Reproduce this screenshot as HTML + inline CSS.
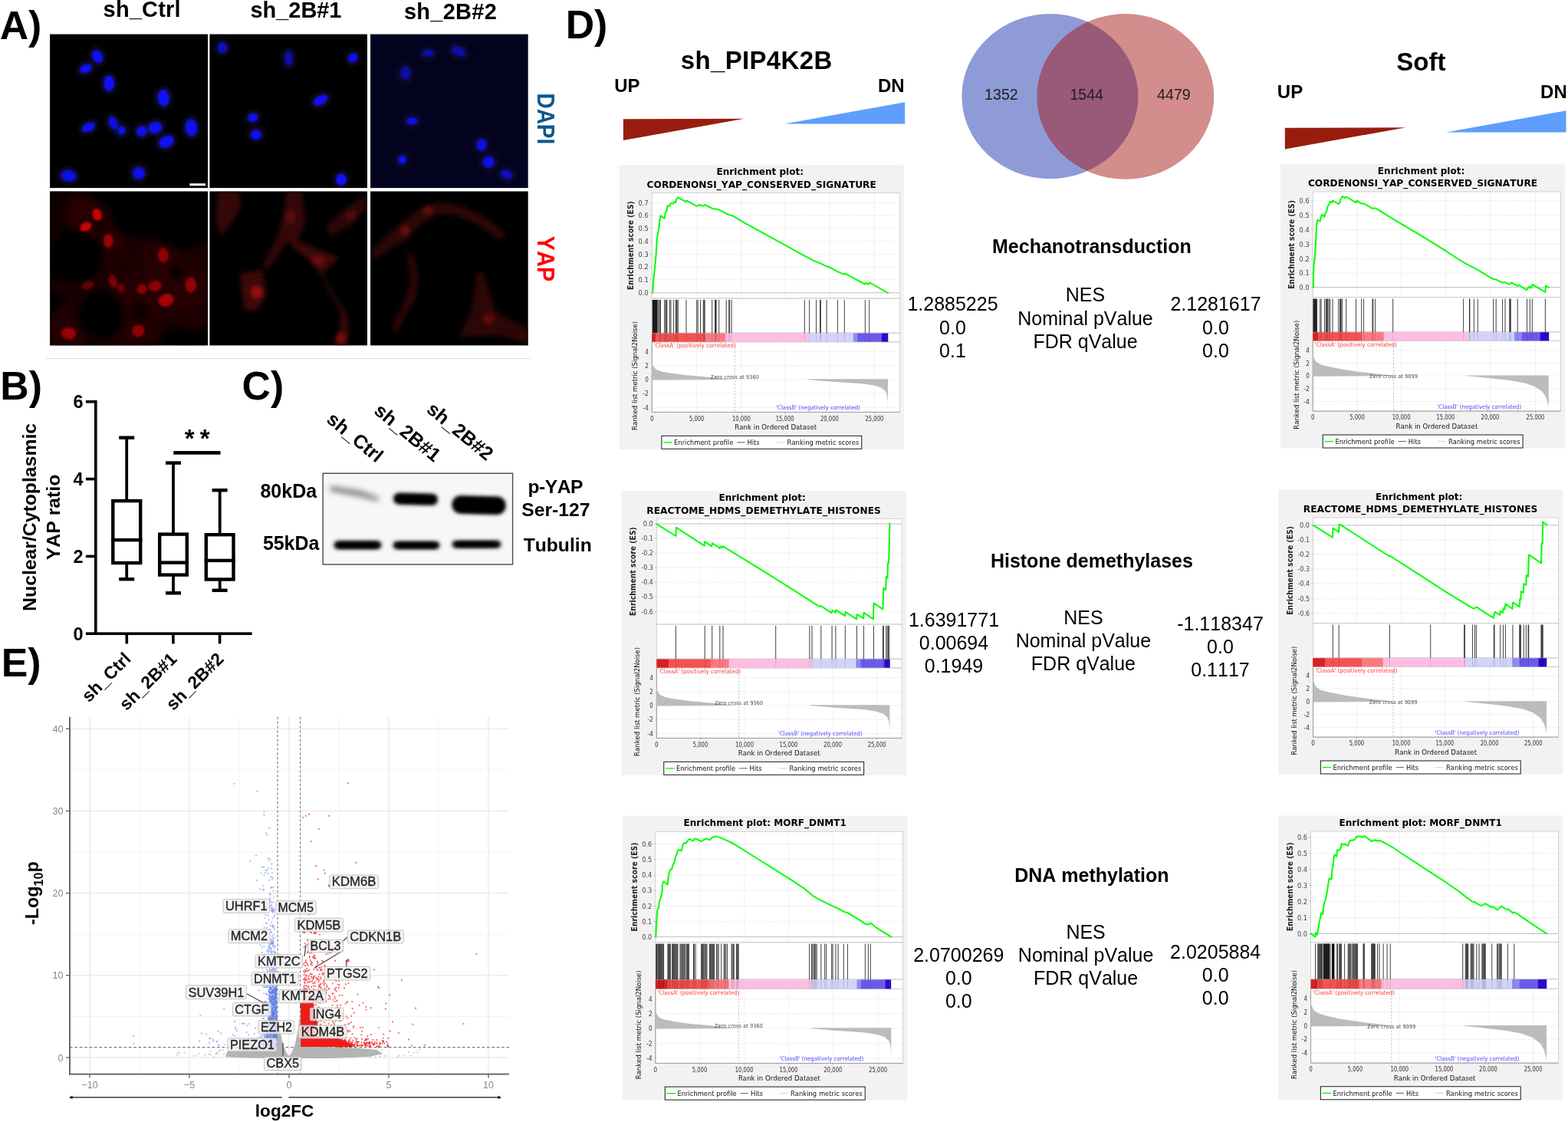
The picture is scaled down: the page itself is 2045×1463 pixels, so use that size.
<!DOCTYPE html>
<html lang="en">
<head>
<meta charset="utf-8">
<title>Figure</title>
<style>
html,body{margin:0;padding:0;background:#fff;}
body{width:2045px;height:1463px;overflow:hidden;font-family:'Liberation Sans',sans-serif;}
svg{display:block;position:absolute;left:0;top:0;}
text{white-space:pre;font-kerning:none;}
</style>
</head>
<body>
<svg width="2045" height="1463" viewBox="0 0 2045 1463" color-interpolation-filters="sRGB">
<rect x="0" y="0" width="2045" height="1463" fill="#ffffff"/>
<!-- panel_a -->
<g>
<defs><filter id="b1" x="-30%" y="-30%" width="160%" height="160%"><feGaussianBlur stdDeviation="0.9"/></filter><filter id="b2" x="-30%" y="-30%" width="160%" height="160%"><feGaussianBlur stdDeviation="2.2"/></filter><filter id="b4" x="-30%" y="-30%" width="160%" height="160%"><feGaussianBlur stdDeviation="4.5"/></filter><filter id="b7" x="-30%" y="-30%" width="160%" height="160%"><feGaussianBlur stdDeviation="7"/></filter><filter id="cell1" x="60" y="245" width="215" height="210" filterUnits="userSpaceOnUse"><feTurbulence type="fractalNoise" baseFrequency="0.35" numOctaves="3" seed="11" result="n"/><feColorMatrix in="n" type="matrix" values="0 0 0 0 1 0 0 0 0 1 0 0 0 0 1 0.8 0 0 0 0.5" result="a"/><feComposite in="SourceGraphic" in2="a" operator="in" result="c"/><feGaussianBlur in="c" stdDeviation="0.5"/></filter><filter id="nuc1" x="60" y="245" width="215" height="210" filterUnits="userSpaceOnUse"><feTurbulence type="fractalNoise" baseFrequency="0.5" numOctaves="2" seed="5" result="n"/><feColorMatrix in="n" type="matrix" values="0 0 0 0 1 0 0 0 0 1 0 0 0 0 1 1.0 0 0 0 0.4" result="a"/><feComposite in="SourceGraphic" in2="a" operator="in" result="c"/><feGaussianBlur in="c" stdDeviation="0.5"/></filter><filter id="cell2" x="270" y="245" width="425" height="210" filterUnits="userSpaceOnUse"><feGaussianBlur in="SourceGraphic" stdDeviation="2.2" result="b"/><feTurbulence type="fractalNoise" baseFrequency="0.6" numOctaves="3" seed="23" result="n"/><feColorMatrix in="n" type="matrix" values="0 0 0 0 1 0 0 0 0 1 0 0 0 0 1 0.9 0 0 0 0.4" result="a"/><feComposite in="b" in2="a" operator="in" result="c"/><feGaussianBlur in="c" stdDeviation="0.7"/></filter>
<clipPath id="cp00"><rect x="65.1" y="44.6" width="206.0" height="200.5"/></clipPath>
<clipPath id="cp01"><rect x="65.1" y="249.5" width="206.0" height="200.9"/></clipPath>
<clipPath id="cp10"><rect x="273.4" y="44.6" width="205.6" height="200.5"/></clipPath>
<clipPath id="cp11"><rect x="273.4" y="249.5" width="205.6" height="200.9"/></clipPath>
<clipPath id="cp20"><rect x="483.1" y="44.6" width="205.6" height="200.5"/></clipPath>
<clipPath id="cp21"><rect x="483.1" y="249.5" width="205.6" height="200.9"/></clipPath>
</defs>
<text x="134.60" y="21.70" font-family="'Liberation Sans', sans-serif" font-size="29" fill="#000" font-weight="bold" textLength="101.00" lengthAdjust="spacing">sh_Ctrl</text>
<text x="326.50" y="23.20" font-family="'Liberation Sans', sans-serif" font-size="29" fill="#000" font-weight="bold" textLength="119.00" lengthAdjust="spacing">sh_2B#1</text>
<text x="526.90" y="24.90" font-family="'Liberation Sans', sans-serif" font-size="29" fill="#000" font-weight="bold" textLength="121.00" lengthAdjust="spacing">sh_2B#2</text>
<rect x="65.1" y="44.6" width="206.0" height="200.5" fill="#000000"/>
<rect x="273.4" y="44.6" width="205.6" height="200.5" fill="#000000"/>
<rect x="483.1" y="44.6" width="205.6" height="200.5" fill="#04031f"/>
<rect x="65.1" y="249.5" width="206.0" height="200.9" fill="#000000"/>
<rect x="273.4" y="249.5" width="205.6" height="200.9" fill="#000000"/>
<rect x="483.1" y="249.5" width="205.6" height="200.9" fill="#000000"/>
<g clip-path="url(#cp00)">
<ellipse cx="127.1" cy="73.7" rx="11.5" ry="13.8" fill="#14143c" opacity="0.55" transform="rotate(-30 127.1 73.7)" filter="url(#b2)"/>
<ellipse cx="111.9" cy="89.4" rx="13.2" ry="10.5" fill="#14143c" opacity="0.55" transform="rotate(-22 111.9 89.4)" filter="url(#b2)"/>
<ellipse cx="142.2" cy="108.6" rx="12.0" ry="15.2" fill="#14143c" opacity="0.55" filter="url(#b2)"/>
<ellipse cx="213.2" cy="127.5" rx="12.8" ry="15.8" fill="#14143c" opacity="0.55" transform="rotate(-5 213.2 127.5)" filter="url(#b2)"/>
<ellipse cx="115.4" cy="165.9" rx="14.2" ry="10.5" fill="#14143c" opacity="0.55" transform="rotate(-25 115.4 165.9)" filter="url(#b2)"/>
<ellipse cx="147.7" cy="160.4" rx="10.5" ry="13.8" fill="#14143c" opacity="0.55" transform="rotate(-20 147.7 160.4)" filter="url(#b2)"/>
<ellipse cx="158.4" cy="169.8" rx="10.5" ry="10.9" fill="#14143c" opacity="0.55" filter="url(#b2)"/>
<ellipse cx="184.8" cy="171.1" rx="11.8" ry="11.8" fill="#14143c" opacity="0.55" filter="url(#b2)"/>
<ellipse cx="202.4" cy="166.3" rx="14.2" ry="12.4" fill="#14143c" opacity="0.55" transform="rotate(-15 202.4 166.3)" filter="url(#b2)"/>
<ellipse cx="249.4" cy="166.3" rx="12.8" ry="16.1" fill="#14143c" opacity="0.55" transform="rotate(-5 249.4 166.3)" filter="url(#b2)"/>
<ellipse cx="217.1" cy="184.8" rx="15.2" ry="12.4" fill="#14143c" opacity="0.55" transform="rotate(-25 217.1 184.8)" filter="url(#b2)"/>
<ellipse cx="89.4" cy="229.2" rx="15.2" ry="12.4" fill="#14143c" opacity="0.55" transform="rotate(10 89.4 229.2)" filter="url(#b2)"/>
<ellipse cx="180.9" cy="225.9" rx="13.2" ry="13.2" fill="#14143c" opacity="0.55" transform="rotate(20 180.9 225.9)" filter="url(#b2)"/>
<ellipse cx="127.1" cy="73.7" rx="6.5" ry="8.8" fill="#1010f6" transform="rotate(-30 127.1 73.7)" filter="url(#b1)"/>
<ellipse cx="111.9" cy="89.4" rx="8.2" ry="5.5" fill="#1010f6" transform="rotate(-22 111.9 89.4)" filter="url(#b1)"/>
<ellipse cx="142.2" cy="108.6" rx="7.0" ry="10.2" fill="#1010f6" filter="url(#b1)"/>
<ellipse cx="213.2" cy="127.5" rx="7.8" ry="10.8" fill="#1010f6" transform="rotate(-5 213.2 127.5)" filter="url(#b1)"/>
<ellipse cx="115.4" cy="165.9" rx="9.2" ry="5.5" fill="#1010f6" transform="rotate(-25 115.4 165.9)" filter="url(#b1)"/>
<ellipse cx="147.7" cy="160.4" rx="5.5" ry="8.8" fill="#1010f6" opacity="0.9" transform="rotate(-20 147.7 160.4)" filter="url(#b1)"/>
<ellipse cx="158.4" cy="169.8" rx="5.5" ry="5.9" fill="#1010f6" opacity="0.9" filter="url(#b1)"/>
<ellipse cx="184.8" cy="171.1" rx="6.8" ry="6.8" fill="#1010f6" opacity="0.95" filter="url(#b1)"/>
<ellipse cx="202.4" cy="166.3" rx="9.2" ry="7.4" fill="#1010f6" transform="rotate(-15 202.4 166.3)" filter="url(#b1)"/>
<ellipse cx="249.4" cy="166.3" rx="7.8" ry="11.1" fill="#1010f6" transform="rotate(-5 249.4 166.3)" filter="url(#b1)"/>
<ellipse cx="217.1" cy="184.8" rx="10.2" ry="7.4" fill="#1010f6" transform="rotate(-25 217.1 184.8)" filter="url(#b1)"/>
<ellipse cx="89.4" cy="229.2" rx="10.2" ry="7.4" fill="#1010f6" opacity="0.9" transform="rotate(10 89.4 229.2)" filter="url(#b1)"/>
<ellipse cx="180.9" cy="225.9" rx="8.2" ry="8.2" fill="#1010f6" opacity="0.9" transform="rotate(20 180.9 225.9)" filter="url(#b1)"/>
</g>
<rect x="247.4" y="239.2" width="20.6" height="3" fill="#fff"/>
<g clip-path="url(#cp10)">
<ellipse cx="290.1" cy="62.2" rx="11.5" ry="12.2" fill="#14102c" opacity="0.6" filter="url(#b2)"/>
<ellipse cx="376.5" cy="76.3" rx="10.5" ry="14.8" fill="#14102c" opacity="0.6" filter="url(#b2)"/>
<ellipse cx="330.0" cy="153.2" rx="11.8" ry="10.5" fill="#14102c" opacity="0.6" transform="rotate(-10 330.0 153.2)" filter="url(#b2)"/>
<ellipse cx="333.9" cy="175.5" rx="12.2" ry="11.8" fill="#14102c" opacity="0.6" filter="url(#b2)"/>
<ellipse cx="460.2" cy="75.3" rx="12.0" ry="10.9" fill="#14102c" opacity="0.6" transform="rotate(-35 460.2 75.3)" filter="url(#b2)"/>
<ellipse cx="418.1" cy="130.7" rx="15.2" ry="10.9" fill="#14102c" opacity="0.6" transform="rotate(-30 418.1 130.7)" filter="url(#b2)"/>
<ellipse cx="445.1" cy="234.1" rx="12.2" ry="12.8" fill="#14102c" opacity="0.6" filter="url(#b2)"/>
<ellipse cx="290.1" cy="62.2" rx="6.5" ry="7.2" fill="#1010f6" opacity="0.75" filter="url(#b1)"/>
<ellipse cx="376.5" cy="76.3" rx="5.5" ry="9.8" fill="#1010f6" opacity="0.65" filter="url(#b1)"/>
<ellipse cx="330.0" cy="153.2" rx="6.8" ry="5.5" fill="#1010f6" transform="rotate(-10 330.0 153.2)" filter="url(#b1)"/>
<ellipse cx="333.9" cy="175.5" rx="7.2" ry="6.8" fill="#1010f6" filter="url(#b1)"/>
<ellipse cx="460.2" cy="75.3" rx="7.0" ry="5.9" fill="#1010f6" opacity="0.95" transform="rotate(-35 460.2 75.3)" filter="url(#b1)"/>
<ellipse cx="418.1" cy="130.7" rx="10.2" ry="5.9" fill="#1010f6" transform="rotate(-30 418.1 130.7)" filter="url(#b1)"/>
<ellipse cx="445.1" cy="234.1" rx="7.2" ry="7.8" fill="#1010f6" filter="url(#b1)"/>
</g>
<g clip-path="url(#cp20)">
<ellipse cx="558.4" cy="69.4" rx="12.2" ry="9.9" fill="#101038" opacity="0.6" filter="url(#b2)"/>
<ellipse cx="598.1" cy="66.9" rx="14.8" ry="10.9" fill="#101038" opacity="0.6" transform="rotate(25 598.1 66.9)" filter="url(#b2)"/>
<ellipse cx="529.0" cy="95.3" rx="11.8" ry="13.2" fill="#101038" opacity="0.6" filter="url(#b2)"/>
<ellipse cx="537.5" cy="157.8" rx="12.4" ry="9.9" fill="#101038" opacity="0.6" filter="url(#b2)"/>
<ellipse cx="524.7" cy="208.3" rx="10.3" ry="10.3" fill="#101038" opacity="0.6" filter="url(#b2)"/>
<ellipse cx="628.0" cy="188.8" rx="11.8" ry="12.8" fill="#101038" opacity="0.6" filter="url(#b2)"/>
<ellipse cx="637.2" cy="211.2" rx="12.8" ry="12.4" fill="#101038" opacity="0.6" filter="url(#b2)"/>
<ellipse cx="660.7" cy="227.3" rx="12.8" ry="10.9" fill="#101038" opacity="0.6" transform="rotate(20 660.7 227.3)" filter="url(#b2)"/>
<ellipse cx="558.4" cy="69.4" rx="7.2" ry="4.9" fill="#1010f6" opacity="0.6" filter="url(#b1)"/>
<ellipse cx="598.1" cy="66.9" rx="9.8" ry="5.9" fill="#1010f6" opacity="0.6" transform="rotate(25 598.1 66.9)" filter="url(#b1)"/>
<ellipse cx="529.0" cy="95.3" rx="6.8" ry="8.2" fill="#1010f6" opacity="0.6" filter="url(#b1)"/>
<ellipse cx="537.5" cy="157.8" rx="7.4" ry="4.9" fill="#1010f6" opacity="0.9" filter="url(#b1)"/>
<ellipse cx="524.7" cy="208.3" rx="5.3" ry="5.3" fill="#1010f6" filter="url(#b1)"/>
<ellipse cx="628.0" cy="188.8" rx="6.8" ry="7.8" fill="#1010f6" opacity="0.9" filter="url(#b1)"/>
<ellipse cx="637.2" cy="211.2" rx="7.8" ry="7.4" fill="#1010f6" opacity="0.9" filter="url(#b1)"/>
<ellipse cx="660.7" cy="227.3" rx="7.8" ry="5.9" fill="#1010f6" opacity="0.7" transform="rotate(20 660.7 227.3)" filter="url(#b1)"/>
</g>
<g clip-path="url(#cp01)"><g filter="url(#cell1)">
<polygon points="84.1,249.6 109.5,253.5 136.9,276.9 156.5,306.3 205.4,312.2 234.7,329.8 271.9,312.2 271.9,425.6 254.3,435.4 224.9,425.6 205.4,451.0 64.5,451.0 64.5,411.9 88.0,386.5 125.2,357.1 135.0,323.9 109.5,304.3 88.0,288.7" fill="#1f0002" filter="url(#b4)"/>
<polygon points="65.5,249.6 86.1,249.6 88.0,292.6 78.2,331.7 65.5,339.5" fill="#150001" filter="url(#b4)"/>
<polygon points="65.5,365.0 136.9,357.1 140.8,382.6 93.9,386.5 65.5,382.6" fill="#1c0002" filter="url(#b4)"/>
<ellipse cx="109.5" cy="278.9" rx="25.4" ry="23.5" fill="#340003" opacity="0.5" filter="url(#b4)"/>
<ellipse cx="117.4" cy="286.7" rx="29.3" ry="25.4" fill="#340003" opacity="0.5" filter="url(#b4)"/>
<ellipse cx="211.2" cy="339.5" rx="27.4" ry="23.5" fill="#340003" opacity="0.5" filter="url(#b4)"/>
<ellipse cx="195.6" cy="382.6" rx="50.9" ry="29.3" fill="#340003" opacity="0.5" filter="url(#b4)"/>
<ellipse cx="248.4" cy="374.7" rx="21.5" ry="31.3" fill="#340003" opacity="0.5" filter="url(#b4)"/>
<ellipse cx="90.0" cy="433.4" rx="23.5" ry="19.6" fill="#340003" opacity="0.5" filter="url(#b4)"/>
<ellipse cx="180.0" cy="431.5" rx="21.5" ry="17.6" fill="#340003" opacity="0.5" filter="url(#b4)"/>
<ellipse cx="144.7" cy="316.1" rx="17.6" ry="19.6" fill="#340003" opacity="0.5" filter="url(#b4)"/>
<ellipse cx="97.8" cy="335.6" rx="33.3" ry="32.3" fill="#000" opacity="0.96" filter="url(#b4)"/>
<ellipse cx="131.1" cy="410.9" rx="29.3" ry="31.3" fill="#000" opacity="0.96" filter="url(#b4)"/>
<ellipse cx="230.8" cy="355.2" rx="8.8" ry="8.8" fill="#000" opacity="0.8" filter="url(#b4)"/>
<ellipse cx="181.9" cy="406.0" rx="10.8" ry="11.7" fill="#000" opacity="0.7" filter="url(#b4)"/>
<ellipse cx="129.1" cy="294.5" rx="7.8" ry="7.8" fill="#000" opacity="0.7" filter="url(#b4)"/>
<ellipse cx="244.5" cy="441.2" rx="31.3" ry="11.7" fill="#000" opacity="0.6" filter="url(#b4)"/>
</g><g filter="url(#nuc1)">
<ellipse cx="126.7" cy="279.9" rx="5.9" ry="8.2" fill="#ea0409" opacity="0.8967999999999999" transform="rotate(-20 126.7 279.9)" filter="url(#b1)"/>
<ellipse cx="111.9" cy="295.5" rx="7.8" ry="5.5" fill="#ea0409" opacity="0.95" transform="rotate(-25 111.9 295.5)" filter="url(#b1)"/>
<ellipse cx="141.4" cy="314.1" rx="6.3" ry="9.2" fill="#ea0409" opacity="0.646" filter="url(#b1)"/>
<ellipse cx="212.8" cy="332.7" rx="6.8" ry="9.8" fill="#ea0409" opacity="0.6080000000000001" transform="rotate(-5 212.8 332.7)" filter="url(#b1)"/>
<ellipse cx="114.4" cy="371.8" rx="8.2" ry="5.5" fill="#ea0409" opacity="0.38" transform="rotate(-20 114.4 371.8)" filter="url(#b1)"/>
<ellipse cx="147.3" cy="366.9" rx="5.5" ry="8.8" fill="#ea0409" opacity="0.49400000000000005" transform="rotate(-15 147.3 366.9)" filter="url(#b1)"/>
<ellipse cx="158.4" cy="375.7" rx="4.9" ry="5.5" fill="#ea0409" opacity="0.41800000000000004" filter="url(#b1)"/>
<ellipse cx="185.2" cy="376.7" rx="6.8" ry="6.8" fill="#ea0409" opacity="0.5319999999999999" filter="url(#b1)"/>
<ellipse cx="202.1" cy="372.8" rx="8.8" ry="7.4" fill="#ea0409" opacity="0.5700000000000001" transform="rotate(-10 202.1 372.8)" filter="url(#b1)"/>
<ellipse cx="248.8" cy="371.8" rx="7.4" ry="10.2" fill="#ea0409" opacity="0.6080000000000001" filter="url(#b1)"/>
<ellipse cx="216.7" cy="391.4" rx="10.2" ry="8.2" fill="#ea0409" opacity="0.722" transform="rotate(-20 216.7 391.4)" filter="url(#b1)"/>
<ellipse cx="89.4" cy="434.8" rx="9.8" ry="7.8" fill="#ea0409" opacity="0.646" transform="rotate(10 89.4 434.8)" filter="url(#b1)"/>
<ellipse cx="180.3" cy="431.5" rx="8.2" ry="8.2" fill="#ea0409" opacity="0.5700000000000001" filter="url(#b1)"/>
</g></g>
<g clip-path="url(#cp11)"><g filter="url(#cell2)">
<polygon points="283.6,249.6 311.0,249.6 314.9,269.1 301.2,292.6 287.5,308.2 281.7,288.7" fill="#4a0c0c" opacity="0.85" filter="url(#b2)"/>
<polygon points="373.6,249.6 393.2,249.6 399.0,288.7 389.2,312.2 371.6,318.0 350.1,351.3 342.3,347.4 361.9,308.2 369.7,278.9" fill="#4a0c0c" opacity="0.8" filter="url(#b2)"/>
<polygon points="313.0,357.1 342.3,351.3 348.2,386.5 332.5,406.0 318.8,404.1 314.9,378.7" fill="#4a0c0c" opacity="0.95" filter="url(#b2)"/>
<polygon points="477.8,255.4 479.8,269.1 458.2,294.5 430.9,308.2 425.0,294.5 444.5,276.9 466.1,261.3" fill="#4a0c0c" opacity="0.7" filter="url(#b2)"/>
<polygon points="380.0,306.3 391.7,316.1 442.6,335.6 419.1,359.1 403.5,339.5 380.0,320.0" fill="#4a0c0c" opacity="0.95" filter="url(#b2)"/>
<polygon points="418.1,359.1 421.5,359.1 438.7,390.4 451.4,406.0 455.3,425.6 453.3,451.0 435.7,451.0 443.0,425.6 444.5,406.0 431.8,386.5" fill="#4a0c0c" opacity="0.85" filter="url(#b2)"/>
<ellipse cx="378.5" cy="282.8" rx="6.8" ry="8.8" fill="#c81414" opacity="0.36000000000000004" filter="url(#b1)"/>
<ellipse cx="334.9" cy="381.0" rx="7.8" ry="9.0" fill="#c81414" opacity="0.765" filter="url(#b1)"/>
<ellipse cx="458.2" cy="280.9" rx="7.8" ry="5.9" fill="#c81414" opacity="0.315" transform="rotate(-30 458.2 280.9)" filter="url(#b1)"/>
<ellipse cx="415.2" cy="339.5" rx="8.8" ry="6.8" fill="#c81414" opacity="0.45" filter="url(#b1)"/>
<ellipse cx="444.5" cy="441.2" rx="6.8" ry="7.8" fill="#c81414" opacity="0.54" filter="url(#b1)"/>
</g></g>
<g clip-path="url(#cp21)"><g filter="url(#cell2)">
<polygon points="483.7,327.8 507.1,304.3 528.7,286.7 552.1,269.1 575.6,263.3 604.9,269.1 634.3,284.8 659.7,304.3 653.8,314.1 624.5,294.5 595.2,280.9 571.7,278.9 548.2,292.6 528.7,314.1 507.1,325.8 485.6,339.5" fill="#420b0b" opacity="0.8" filter="url(#b2)"/>
<polygon points="530.6,327.8 538.4,331.7 546.3,359.1 542.3,390.4 528.7,411.9 516.9,437.3 511.1,425.6 524.7,398.2 534.5,370.8 532.6,347.4" fill="#420b0b" opacity="0.75" filter="url(#b2)"/>
<polygon points="622.5,355.2 630.4,355.2 646.0,406.0 689.0,429.5 689.0,449.1 653.8,437.3 599.1,439.3 614.7,406.0" fill="#420b0b" opacity="0.8" filter="url(#b2)"/>
<ellipse cx="528.1" cy="300.4" rx="6.8" ry="7.4" fill="#c81414" opacity="0.45" filter="url(#b1)"/>
<ellipse cx="558.4" cy="274.6" rx="7.4" ry="6.3" fill="#c81414" opacity="0.405" transform="rotate(-20 558.4 274.6)" filter="url(#b1)"/>
<ellipse cx="637.2" cy="415.8" rx="7.4" ry="7.4" fill="#c81414" opacity="0.405" filter="url(#b1)"/>
</g></g>
<text x="701.20" y="121.60" font-family="'Liberation Sans', sans-serif" font-size="30.5" fill="#0a578c" font-weight="bold" textLength="66.60" lengthAdjust="spacingAndGlyphs" transform="rotate(90 701.20 121.60)">DAPI</text>
<text x="701.20" y="307.60" font-family="'Liberation Sans', sans-serif" font-size="30.5" fill="#ff0000" font-weight="bold" textLength="59.60" lengthAdjust="spacingAndGlyphs" transform="rotate(90 701.20 307.60)">YAP</text>
<rect x="59.7" y="467.1" width="632.3" height="1" fill="#dcdcdc"/>
<text x="-0.30" y="50.50" font-family="'Liberation Sans', sans-serif" font-size="51.8" fill="#000" font-weight="bold">A)</text>
</g>
<!-- panel_b -->
<g>
<rect x="123.0" y="521.9" width="3.6" height="306.1" fill="#000"/>
<rect x="111.9" y="824.4" width="216.7" height="3.6" fill="#000"/>
<text x="108.60" y="834.50" font-family="'Liberation Sans', sans-serif" font-size="23.5" fill="#000" font-weight="bold" text-anchor="end">0</text>
<rect x="111.9" y="723.6" width="13" height="3.6" fill="#000"/>
<text x="108.60" y="733.70" font-family="'Liberation Sans', sans-serif" font-size="23.5" fill="#000" font-weight="bold" text-anchor="end">2</text>
<rect x="111.9" y="622.8" width="13" height="3.6" fill="#000"/>
<text x="108.60" y="632.90" font-family="'Liberation Sans', sans-serif" font-size="23.5" fill="#000" font-weight="bold" text-anchor="end">4</text>
<rect x="111.9" y="522.0" width="13" height="3.6" fill="#000"/>
<text x="108.60" y="532.10" font-family="'Liberation Sans', sans-serif" font-size="23.5" fill="#000" font-weight="bold" text-anchor="end">6</text>
<rect x="163.5" y="826.2" width="3.6" height="13.2" fill="#000"/>
<rect x="224.1" y="826.2" width="3.6" height="13.2" fill="#000"/>
<rect x="284.8" y="826.2" width="3.6" height="13.2" fill="#000"/>
<rect x="147.3" y="653.1" width="35.9" height="80.9" fill="#fff" stroke="#000" stroke-width="4.4"/>
<rect x="145.1" y="701.9" width="40.3" height="4.4" fill="#000"/>
<rect x="163.3" y="570.7" width="3.8" height="81.2" fill="#000"/>
<rect x="163.3" y="735.2" width="3.8" height="20.0" fill="#000"/>
<rect x="155.2" y="568.5" width="20" height="4.4" fill="#000"/>
<rect x="155.2" y="753.0" width="20" height="4.4" fill="#000"/>
<rect x="208.2" y="696.6" width="35.6" height="53.0" fill="#fff" stroke="#000" stroke-width="4.4"/>
<rect x="206.0" y="731.4" width="40.0" height="4.4" fill="#000"/>
<rect x="224.1" y="603.6" width="3.8" height="91.8" fill="#000"/>
<rect x="224.1" y="750.8" width="3.8" height="22.5" fill="#000"/>
<rect x="216.0" y="601.4" width="20" height="4.4" fill="#000"/>
<rect x="216.0" y="771.1" width="20" height="4.4" fill="#000"/>
<rect x="268.8" y="697.2" width="35.7" height="58.3" fill="#fff" stroke="#000" stroke-width="4.4"/>
<rect x="266.6" y="728.7" width="40.1" height="4.4" fill="#000"/>
<rect x="284.8" y="639.2" width="3.8" height="56.8" fill="#000"/>
<rect x="284.8" y="756.7" width="3.8" height="13.1" fill="#000"/>
<rect x="276.6" y="637.0" width="20" height="4.4" fill="#000"/>
<rect x="276.6" y="767.6" width="20" height="4.4" fill="#000"/>
<rect x="226.3" y="588.1" width="61.2" height="4.6" fill="#000"/>
<text x="257.20" y="583.20" font-family="'Liberation Sans', sans-serif" font-size="33" fill="#000" font-weight="bold" text-anchor="middle" textLength="33.00" lengthAdjust="spacing">**</text>
<g transform="translate(0 0)">
<text transform="translate(46.8 674.4) rotate(-90)" font-family="'Liberation Sans', sans-serif" font-size="24.8" font-weight="bold" text-anchor="middle" textLength="245" lengthAdjust="spacing">Nuclear/Cytoplasmic</text>
<text transform="translate(78.2 674.4) rotate(-90)" font-family="'Liberation Sans', sans-serif" font-size="24.8" font-weight="bold" text-anchor="middle">YAP ratio</text>
</g>
<text transform="translate(172.0 860.6) rotate(-45)" font-family="'Liberation Sans', sans-serif" font-size="23" font-weight="bold" text-anchor="end">sh_Ctrl</text>
<text transform="translate(232.0 860.6) rotate(-45)" font-family="'Liberation Sans', sans-serif" font-size="23" font-weight="bold" text-anchor="end">sh_2B#1</text>
<text transform="translate(293.0 860.6) rotate(-45)" font-family="'Liberation Sans', sans-serif" font-size="23" font-weight="bold" text-anchor="end">sh_2B#2</text>
<text x="0.30" y="520.70" font-family="'Liberation Sans', sans-serif" font-size="51.8" fill="#000" font-weight="bold">B)</text>
<text x="1.70" y="881.70" font-family="'Liberation Sans', sans-serif" font-size="51.8" fill="#000" font-weight="bold">E)</text>
</g>
<!-- panel_c -->
<g>
<defs><filter id="wb1" x="-30%" y="-60%" width="160%" height="220%"><feGaussianBlur stdDeviation="2.6"/></filter><filter id="wb2" x="-30%" y="-60%" width="160%" height="220%"><feGaussianBlur stdDeviation="3.5"/></filter><clipPath id="wbc"><rect x="421" y="617.4" width="247.5" height="118"/></clipPath></defs>
<rect x="421.2" y="617.2" width="247.4" height="118.8" fill="#f7f7f7" stroke="#4a4a4a" stroke-width="1.4"/>
<g clip-path="url(#wbc)">
<path d="M430 633 L470 639 L494 648 L493 654 L468 648 L431 641 Z" fill="#808080" opacity=".85" filter="url(#wb2)"/>
<rect x="513" y="643.5" width="58" height="14.5" rx="7" fill="#000" filter="url(#wb1)" transform="rotate(1.5 542 651)"/>
<rect x="518" y="646" width="48" height="9.5" rx="4.5" fill="#000" filter="url(#wb1)" transform="rotate(1.5 542 651)"/>
<rect x="589.5" y="647" width="70" height="23" rx="11" fill="#000" filter="url(#wb1)" transform="rotate(1.5 624 658)"/>
<rect x="594" y="650" width="62" height="18" rx="8" fill="#000" filter="url(#wb1)" transform="rotate(1.5 624 658)"/>
<rect x="435.5" y="705.5" width="62" height="10.5" rx="5" fill="#000" filter="url(#wb1)"/>
<rect x="441" y="707.5" width="51" height="6.5" rx="3" fill="#000" filter="url(#wb1)"/>
<rect x="512.5" y="706" width="61" height="10" rx="5" fill="#000" filter="url(#wb1)"/>
<rect x="518" y="708" width="50" height="6" rx="3" fill="#000" filter="url(#wb1)"/>
<rect x="589.5" y="705" width="64" height="9.5" rx="4.7" fill="#000" filter="url(#wb1)"/>
<rect x="595" y="707" width="53" height="5.5" rx="2.7" fill="#000" filter="url(#wb1)"/>
</g>
<text x="339.40" y="648.70" font-family="'Liberation Sans', sans-serif" font-size="25" fill="#000" font-weight="bold" textLength="73.80" lengthAdjust="spacing">80kDa</text>
<text x="343.00" y="717.20" font-family="'Liberation Sans', sans-serif" font-size="25" fill="#000" font-weight="bold" textLength="73.30" lengthAdjust="spacing">55kDa</text>
<text x="724.50" y="643.30" font-family="'Liberation Sans', sans-serif" font-size="24.7" fill="#000" font-weight="bold" text-anchor="middle" textLength="71.80" lengthAdjust="spacing">p-YAP</text>
<text x="724.80" y="672.60" font-family="'Liberation Sans', sans-serif" font-size="24.7" fill="#000" font-weight="bold" text-anchor="middle">Ser-127</text>
<text x="727.20" y="718.60" font-family="'Liberation Sans', sans-serif" font-size="24.7" fill="#000" font-weight="bold" text-anchor="middle">Tubulin</text>
<text transform="translate(490.9 604.1) rotate(39.5)" font-family="'Liberation Sans', sans-serif" font-size="25" font-weight="bold" text-anchor="end">sh_Ctrl</text>
<text transform="translate(565.9 603.4) rotate(39.5)" font-family="'Liberation Sans', sans-serif" font-size="25" font-weight="bold" text-anchor="end">sh_2B#1</text>
<text transform="translate(634.4 601.6) rotate(39.5)" font-family="'Liberation Sans', sans-serif" font-size="25" font-weight="bold" text-anchor="end">sh_2B#2</text>
<text x="315.60" y="520.60" font-family="'Liberation Sans', sans-serif" font-size="51.8" fill="#000" font-weight="bold">C)</text>
</g>
<!-- panel_e -->
<g>
<defs><filter id="vb" x="-5%" y="-5%" width="110%" height="110%"><feGaussianBlur stdDeviation="0.45"/></filter><clipPath id="vcl"><rect x="91.0" y="934.8" width="573.0" height="465.79999999999995"/></clipPath></defs>
<g filter="url(#vb)">
<rect x="116.4" y="934.8" width="1.2" height="465.8" fill="#e8e8e8"/>
<rect x="246.4" y="934.8" width="1.2" height="465.8" fill="#e8e8e8"/>
<rect x="376.4" y="934.8" width="1.2" height="465.8" fill="#e8e8e8"/>
<rect x="506.4" y="934.8" width="1.2" height="465.8" fill="#e8e8e8"/>
<rect x="636.4" y="934.8" width="1.2" height="465.8" fill="#e8e8e8"/>
<rect x="181.6" y="934.8" width="0.8" height="465.8" fill="#f1f1f1"/>
<rect x="311.6" y="934.8" width="0.8" height="465.8" fill="#f1f1f1"/>
<rect x="441.6" y="934.8" width="0.8" height="465.8" fill="#f1f1f1"/>
<rect x="571.6" y="934.8" width="0.8" height="465.8" fill="#f1f1f1"/>
<rect x="91.0" y="1378.4" width="573.0" height="1.2" fill="#e8e8e8"/>
<rect x="91.0" y="1271.2" width="573.0" height="1.2" fill="#e8e8e8"/>
<rect x="91.0" y="1164.0" width="573.0" height="1.2" fill="#e8e8e8"/>
<rect x="91.0" y="1056.8" width="573.0" height="1.2" fill="#e8e8e8"/>
<rect x="91.0" y="949.6" width="573.0" height="1.2" fill="#e8e8e8"/>
<rect x="91.0" y="1325.0" width="573.0" height="0.8" fill="#f1f1f1"/>
<rect x="91.0" y="1217.8" width="573.0" height="0.8" fill="#f1f1f1"/>
<rect x="91.0" y="1110.6" width="573.0" height="0.8" fill="#f1f1f1"/>
<rect x="91.0" y="1003.4" width="573.0" height="0.8" fill="#f1f1f1"/>
<line x1="362.0" y1="934.8" x2="362.0" y2="1400.6" stroke="#777" stroke-width="1.1" stroke-dasharray="3.2 2.6"/>
<line x1="391.6" y1="934.8" x2="391.6" y2="1400.6" stroke="#777" stroke-width="1.1" stroke-dasharray="3.2 2.6"/>
<line x1="91.0" y1="1365.6" x2="664.0" y2="1365.6" stroke="#777" stroke-width="1.1" stroke-dasharray="3.6 2.8"/>
<g clip-path="url(#vcl)">
<path d="M293.8 1377.9 L296.4 1371.0 L325.0 1368.3 L343.2 1365.6 L361.4 1365.1 L362.2 1340.4 L365.3 1344.7 L369.2 1361.8 L373.9 1373.1 L377.0 1376.9 L380.1 1373.1 L384.8 1361.8 L388.7 1342.6 L391.3 1319.0 L392.6 1365.1 L429.0 1365.3 L465.4 1366.7 L491.4 1368.8 L499.2 1374.2 L481.0 1377.9 L429.0 1380.1 L351.0 1380.1 L312.0 1379.0Z" fill="#b4b4b4"/>
<path d="M416.7 1377.3h0M334.2 1377.3h0M451.0 1376.2h0M446.7 1377.1h0M410.0 1377.5h0M292.1 1373.9h0M416.4 1375.8h0M290.7 1369.1h0M336.5 1376.0h0M404.9 1378.2h0M417.2 1375.0h0M405.1 1376.4h0M349.6 1369.3h0M419.2 1372.0h0M351.9 1374.5h0M423.6 1377.1h0M332.7 1375.7h0M457.2 1374.1h0M401.4 1376.2h0M302.2 1378.2h0M462.1 1367.7h0M340.7 1375.8h0M303.6 1374.0h0M425.7 1373.4h0M469.8 1376.5h0M313.1 1375.2h0M352.4 1376.0h0M315.1 1373.3h0M461.1 1367.6h0M304.0 1377.2h0M470.0 1375.4h0M407.8 1374.5h0M323.3 1373.2h0M450.4 1377.6h0M401.5 1376.1h0M478.6 1375.1h0M417.1 1375.5h0M297.7 1371.6h0M442.0 1375.6h0M274.5 1375.1h0M435.6 1368.8h0M445.7 1371.4h0M479.5 1375.5h0M406.0 1375.0h0M452.9 1374.9h0M447.0 1378.3h0M337.0 1373.4h0M471.2 1376.1h0M308.5 1377.7h0M467.8 1373.0h0M459.5 1371.7h0M342.4 1375.1h0M452.0 1373.9h0M407.1 1377.7h0M420.3 1377.5h0M403.3 1375.4h0M431.1 1375.4h0M502.4 1376.7h0M440.2 1376.7h0M409.5 1368.6h0M240.7 1372.4h0M401.4 1376.3h0M401.0 1376.2h0M424.9 1377.0h0M526.4 1376.6h0M355.7 1377.9h0M231.4 1375.9h0M445.1 1372.2h0M441.9 1373.9h0M472.7 1369.3h0M423.1 1372.6h0M233.9 1372.6h0M304.6 1374.8h0M302.0 1377.5h0M455.7 1377.7h0M398.3 1374.2h0M475.1 1372.8h0M544.4 1372.3h0M439.7 1377.0h0M427.7 1377.3h0M423.9 1370.3h0M301.1 1375.2h0M332.3 1373.0h0M303.3 1371.7h0M430.1 1370.6h0M333.8 1378.5h0M322.2 1374.4h0M478.3 1373.7h0M476.7 1373.2h0M274.6 1370.9h0M352.9 1376.3h0M410.8 1370.4h0M329.0 1372.4h0M472.5 1370.7h0M344.8 1373.0h0M468.9 1377.1h0M256.0 1376.4h0M281.4 1374.1h0M405.5 1375.2h0M435.0 1378.0h0M463.3 1378.1h0M446.9 1370.5h0M479.5 1374.9h0M437.7 1368.4h0M325.4 1367.9h0M448.5 1371.9h0M353.6 1377.2h0M489.9 1378.2h0M417.8 1373.1h0M315.3 1375.5h0M448.8 1369.6h0M353.2 1373.1h0M432.7 1378.4h0M433.5 1377.6h0M320.0 1370.1h0M350.9 1373.5h0M355.1 1373.6h0M343.3 1370.3h0M319.9 1376.5h0M252.4 1376.7h0M350.7 1368.1h0M428.9 1377.0h0M259.8 1373.8h0M404.0 1376.0h0M432.0 1374.5h0M425.5 1376.7h0M463.7 1374.9h0M413.2 1367.3h0M438.7 1371.4h0M498.4 1369.0h0M414.2 1365.5h0M334.3 1374.8h0M495.3 1377.8h0M419.5 1373.6h0M335.6 1378.0h0M404.1 1374.0h0M329.3 1376.5h0M438.4 1377.9h0M338.6 1374.0h0M539.9 1372.4h0M422.9 1375.9h0M483.7 1376.2h0M417.3 1368.0h0M446.5 1376.7h0M347.2 1371.4h0M490.9 1370.9h0M349.3 1376.9h0M397.9 1376.3h0M331.7 1367.1h0M446.7 1372.1h0M310.5 1369.3h0M444.0 1368.7h0M433.7 1373.8h0M402.3 1366.9h0M344.6 1378.1h0M417.3 1374.6h0M413.6 1376.4h0M423.9 1377.3h0M432.5 1378.2h0M340.1 1375.1h0M315.4 1376.2h0M447.7 1376.1h0M412.9 1373.3h0M278.9 1378.1h0M334.2 1374.5h0M327.9 1370.0h0M309.1 1374.4h0M417.2 1375.8h0M472.3 1374.7h0M421.5 1369.6h0M443.0 1373.0h0M325.5 1377.7h0M429.1 1376.9h0M448.5 1375.3h0M439.4 1377.3h0M533.1 1371.8h0M535.8 1376.6h0M437.4 1373.2h0M320.6 1377.5h0M408.0 1372.4h0M432.2 1378.3h0M436.2 1375.6h0M399.2 1378.2h0M426.6 1372.8h0M351.4 1378.4h0M303.7 1376.1h0M272.5 1374.8h0M419.9 1375.4h0M306.4 1368.7h0M416.9 1372.6h0M336.9 1377.5h0M283.3 1374.3h0M440.9 1368.3h0M423.5 1369.0h0M283.0 1372.8h0M351.4 1370.9h0M401.7 1375.1h0M427.6 1370.4h0M454.0 1371.4h0M326.8 1372.7h0M415.4 1370.0h0M316.6 1378.3h0M343.9 1374.7h0M407.7 1378.0h0M349.0 1377.5h0M231.7 1373.2h0M301.4 1377.4h0M308.6 1377.1h0M413.7 1375.2h0M338.7 1377.7h0M429.4 1376.9h0M346.1 1371.2h0M345.0 1372.5h0M417.3 1376.3h0M520.3 1376.7h0M450.4 1377.8h0M451.2 1365.7h0M344.4 1377.1h0M421.9 1365.9h0M405.8 1371.6h0M431.2 1373.4h0M416.6 1377.6h0M416.5 1372.7h0M455.0 1373.0h0M401.7 1367.1h0M453.9 1378.3h0M341.2 1377.1h0M420.7 1374.7h0M343.2 1369.1h0M482.7 1378.4h0M402.8 1376.2h0M468.3 1374.7h0M426.0 1375.9h0M347.7 1374.6h0M463.7 1378.4h0M348.7 1374.1h0M405.2 1370.3h0M452.1 1375.7h0M518.0 1378.4h0M432.4 1375.0h0M287.3 1368.9h0M465.5 1371.9h0M301.3 1369.8h0M454.7 1376.0h0M325.2 1378.3h0M305.1 1378.1h0M405.1 1376.0h0M335.7 1377.6h0M477.0 1374.3h0M347.2 1373.4h0M404.3 1375.7h0M419.9 1367.2h0M347.1 1378.4h0M547.3 1368.5h0M410.7 1377.2h0M408.3 1378.2h0M431.5 1368.3h0M336.8 1378.5h0M328.4 1372.9h0M423.3 1375.0h0M423.7 1374.5h0M404.9 1375.7h0M306.8 1378.3h0M413.4 1375.6h0M430.3 1373.8h0M424.0 1368.5h0M355.7 1377.7h0M475.5 1376.8h0M438.8 1374.8h0M285.8 1370.7h0M438.8 1369.1h0M430.0 1377.8h0M413.0 1376.5h0M301.7 1377.3h0M472.8 1375.4h0M328.9 1371.2h0M317.6 1376.7h0M484.2 1376.2h0M401.4 1366.5h0M348.8 1375.6h0M418.8 1373.0h0M320.5 1376.9h0M401.6 1371.5h0M413.7 1377.8h0M447.7 1371.0h0M435.8 1374.4h0M430.3 1370.3h0M398.6 1370.4h0M348.7 1376.5h0M322.8 1367.9h0M402.3 1375.5h0M438.2 1377.0h0M352.8 1375.9h0M297.7 1374.8h0M436.0 1377.6h0M405.0 1375.0h0M404.7 1369.5h0M348.1 1365.8h0M350.6 1378.4h0M446.0 1371.8h0M267.2 1375.2h0M432.9 1375.1h0" fill="none" stroke="#b4b4b4" stroke-width="1.9" stroke-linecap="round" opacity="0.85"/>
<path d="M361.4 1365.1 L332.8 1365.1 L344.5 1353.3 L349.7 1336.1 L351.0 1293.2 L361.4 1286.8 Z" fill="#4f6fe0" opacity=".5"/>
<path d="M343.4 1353.8h0M354.9 1361.0h0M358.6 1293.8h0M358.6 1295.0h0M337.9 1291.2h0M354.9 1338.9h0M346.6 1305.9h0M357.8 1362.5h0M355.5 1335.4h0M360.9 1338.8h0M360.7 1342.9h0M357.8 1337.2h0M360.2 1288.6h0M353.3 1348.6h0M351.3 1299.9h0M353.8 1330.8h0M358.8 1335.5h0M358.9 1292.1h0M355.1 1293.9h0M350.7 1362.7h0M354.6 1304.2h0M358.8 1361.8h0M360.6 1292.1h0M360.9 1344.7h0M346.7 1338.2h0M352.1 1343.5h0M358.7 1344.3h0M358.9 1308.2h0M356.2 1364.8h0M352.8 1305.1h0M356.3 1290.2h0M360.4 1363.1h0M353.5 1289.2h0M357.3 1289.4h0M357.8 1331.0h0M357.3 1325.9h0M359.3 1301.4h0M356.0 1306.5h0M350.7 1316.9h0M358.4 1339.1h0M355.3 1303.0h0M357.5 1358.8h0M350.5 1345.4h0M352.8 1359.9h0M359.3 1339.2h0M346.2 1287.3h0M347.7 1344.1h0M354.6 1358.4h0M356.6 1308.8h0M360.4 1329.6h0M354.2 1315.9h0M361.0 1311.6h0M348.0 1312.4h0M358.1 1355.5h0M356.4 1320.1h0M360.8 1335.5h0M356.6 1345.4h0M353.1 1345.6h0M349.6 1319.2h0M344.4 1339.2h0M348.3 1324.8h0M357.6 1346.7h0M352.0 1286.5h0M348.8 1356.9h0M359.2 1298.4h0M355.7 1292.5h0M359.7 1355.6h0M352.3 1350.0h0M359.6 1291.3h0M356.2 1335.5h0M355.6 1344.4h0M358.1 1303.4h0M360.1 1317.8h0M359.8 1315.9h0M354.8 1353.8h0M360.9 1348.9h0M352.0 1313.4h0M355.1 1348.9h0M360.7 1311.3h0M359.4 1350.4h0M356.9 1302.0h0M358.3 1321.6h0M359.9 1333.7h0M359.2 1321.4h0M358.9 1352.1h0M356.5 1309.9h0M358.2 1340.7h0M357.8 1289.4h0M353.1 1336.7h0M346.1 1332.0h0M344.0 1336.2h0M360.5 1349.4h0M356.6 1364.6h0M350.0 1293.5h0M355.4 1332.8h0M357.2 1295.0h0M360.2 1363.9h0M351.7 1321.3h0M349.7 1358.0h0M355.6 1315.7h0M355.3 1353.5h0M345.9 1342.6h0M359.1 1356.4h0M355.2 1326.2h0M344.5 1349.4h0M343.9 1355.0h0M354.7 1326.8h0M355.2 1360.8h0M358.1 1293.3h0M359.3 1315.9h0M357.6 1302.7h0M350.3 1347.4h0M353.8 1299.3h0M359.8 1350.5h0M354.4 1324.0h0M357.5 1334.6h0M357.6 1307.6h0M352.7 1293.9h0M358.9 1305.0h0M359.4 1362.0h0M358.3 1317.5h0M357.1 1321.4h0M357.0 1331.7h0M352.3 1318.8h0M356.7 1329.6h0M351.9 1330.3h0M359.8 1326.2h0M360.1 1346.4h0M349.4 1328.7h0M358.0 1350.8h0M360.6 1354.9h0M355.0 1330.9h0M357.2 1324.6h0M359.3 1361.8h0M359.0 1306.9h0M358.9 1303.4h0M361.0 1325.1h0M357.7 1335.1h0M360.0 1297.1h0M359.7 1286.0h0M348.8 1349.7h0M344.2 1287.2h0M360.3 1292.4h0M357.4 1352.0h0M346.0 1359.9h0M361.0 1337.2h0M357.2 1293.9h0M359.6 1343.2h0M357.7 1325.2h0M359.8 1292.1h0M356.0 1324.9h0M357.0 1339.8h0M360.2 1352.3h0M355.0 1290.8h0M348.2 1351.7h0M354.9 1302.8h0M355.6 1314.6h0M355.1 1336.5h0M355.0 1319.1h0M344.3 1295.1h0M348.1 1315.1h0M359.6 1333.8h0M356.1 1286.5h0M353.8 1319.3h0M352.3 1330.0h0M361.1 1351.0h0M359.0 1300.0h0M348.7 1344.9h0M346.2 1318.6h0M361.0 1312.4h0M360.8 1362.4h0M355.8 1353.2h0M356.3 1324.4h0M357.9 1294.0h0M357.6 1313.3h0M354.8 1363.3h0M361.0 1356.6h0M359.7 1336.7h0M352.3 1318.3h0M355.7 1348.9h0M355.8 1354.4h0M361.0 1290.8h0M357.3 1357.5h0M353.0 1314.4h0M352.6 1333.2h0M351.4 1344.1h0M360.4 1320.5h0M356.7 1337.3h0M355.3 1290.7h0M361.0 1306.9h0M346.5 1361.6h0M357.0 1322.9h0M358.4 1360.4h0M352.6 1303.3h0M360.5 1290.4h0M358.3 1353.8h0M352.3 1324.8h0M359.5 1314.2h0M357.3 1340.5h0M347.6 1341.2h0M356.9 1303.0h0M348.1 1308.3h0M360.6 1305.9h0M360.8 1328.2h0M353.7 1347.1h0M360.9 1356.7h0M359.2 1338.4h0M356.7 1305.6h0M348.8 1308.6h0M354.3 1344.0h0M358.7 1302.5h0M360.2 1323.6h0M351.5 1288.5h0M360.3 1347.9h0M360.3 1344.4h0M360.5 1346.3h0M344.9 1305.9h0M356.7 1339.1h0M357.0 1346.1h0M354.1 1293.1h0M353.5 1312.3h0M348.4 1287.4h0M358.7 1309.7h0M351.1 1297.0h0M357.0 1319.8h0M358.9 1340.7h0M352.0 1358.9h0M360.2 1292.8h0M359.9 1356.6h0M359.0 1291.4h0M358.0 1362.8h0M357.8 1361.8h0M352.2 1309.8h0M352.9 1306.6h0M357.5 1336.2h0M355.1 1300.2h0M348.2 1359.8h0M347.2 1296.2h0M352.8 1356.6h0M359.8 1348.7h0M360.0 1297.8h0M352.7 1300.6h0M351.7 1315.0h0M358.7 1342.3h0M359.3 1305.0h0M358.2 1348.8h0M354.7 1363.4h0M359.0 1344.7h0M350.6 1335.9h0M353.3 1339.6h0M359.3 1297.5h0M354.3 1316.0h0M359.8 1330.4h0M355.1 1303.7h0M352.5 1322.4h0M359.2 1347.9h0M358.9 1300.0h0M356.6 1351.5h0M361.1 1304.6h0M353.3 1287.5h0M360.9 1326.1h0M358.0 1301.9h0M353.9 1337.5h0M360.1 1299.1h0M345.0 1342.6h0M358.7 1348.0h0M353.6 1356.3h0M350.7 1314.6h0M355.3 1309.8h0M356.7 1302.6h0M356.6 1333.2h0M358.9 1333.8h0M359.3 1294.6h0M359.7 1363.1h0M356.1 1293.6h0M351.0 1325.3h0M351.5 1346.5h0M350.0 1328.5h0M358.9 1305.3h0M357.7 1313.8h0M356.2 1352.7h0M355.3 1298.2h0M351.7 1351.6h0M359.8 1330.3h0M352.3 1355.1h0M357.4 1328.4h0M357.8 1349.9h0M357.4 1341.1h0M348.7 1352.8h0M361.0 1352.7h0M355.1 1323.6h0M359.1 1352.3h0M357.3 1287.7h0M347.2 1307.3h0M350.8 1357.0h0M349.2 1334.6h0M359.9 1306.9h0M357.9 1330.6h0M352.0 1356.6h0M359.8 1348.7h0M360.0 1333.4h0M358.4 1302.3h0M353.7 1314.9h0M355.4 1328.3h0M354.0 1333.0h0M355.1 1306.3h0M357.2 1319.5h0M356.9 1305.6h0M358.8 1307.8h0M359.6 1295.2h0M350.8 1297.4h0M356.5 1311.2h0M355.4 1340.2h0M355.4 1315.2h0M357.1 1303.0h0M357.6 1308.5h0M357.4 1331.5h0M356.1 1329.0h0M356.3 1311.5h0M357.1 1291.3h0M352.1 1303.3h0M342.9 1334.2h0M360.0 1362.0h0M354.9 1322.0h0M351.1 1290.4h0M354.0 1323.9h0M355.9 1322.1h0M351.5 1308.2h0M360.4 1299.3h0M347.2 1323.7h0M352.4 1348.4h0M352.2 1310.8h0M354.0 1355.4h0M359.7 1287.0h0M359.3 1343.3h0M354.1 1333.4h0M360.6 1331.7h0M358.0 1309.7h0M356.9 1347.3h0M353.4 1306.2h0M358.1 1347.7h0M357.5 1301.5h0M358.2 1354.8h0M357.6 1303.5h0M352.2 1327.8h0M358.5 1320.5h0M343.9 1337.1h0M355.9 1314.4h0M349.8 1327.9h0M357.8 1341.7h0M360.1 1298.9h0M358.0 1336.9h0M356.8 1335.2h0M357.3 1345.0h0M359.2 1364.9h0M360.2 1307.8h0M356.2 1341.1h0M352.5 1327.0h0M357.0 1312.8h0M349.2 1336.3h0M355.4 1360.5h0M351.3 1299.4h0M354.5 1353.9h0M360.4 1299.1h0M360.3 1364.2h0M358.3 1289.6h0M356.9 1357.0h0M359.9 1353.7h0M349.5 1337.6h0M351.3 1353.0h0M354.4 1351.7h0M352.0 1294.4h0M353.7 1312.0h0M358.1 1294.2h0M348.6 1349.4h0M350.2 1310.1h0M359.0 1330.3h0M356.2 1295.0h0M359.3 1346.5h0M358.8 1354.0h0M361.0 1328.0h0M353.2 1353.6h0M360.7 1322.3h0M348.2 1296.6h0M360.6 1327.9h0M354.6 1320.4h0M350.0 1335.3h0M358.5 1331.8h0M360.5 1314.5h0M352.0 1314.6h0M359.5 1310.9h0M351.9 1291.2h0M344.4 1324.6h0M359.7 1326.6h0M360.1 1308.1h0M354.0 1315.5h0M349.7 1336.0h0M349.7 1327.4h0M359.3 1348.3h0M353.6 1330.5h0M357.1 1299.5h0M357.9 1341.8h0M355.1 1325.1h0M342.8 1343.5h0M360.4 1313.1h0M358.3 1302.2h0M356.0 1341.3h0M353.3 1318.5h0M352.3 1361.9h0M354.8 1307.7h0M355.6 1361.1h0M356.8 1341.2h0M361.0 1292.0h0M354.6 1316.8h0M351.2 1292.9h0M354.1 1316.5h0M354.8 1309.8h0M359.2 1317.8h0M356.9 1312.2h0M360.9 1328.7h0M358.0 1350.7h0M358.8 1362.1h0M346.3 1313.0h0M355.9 1335.8h0M350.5 1320.5h0M358.9 1344.6h0M354.4 1339.8h0M351.2 1330.9h0M348.9 1360.7h0M357.8 1320.0h0M360.3 1300.8h0M354.7 1319.4h0M357.5 1363.9h0M347.8 1334.4h0M352.4 1287.3h0M358.5 1327.3h0M359.5 1313.9h0M360.4 1348.2h0M360.2 1364.7h0M348.4 1310.8h0M349.0 1358.1h0M360.3 1296.1h0M360.2 1308.0h0M360.7 1345.8h0M356.8 1361.1h0M358.1 1303.7h0M348.2 1307.2h0M353.8 1358.4h0M353.5 1328.5h0M360.7 1291.1h0M343.7 1308.2h0M351.4 1364.2h0M360.2 1300.2h0M357.0 1358.7h0M351.0 1351.9h0M358.8 1296.8h0M360.9 1335.9h0M351.7 1319.5h0M357.3 1353.6h0M354.8 1301.8h0M353.8 1315.1h0M352.2 1331.9h0M353.3 1290.1h0M356.0 1302.8h0M358.8 1360.3h0M357.5 1287.8h0M349.0 1338.7h0M348.5 1317.0h0M359.3 1317.4h0M348.4 1340.6h0M355.0 1335.2h0M349.6 1310.7h0M352.6 1301.0h0M355.9 1342.6h0M361.1 1331.5h0M355.4 1318.5h0M348.2 1361.7h0M356.0 1299.0h0M348.6 1319.7h0M353.9 1343.3h0M351.3 1310.8h0M359.5 1292.6h0M358.8 1321.1h0M357.7 1301.8h0M350.4 1291.2h0M353.2 1346.5h0M354.8 1328.2h0M360.8 1348.7h0M349.9 1302.3h0M350.7 1328.6h0M354.7 1303.8h0M348.5 1346.6h0M354.2 1294.9h0M352.2 1323.7h0M359.8 1350.1h0M356.7 1349.8h0M351.6 1336.3h0M354.5 1320.3h0M356.4 1353.2h0M354.6 1361.5h0M361.0 1356.6h0M360.2 1314.9h0M357.3 1317.7h0M359.8 1337.7h0M361.0 1362.4h0M355.9 1286.5h0M355.3 1320.1h0M359.8 1344.3h0M354.1 1290.0h0M353.9 1304.2h0M345.3 1344.9h0M359.8 1362.1h0M357.1 1358.4h0M348.3 1361.0h0M356.3 1328.7h0M359.1 1289.9h0M359.8 1317.6h0M348.7 1333.5h0M349.4 1344.7h0M350.4 1320.3h0" fill="none" stroke="#4f6fe0" stroke-width="1.8" stroke-linecap="round" opacity="0.8"/>
<path d="M343.6 1217.7h0M355.5 1256.8h0M358.8 1272.8h0M360.4 1286.4h0M349.1 1139.1h0M355.1 1137.8h0M355.8 1189.7h0M344.7 1209.4h0M342.6 1285.3h0M359.9 1278.9h0M340.2 1216.3h0M349.1 1266.1h0M353.4 1281.8h0M359.8 1263.8h0M355.5 1246.7h0M360.1 1277.1h0M354.3 1216.1h0M359.7 1288.1h0M355.7 1286.6h0M352.5 1120.0h0M339.1 1159.3h0M351.2 1147.7h0M354.0 1282.4h0M349.8 1119.0h0M350.4 1250.2h0M356.0 1262.2h0M350.9 1225.3h0M360.0 1279.0h0M355.8 1208.5h0M349.6 1237.1h0M347.7 1269.0h0M356.3 1254.8h0M352.2 1171.3h0M355.5 1262.8h0M352.2 1264.3h0M340.1 1138.8h0M346.4 1285.2h0M353.9 1144.0h0M354.9 1247.2h0M359.9 1267.3h0M354.7 1259.8h0M350.6 1122.3h0M352.8 1143.2h0M359.7 1285.1h0M354.3 1287.9h0M355.4 1183.1h0M357.1 1288.8h0M352.5 1174.1h0M358.9 1252.2h0M354.2 1132.6h0M350.5 1279.4h0M358.8 1276.2h0M348.1 1274.9h0M351.5 1283.6h0M353.9 1244.9h0M357.2 1268.4h0M348.1 1209.8h0M353.1 1181.6h0M358.0 1284.6h0M347.8 1204.1h0M353.8 1285.3h0M350.0 1181.9h0M344.1 1160.4h0M342.4 1245.3h0M357.9 1247.3h0M356.4 1156.7h0M352.4 1174.4h0M356.0 1259.5h0M352.6 1230.8h0M352.3 1288.7h0M358.3 1242.3h0M357.3 1280.7h0M343.0 1159.9h0M358.2 1264.1h0M350.7 1199.4h0M347.1 1284.9h0M345.6 1245.0h0M349.9 1242.6h0M358.9 1287.6h0M358.8 1272.7h0M356.9 1270.4h0M354.1 1179.7h0M357.8 1211.7h0M349.9 1275.0h0M358.0 1233.7h0M358.3 1241.4h0M353.5 1158.0h0M354.6 1207.7h0M358.4 1245.2h0M358.7 1244.3h0M355.9 1255.5h0M347.5 1279.5h0M352.0 1278.7h0M359.1 1234.2h0M352.8 1176.5h0M346.7 1257.3h0M352.2 1241.0h0M347.2 1256.6h0M355.1 1262.4h0M356.0 1271.3h0M350.5 1184.0h0M350.2 1132.1h0M346.8 1285.4h0M341.8 1242.1h0M355.5 1270.5h0M354.7 1253.7h0M353.8 1240.3h0M352.2 1284.3h0M356.9 1287.6h0M347.2 1279.3h0M356.3 1224.4h0M345.5 1182.4h0M349.9 1286.7h0M357.7 1223.0h0M348.5 1268.4h0M349.6 1238.7h0M355.2 1270.4h0M341.9 1241.7h0M352.4 1267.1h0M357.7 1265.5h0M355.9 1230.9h0M358.4 1242.6h0M350.6 1239.9h0M357.5 1278.6h0M357.2 1266.6h0M358.4 1255.4h0M354.9 1283.0h0M353.6 1238.1h0M350.1 1234.6h0M355.1 1221.4h0M347.9 1249.2h0M352.6 1237.9h0M354.3 1265.0h0M358.6 1271.1h0M350.7 1257.9h0M351.9 1232.3h0M356.5 1161.6h0M351.7 1271.4h0M357.0 1267.4h0M359.5 1266.4h0M356.1 1284.5h0M354.3 1157.1h0M358.8 1257.4h0M359.3 1251.7h0M356.5 1272.5h0M354.3 1202.6h0M354.1 1261.0h0M347.3 1216.6h0M347.4 1178.2h0M358.5 1242.0h0M345.3 1197.2h0M356.9 1247.5h0M344.2 1130.6h0M360.0 1280.2h0M357.5 1195.6h0M339.1 1232.3h0M358.9 1234.4h0M356.4 1254.1h0M343.5 1228.8h0M351.6 1258.3h0M355.8 1206.4h0M352.4 1266.7h0M353.5 1257.7h0M356.5 1264.0h0M344.7 1244.4h0M357.0 1251.2h0M354.4 1278.9h0M356.2 1233.9h0M354.4 1126.4h0M351.8 1263.8h0M347.9 1274.3h0M358.7 1253.2h0M360.1 1285.8h0M341.7 1235.4h0M357.7 1193.4h0M349.9 1239.2h0M359.3 1242.1h0M353.0 1214.6h0M354.4 1230.9h0M348.8 1261.1h0M355.6 1241.0h0M355.0 1282.2h0M353.6 1236.0h0M344.5 1234.1h0M345.7 1246.1h0M341.2 1251.6h0M341.6 1261.9h0M357.4 1240.4h0M355.7 1264.3h0M353.7 1176.5h0M356.2 1144.3h0M348.4 1213.6h0M335.2 1148.1h0M356.2 1253.8h0M354.0 1242.9h0M357.6 1243.7h0M354.3 1225.0h0M344.0 1229.5h0M339.1 1223.9h0M349.0 1286.2h0M352.8 1265.4h0M351.9 1213.5h0M357.1 1170.2h0M356.6 1232.2h0M355.0 1244.6h0M358.1 1237.1h0M348.1 1240.2h0M355.8 1234.0h0M358.3 1278.0h0M355.3 1197.3h0M358.2 1276.9h0M354.6 1241.4h0M348.0 1183.3h0M347.3 1284.8h0M359.0 1263.9h0M355.5 1208.1h0M356.4 1269.0h0M352.1 1282.2h0M354.1 1261.4h0M357.7 1250.5h0M354.9 1146.7h0M351.0 1232.7h0M356.8 1226.7h0M342.9 1270.5h0M352.2 1164.9h0M348.5 1264.6h0M351.6 1265.7h0M350.2 1229.6h0M358.0 1271.1h0M358.7 1257.2h0M354.7 1265.2h0M343.1 1155.0h0M358.9 1271.0h0M357.2 1276.7h0M356.2 1266.9h0M352.0 1235.9h0M353.5 1257.6h0M356.1 1255.8h0M355.9 1176.5h0M359.8 1261.1h0M355.1 1267.5h0M349.0 1271.5h0M357.5 1262.1h0M359.5 1278.1h0M356.9 1268.7h0M351.5 1173.1h0M351.3 1172.5h0M353.8 1183.8h0M352.2 1206.5h0M354.7 1258.5h0M358.1 1243.7h0M356.3 1272.4h0M357.3 1210.1h0M351.8 1269.5h0M353.8 1259.4h0M356.0 1270.8h0M353.5 1156.5h0M350.8 1280.5h0M359.4 1268.7h0M349.4 1193.9h0M351.6 1235.0h0M357.5 1265.0h0M358.3 1276.4h0M352.2 1166.5h0M350.2 1281.5h0M353.3 1235.9h0M353.1 1266.3h0M358.5 1284.6h0M355.3 1280.3h0M356.8 1207.8h0M348.5 1134.8h0M346.5 1193.0h0M350.1 1279.8h0M348.6 1268.1h0M356.5 1218.9h0M350.2 1261.1h0M352.5 1211.7h0M356.1 1270.6h0M352.9 1225.2h0M347.5 1276.1h0M346.9 1203.8h0M356.3 1208.8h0" fill="none" stroke="#5b7be6" stroke-width="2.1" stroke-linecap="round" opacity="0.55"/>
<path d="M349.0 1361.3h0M344.2 1356.8h0M352.6 1358.7h0M327.2 1361.7h0M306.0 1350.6h0M320.8 1360.0h0M338.8 1345.3h0M342.4 1365.0h0M306.9 1339.4h0M344.8 1364.3h0M303.5 1349.0h0M352.3 1360.3h0M350.5 1338.2h0M347.5 1322.9h0M317.6 1363.5h0M322.8 1356.5h0M317.8 1334.8h0M345.0 1363.4h0M277.5 1355.6h0M284.4 1344.9h0M318.7 1334.7h0M327.9 1354.7h0M352.1 1344.5h0M339.1 1352.8h0M285.1 1362.7h0M316.3 1364.3h0M322.1 1337.0h0M345.7 1351.5h0M262.9 1347.7h0M333.2 1360.1h0M352.0 1357.5h0M339.8 1361.2h0M343.9 1362.5h0M321.7 1346.0h0M346.5 1360.3h0M334.8 1355.0h0M282.2 1357.6h0M344.3 1328.0h0M349.6 1350.9h0M343.0 1336.1h0M332.9 1340.5h0M348.8 1346.2h0M329.9 1354.5h0M315.8 1334.6h0M350.4 1359.2h0M342.0 1361.1h0M352.0 1359.4h0M347.9 1344.3h0M338.1 1363.0h0M343.4 1354.2h0M341.9 1361.9h0M351.7 1364.9h0M351.3 1343.4h0M350.6 1353.6h0M338.8 1361.5h0M333.2 1364.9h0M288.1 1347.3h0M327.9 1318.1h0M326.1 1360.1h0M346.3 1362.5h0M352.9 1339.5h0M306.0 1359.0h0M348.3 1347.6h0M305.0 1320.2h0M348.8 1338.7h0M307.5 1341.8h0M343.3 1361.6h0M308.2 1358.4h0M341.6 1351.3h0M341.6 1334.5h0M346.5 1364.3h0M331.8 1348.1h0M309.1 1344.1h0M292.3 1315.3h0M335.9 1353.2h0M349.1 1359.0h0M331.0 1363.6h0M323.3 1362.0h0M338.4 1305.0h0M351.2 1364.4h0M338.5 1361.4h0M320.2 1365.0h0M305.8 1331.9h0M313.4 1355.6h0M344.9 1346.5h0M334.8 1355.7h0M342.8 1355.2h0M325.1 1335.1h0M292.7 1362.0h0M344.5 1355.0h0M332.1 1357.7h0M347.9 1363.5h0M343.4 1354.5h0M261.3 1324.0h0M301.5 1302.2h0M268.7 1348.5h0M310.3 1364.0h0M324.3 1349.0h0M344.4 1350.5h0M274.2 1353.8h0M326.5 1359.0h0M342.7 1328.0h0M352.9 1361.5h0M324.1 1354.9h0M351.3 1346.5h0M341.5 1350.2h0M339.6 1352.1h0M332.0 1356.4h0M305.5 1022.0h0M335.4 1031.7h0M344.5 1058.5h0M344.5 1062.8h0M351.5 1079.9h0M347.1 1086.3h0M348.4 1088.5h0M334.1 1115.3h0M326.3 1122.8h0M341.9 1130.3h0M347.1 1134.6h0M345.8 1137.8h0M344.5 1141.0h0M174.2 1351.1h0M174.2 1360.8h0M260.0 1357.6h0M273.0 1354.3h0M273.0 1359.7h0M278.2 1357.6h0M283.4 1358.6h0M286.0 1362.9h0" fill="none" stroke="#5b7be6" stroke-width="2.2" stroke-linecap="round" opacity="0.55"/>
<path d="M392.1 1365.1 L392.1 1306.6 L408.2 1306.6 L410.8 1321.1 L414.7 1336.1 L410.8 1345.8 L416.0 1352.2 L442.0 1353.8 L455.0 1359.7 L460.2 1365.1 Z" fill="#ee1c1c"/>
<path d="M396.5 1302.8h0M415.2 1299.9h0M411.7 1302.8h0M396.8 1234.9h0M404.8 1279.6h0M421.5 1296.6h0M396.9 1297.8h0M414.5 1276.2h0M411.9 1274.8h0M401.7 1304.1h0M399.8 1286.1h0M427.9 1234.6h0M406.4 1255.6h0M428.2 1302.7h0M396.9 1303.3h0M406.4 1242.5h0M403.6 1277.0h0M419.7 1252.8h0M422.2 1305.0h0M397.6 1297.3h0M398.3 1274.3h0M405.1 1298.4h0M426.4 1286.9h0M427.3 1227.2h0M424.7 1277.0h0M405.7 1216.2h0M405.2 1257.3h0M397.9 1292.0h0M427.7 1243.5h0M418.7 1302.4h0M421.8 1199.4h0M423.2 1260.5h0M402.6 1303.4h0M398.9 1278.2h0M406.8 1212.6h0M396.3 1266.2h0M409.0 1285.6h0M405.4 1240.8h0M399.9 1306.4h0M399.1 1302.9h0M408.2 1277.7h0M403.0 1294.7h0M413.8 1301.5h0M427.6 1231.3h0M403.9 1247.0h0M416.5 1198.9h0M396.7 1301.2h0M421.6 1281.8h0M421.6 1305.9h0M408.1 1299.8h0M423.8 1289.0h0M417.3 1283.6h0M429.0 1289.0h0M403.0 1232.0h0M400.5 1292.6h0M416.9 1298.3h0M412.0 1305.5h0M410.0 1300.4h0M413.5 1275.8h0M396.7 1289.3h0M397.4 1275.6h0M418.1 1292.4h0M397.9 1305.5h0M402.9 1301.4h0M409.7 1295.5h0M397.5 1281.9h0M422.4 1279.8h0M403.1 1192.5h0M395.9 1277.2h0M421.1 1253.5h0M421.5 1270.6h0M406.8 1270.5h0M409.1 1249.4h0M425.8 1232.0h0M407.0 1294.0h0M397.8 1254.7h0M420.5 1270.4h0M415.4 1291.5h0M401.6 1304.9h0M422.8 1292.2h0M451.1 1283.2h0M395.9 1290.5h0M410.4 1291.5h0M437.0 1301.9h0M397.3 1285.2h0M411.4 1285.7h0M402.4 1300.4h0M400.6 1304.7h0M412.9 1259.9h0M413.1 1278.0h0M404.4 1214.6h0M407.1 1275.3h0M401.9 1275.5h0M398.6 1291.1h0M418.4 1233.3h0M439.3 1304.6h0M399.5 1295.4h0M407.5 1296.3h0M396.9 1295.8h0M400.1 1262.8h0M415.7 1299.0h0M415.4 1273.5h0M417.7 1299.2h0M423.5 1258.9h0M401.4 1304.2h0M409.8 1246.7h0M408.4 1301.8h0M436.4 1299.6h0M405.5 1269.9h0M401.5 1213.8h0M414.1 1256.7h0M421.8 1269.0h0M412.8 1292.2h0M400.4 1305.0h0M399.0 1271.3h0M423.3 1292.3h0M396.1 1296.3h0M442.6 1284.5h0M399.6 1276.9h0M420.1 1305.1h0M417.1 1292.6h0M401.4 1303.6h0M405.7 1254.1h0M403.5 1303.7h0M415.6 1279.0h0M424.3 1274.8h0M406.0 1273.6h0M396.1 1292.5h0M412.0 1261.9h0M399.0 1254.7h0M413.8 1253.2h0M399.9 1285.2h0M422.3 1204.1h0M418.6 1302.0h0M397.1 1268.3h0M437.0 1252.9h0M442.8 1297.7h0M400.3 1255.7h0M397.6 1301.9h0M421.4 1304.9h0M395.3 1299.9h0M405.2 1204.8h0M403.9 1300.1h0M406.9 1258.4h0M400.7 1306.1h0M398.9 1252.3h0M454.5 1282.0h0M416.6 1270.3h0M426.4 1284.7h0M403.4 1292.9h0M401.7 1259.0h0M407.8 1304.7h0M413.3 1234.4h0M414.6 1304.9h0M405.5 1215.5h0M407.8 1201.5h0M405.7 1296.6h0M408.9 1296.1h0M401.2 1298.9h0M407.1 1255.3h0M408.8 1298.3h0M418.5 1276.5h0M431.2 1233.0h0M395.5 1295.8h0M433.9 1295.1h0M438.8 1292.5h0M399.0 1300.8h0M414.6 1265.3h0M408.8 1275.6h0M407.5 1229.0h0M437.0 1290.9h0M404.8 1252.0h0M406.6 1234.5h0M405.2 1294.3h0M396.4 1306.8h0M416.8 1218.8h0M422.5 1303.4h0M398.7 1300.4h0M403.5 1292.1h0M406.1 1215.8h0M436.9 1306.0h0M403.4 1297.4h0M425.6 1305.8h0M398.0 1281.6h0M416.9 1303.1h0M413.0 1306.4h0M397.8 1230.3h0M406.2 1302.5h0M396.2 1286.8h0M399.7 1300.0h0M406.9 1258.3h0M410.3 1281.9h0M408.1 1282.2h0M405.5 1215.7h0M408.5 1228.9h0M397.9 1259.3h0M408.0 1296.0h0M418.8 1304.6h0M402.0 1288.1h0M397.6 1277.5h0M398.2 1264.7h0M421.0 1268.6h0M403.1 1264.5h0M400.9 1231.7h0M415.8 1293.2h0M415.6 1287.4h0M398.8 1289.4h0M441.7 1287.9h0M453.1 1307.0h0M410.0 1273.1h0M402.8 1272.8h0M396.1 1289.9h0M408.8 1302.7h0M406.1 1239.7h0M439.4 1305.3h0M409.4 1264.0h0M422.3 1278.2h0M396.1 1293.4h0M396.2 1257.2h0M424.4 1237.2h0M396.9 1297.4h0M396.6 1271.0h0M416.2 1261.8h0M423.6 1288.9h0M400.6 1266.0h0M413.2 1293.0h0M413.9 1298.0h0M400.0 1272.6h0M440.7 1283.8h0M419.4 1260.6h0M398.4 1298.1h0M417.9 1301.6h0M406.8 1280.1h0M401.5 1279.9h0M409.2 1300.3h0M425.2 1244.3h0M403.8 1243.1h0M401.0 1225.4h0M399.9 1289.7h0M400.8 1242.1h0M404.7 1301.1h0M410.7 1296.6h0M408.1 1247.9h0M404.1 1280.3h0M397.9 1288.8h0M418.4 1263.9h0M403.7 1248.8h0M414.6 1255.3h0M420.7 1290.5h0M397.1 1280.4h0M415.2 1292.0h0M409.1 1289.7h0M397.2 1276.4h0M409.3 1305.0h0M425.0 1295.5h0M397.2 1292.9h0M434.3 1303.7h0M404.6 1270.3h0M406.2 1287.1h0M411.1 1249.9h0M408.4 1305.5h0M417.4 1285.9h0M419.5 1294.4h0M418.0 1288.1h0M425.7 1291.3h0M436.9 1289.4h0M417.5 1299.4h0M417.4 1261.8h0M417.3 1292.6h0M395.7 1304.5h0M415.8 1280.0h0M423.9 1282.2h0M415.2 1306.2h0M418.2 1274.4h0M401.9 1240.5h0M438.5 1287.6h0M402.6 1286.1h0M434.2 1282.5h0M398.7 1266.7h0M400.9 1258.0h0M399.3 1265.7h0M399.9 1277.8h0M430.4 1302.6h0M429.0 1298.1h0M412.8 1303.3h0M395.5 1303.8h0M421.7 1305.1h0M401.7 1265.5h0M418.1 1305.1h0M419.9 1264.4h0M409.9 1245.3h0M408.1 1232.3h0M410.4 1280.6h0M411.5 1307.0h0M396.3 1296.1h0M396.5 1293.5h0M436.7 1277.6h0M401.4 1281.1h0M398.4 1293.9h0M409.8 1233.7h0M434.0 1296.3h0M419.5 1299.0h0M403.6 1290.1h0M422.9 1284.4h0M397.2 1290.6h0M410.6 1248.3h0M440.0 1277.6h0M405.0 1305.3h0M418.9 1288.0h0M403.0 1276.8h0M411.2 1249.2h0M404.4 1294.6h0M432.0 1274.5h0M416.1 1285.1h0M405.7 1230.5h0" fill="none" stroke="#ee1c1c" stroke-width="2.1" stroke-linecap="round" opacity="0.7"/>
<path d="M440.8 1358.8h0M440.6 1362.3h0M485.9 1359.2h0M444.0 1362.2h0M499.2 1357.0h0M455.5 1361.8h0M465.6 1363.2h0M444.9 1361.5h0M482.0 1358.5h0M444.8 1356.5h0M441.9 1358.1h0M451.9 1363.0h0M494.7 1361.9h0M466.5 1364.1h0M467.2 1363.7h0M440.4 1363.0h0M445.6 1361.6h0M459.8 1362.5h0M443.3 1359.4h0M496.2 1360.9h0M443.3 1356.8h0M477.0 1360.3h0M440.2 1364.5h0M450.6 1362.9h0M457.9 1362.4h0M441.7 1357.5h0M452.5 1363.3h0M466.0 1358.2h0M442.4 1359.1h0M499.5 1353.6h0M456.9 1364.8h0M447.4 1360.4h0M455.5 1358.5h0M501.6 1360.4h0M486.1 1362.0h0M460.7 1363.1h0M442.9 1364.5h0M446.8 1357.8h0M445.4 1359.3h0M499.9 1358.7h0M449.3 1358.4h0M440.6 1362.7h0M448.9 1361.6h0M471.1 1363.9h0M444.0 1364.1h0M441.1 1361.1h0M458.6 1360.0h0M475.7 1361.6h0M460.6 1363.8h0M456.3 1364.8h0M441.8 1363.5h0M459.6 1363.0h0M449.6 1360.0h0M443.6 1360.0h0M443.8 1361.0h0M482.6 1363.5h0M487.8 1362.3h0M441.7 1364.7h0M488.8 1360.9h0M457.4 1361.3h0M442.3 1362.2h0M457.3 1364.5h0M455.9 1362.9h0M451.5 1362.7h0M444.7 1362.6h0M487.4 1362.5h0M455.7 1364.4h0M506.6 1364.5h0M455.1 1363.5h0M466.7 1359.0h0M445.5 1365.1h0M446.6 1362.3h0M440.1 1360.5h0M447.5 1361.4h0M491.2 1359.6h0M445.6 1361.9h0M460.6 1363.5h0M440.9 1357.6h0M446.0 1353.9h0M440.4 1357.0h0M461.9 1361.9h0M449.2 1356.8h0M478.3 1354.5h0M439.7 1362.5h0M505.4 1360.9h0M441.6 1362.5h0M446.0 1364.3h0M443.2 1357.8h0M449.3 1363.0h0M445.2 1362.6h0M448.8 1348.7h0M476.1 1362.6h0M454.7 1356.7h0M495.3 1364.9h0M472.0 1363.0h0M462.4 1362.6h0M483.1 1364.6h0M469.0 1363.0h0M449.5 1358.5h0M465.5 1354.4h0M471.4 1359.1h0M504.1 1358.3h0M494.4 1364.8h0M477.3 1356.0h0M460.3 1356.8h0M475.3 1361.5h0M487.3 1361.3h0M457.2 1353.4h0M475.6 1356.6h0M446.2 1363.2h0M444.6 1362.1h0M453.7 1364.6h0M495.3 1359.5h0M466.5 1363.9h0M475.2 1360.4h0M476.3 1360.4h0M480.3 1354.6h0M451.6 1359.1h0M481.7 1361.4h0M449.1 1357.5h0M476.3 1359.9h0M439.5 1364.2h0M442.1 1365.0h0M478.6 1359.3h0M453.7 1361.8h0M449.0 1364.0h0M483.0 1360.7h0M462.0 1364.5h0M446.8 1363.1h0M467.7 1358.4h0M477.9 1362.5h0M442.4 1364.5h0M479.9 1363.8h0M444.2 1363.4h0M449.9 1353.0h0M445.3 1360.0h0M491.9 1360.8h0M451.1 1353.0h0M455.9 1365.0h0M443.5 1356.6h0M456.9 1362.1h0M453.6 1363.7h0M449.6 1361.7h0M441.9 1356.0h0M456.3 1361.9h0M450.5 1355.9h0M465.1 1360.6h0M441.2 1361.3h0M449.9 1361.5h0M450.4 1359.3h0M456.7 1360.4h0M455.5 1355.6h0M450.0 1363.4h0M481.5 1364.8h0M466.3 1360.1h0M471.9 1363.2h0M491.3 1364.0h0M440.2 1357.1h0M448.6 1357.3h0M491.4 1356.0h0M443.1 1359.7h0M440.5 1361.8h0M451.1 1364.9h0M447.1 1358.2h0M473.0 1363.5h0M452.2 1359.2h0M465.8 1358.0h0M450.6 1357.7h0M466.9 1363.3h0M447.0 1361.7h0M480.3 1359.7h0M476.3 1363.5h0M456.4 1362.9h0M488.5 1360.9h0M443.8 1358.3h0M448.1 1361.2h0M450.7 1363.7h0M448.1 1364.3h0M506.7 1363.7h0M452.9 1361.1h0M442.1 1364.8h0M450.8 1360.2h0M495.4 1361.8h0M453.4 1361.5h0M474.7 1359.2h0M448.2 1360.4h0M454.3 1358.4h0M458.5 1361.2h0M446.9 1358.0h0M449.9 1359.9h0M447.4 1362.1h0M462.7 1364.6h0M440.4 1356.8h0M480.4 1360.9h0M505.2 1363.2h0M446.6 1365.0h0M458.0 1363.2h0M472.2 1362.9h0M478.0 1360.6h0M442.2 1362.6h0M462.9 1362.1h0M451.1 1357.3h0M505.4 1364.9h0M451.1 1360.7h0M477.7 1363.3h0M487.4 1362.6h0M457.2 1358.0h0M493.6 1364.1h0M442.8 1364.1h0M451.9 1363.6h0M455.7 1360.8h0M459.6 1359.3h0M451.5 1361.6h0M483.0 1363.3h0M475.7 1363.6h0M465.5 1362.7h0M472.2 1354.7h0M493.0 1365.0h0M471.2 1362.1h0M488.8 1358.8h0" fill="none" stroke="#ee1c1c" stroke-width="1.9" stroke-linecap="round" opacity="0.85"/>
<path d="M413.7 1326.4h0M455.6 1334.5h0M420.7 1360.8h0M444.3 1310.7h0M420.6 1355.7h0M418.1 1360.0h0M471.4 1349.5h0M455.1 1360.7h0M479.3 1351.1h0M408.3 1333.1h0M414.0 1353.3h0M410.6 1345.2h0M439.8 1313.5h0M409.8 1310.2h0M412.8 1355.3h0M446.9 1350.4h0M423.9 1337.7h0M417.8 1315.6h0M417.3 1308.0h0M472.7 1339.8h0M409.4 1317.7h0M409.3 1341.8h0M429.7 1361.0h0M447.0 1324.2h0M442.5 1347.6h0M436.2 1336.2h0M418.2 1302.2h0M433.5 1358.6h0M431.8 1328.5h0M456.3 1344.7h0M424.5 1356.6h0M428.3 1353.0h0M416.6 1322.9h0M436.5 1345.6h0M416.8 1326.4h0M416.7 1353.7h0M440.2 1326.7h0M458.2 1324.8h0M410.7 1356.0h0M408.7 1303.1h0M458.1 1333.1h0M420.1 1349.7h0M415.2 1332.9h0M410.0 1357.1h0M425.3 1294.1h0M471.9 1344.7h0M412.4 1359.5h0M414.7 1317.8h0M502.9 1315.4h0M433.4 1311.1h0M413.6 1359.5h0M440.5 1341.6h0M417.4 1354.2h0M409.0 1291.0h0M456.5 1275.7h0M459.6 1348.4h0M473.4 1307.7h0M413.8 1362.5h0M417.6 1336.5h0M426.8 1362.6h0M477.4 1316.6h0M432.5 1361.6h0M493.9 1340.0h0M411.1 1351.2h0M446.4 1297.9h0M434.0 1332.3h0M417.2 1354.5h0M500.3 1348.4h0M412.5 1336.1h0M413.5 1356.2h0M432.0 1336.5h0M447.7 1326.1h0M430.8 1360.8h0M458.5 1361.3h0M433.0 1347.6h0M451.8 1325.4h0M418.9 1331.4h0M454.1 1343.8h0M414.2 1291.0h0M443.8 1361.0h0M418.3 1348.0h0M468.7 1310.8h0M447.4 1322.3h0M409.7 1360.0h0M409.7 1361.4h0M418.9 1282.8h0M417.9 1329.5h0M512.1 1332.4h0M506.4 1353.8h0M414.7 1362.4h0M463.4 1359.6h0M416.3 1313.5h0M415.1 1341.4h0M412.6 1316.5h0M494.2 1288.4h0M408.3 1305.7h0M439.9 1311.2h0M435.4 1333.9h0M443.4 1314.7h0M411.4 1361.2h0M439.0 1352.6h0M427.9 1362.7h0M461.5 1362.2h0M477.2 1312.8h0M432.1 1359.0h0M449.1 1356.0h0M430.1 1359.4h0M425.2 1360.0h0M459.3 1306.0h0M481.8 1359.7h0M426.1 1352.1h0M464.3 1358.1h0M465.3 1362.7h0M411.2 1359.3h0M454.2 1335.5h0M436.8 1344.7h0M428.6 1334.6h0M449.0 1288.4h0M459.7 1315.1h0M503.4 1308.4h0M457.4 1362.0h0M452.7 1306.0h0M430.2 1299.7h0M415.9 1277.1h0M430.9 1326.1h0M419.6 1352.2h0M424.9 1351.1h0M412.1 1345.4h0M462.7 1353.3h0M419.4 1347.0h0M409.0 1355.0h0M493.0 1286.8h0M423.7 1318.8h0M466.4 1296.7h0M469.9 1340.1h0M412.5 1310.5h0M422.9 1333.3h0M426.0 1339.8h0M437.7 1331.4h0M438.3 1279.5h0M428.6 1289.4h0M411.9 1355.8h0M421.4 1291.8h0M408.7 1353.9h0M415.8 1345.6h0M453.5 1327.7h0M461.7 1320.9h0M419.3 1354.0h0M409.3 1327.7h0M417.4 1353.9h0M443.1 1330.9h0M443.7 1327.3h0M422.3 1360.9h0M410.9 1362.5h0M425.7 1358.3h0M412.9 1342.5h0M420.7 1318.9h0M415.8 1359.8h0M422.3 1347.1h0M453.8 1345.3h0M459.0 1359.9h0M477.8 1362.0h0M477.0 1355.2h0M483.5 1314.2h0M451.5 1353.2h0M408.6 1356.6h0M500.0 1357.8h0M450.2 1336.4h0M450.4 1356.9h0M414.2 1359.9h0M449.4 1337.6h0M418.1 1360.9h0M408.8 1305.5h0M413.6 1263.9h0M425.8 1324.4h0M414.0 1316.4h0M419.5 1349.2h0M437.1 1359.4h0M419.3 1315.2h0M421.3 1348.5h0M464.6 1355.3h0M416.6 1355.5h0M427.1 1349.3h0M448.2 1343.8h0M487.7 1361.4h0M450.7 1308.6h0M418.6 1362.0h0M430.7 1359.2h0M432.2 1325.6h0M412.0 1359.2h0M433.7 1357.2h0M418.4 1345.5h0M413.1 1360.8h0M425.7 1343.9h0M411.1 1355.4h0M461.4 1338.1h0M487.8 1264.4h0M484.3 1359.4h0M418.9 1357.3h0M486.2 1355.8h0M411.6 1353.7h0M508.8 1344.4h0M459.5 1360.6h0M431.7 1351.4h0M417.2 1330.3h0M425.7 1359.1h0M415.9 1362.6h0M449.5 1341.2h0M409.2 1343.8h0M460.8 1339.8h0M418.6 1342.2h0M444.4 1331.3h0M414.3 1314.1h0M484.1 1349.2h0M499.1 1356.9h0M418.2 1335.6h0M498.6 1360.4h0M417.7 1361.8h0M430.7 1358.4h0M416.5 1321.4h0M442.3 1278.8h0M428.3 1328.8h0M408.7 1273.9h0M418.6 1343.5h0M436.2 1274.0h0M446.1 1355.6h0M478.2 1356.2h0M418.2 1265.4h0M423.3 1347.2h0M424.6 1329.8h0M453.7 1021.0h0M403.0 1061.7h0M395.2 1066.0h0M399.1 1063.8h0M429.0 1063.8h0M416.0 1081.0h0M405.6 1097.1h0M464.1 1124.9h0M412.1 1129.2h0M422.5 1134.6h0M423.8 1138.9h0M414.7 1146.4h0M429.0 1155.0h0M449.8 1158.2h0M523.9 1278.2h0M508.3 1297.5h0M542.1 1314.7h0M538.2 1335.6h0M604.5 1335.0h0M621.4 1243.9h0M520.0 1346.8h0M533.0 1355.4h0M536.9 1363.5h0M553.8 1362.9h0" fill="none" stroke="#ee1c1c" stroke-width="2.2" stroke-linecap="round" opacity="0.65"/>
<path d="M430.3 1155.0h0M453.7 1252.5h0M410.8 1216.1h0M396.5 1215.0h0" fill="none" stroke="#ee1c1c" stroke-width="4.4" stroke-linecap="round" opacity="0.75"/>
<path d="M355.7 1187.1h0M354.9 1228.9h0" fill="none" stroke="#6f8aea" stroke-width="5.0" stroke-linecap="round" opacity="0.75"/>
</g>
<rect x="90.0" y="934.8" width="2" height="466.8" fill="#6a6a6a"/>
<rect x="90.0" y="1399.6" width="574.0" height="2" fill="#6a6a6a"/>
<rect x="116.3" y="1400.6" width="1.4" height="5" fill="#6a6a6a"/>
<text x="117.00" y="1419.00" font-family="'Liberation Sans', sans-serif" font-size="12.6" fill="#888888" text-anchor="middle">−10</text>
<rect x="246.3" y="1400.6" width="1.4" height="5" fill="#6a6a6a"/>
<text x="247.00" y="1419.00" font-family="'Liberation Sans', sans-serif" font-size="12.6" fill="#888888" text-anchor="middle">−5</text>
<rect x="376.3" y="1400.6" width="1.4" height="5" fill="#6a6a6a"/>
<text x="377.00" y="1419.00" font-family="'Liberation Sans', sans-serif" font-size="12.6" fill="#888888" text-anchor="middle">0</text>
<rect x="506.3" y="1400.6" width="1.4" height="5" fill="#6a6a6a"/>
<text x="507.00" y="1419.00" font-family="'Liberation Sans', sans-serif" font-size="12.6" fill="#888888" text-anchor="middle">5</text>
<rect x="636.3" y="1400.6" width="1.4" height="5" fill="#6a6a6a"/>
<text x="637.00" y="1419.00" font-family="'Liberation Sans', sans-serif" font-size="12.6" fill="#888888" text-anchor="middle">10</text>
<rect x="86.0" y="1378.3" width="5" height="1.4" fill="#6a6a6a"/>
<text x="82.40" y="1383.60" font-family="'Liberation Sans', sans-serif" font-size="12.6" fill="#888888" text-anchor="end">0</text>
<rect x="86.0" y="1271.1" width="5" height="1.4" fill="#6a6a6a"/>
<text x="82.40" y="1276.40" font-family="'Liberation Sans', sans-serif" font-size="12.6" fill="#888888" text-anchor="end">10</text>
<rect x="86.0" y="1163.9" width="5" height="1.4" fill="#6a6a6a"/>
<text x="82.40" y="1169.20" font-family="'Liberation Sans', sans-serif" font-size="12.6" fill="#888888" text-anchor="end">20</text>
<rect x="86.0" y="1056.7" width="5" height="1.4" fill="#6a6a6a"/>
<text x="82.40" y="1062.00" font-family="'Liberation Sans', sans-serif" font-size="12.6" fill="#888888" text-anchor="end">30</text>
<rect x="86.0" y="949.5" width="5" height="1.4" fill="#6a6a6a"/>
<text x="82.40" y="954.80" font-family="'Liberation Sans', sans-serif" font-size="12.6" fill="#888888" text-anchor="end">40</text>
<line x1="448" y1="1239" x2="410" y2="1262" stroke="#4a4a4a" stroke-width="1.3"/>
<line x1="430" y1="1243" x2="453" y2="1222" stroke="#4a4a4a" stroke-width="1.3"/>
<line x1="397" y1="1247" x2="399" y2="1232" stroke="#4a4a4a" stroke-width="1.3"/>
<line x1="322" y1="1296" x2="352" y2="1312" stroke="#4a4a4a" stroke-width="1.3"/>
<line x1="451.5" y1="1252" x2="452" y2="1262" stroke="#4a4a4a" stroke-width="1.3"/>
<line x1="369" y1="1360" x2="369" y2="1377" stroke="#4a4a4a" stroke-width="1.3"/>
<line x1="392" y1="1309" x2="392" y2="1314" stroke="#4a4a4a" stroke-width="1.3"/>
<line x1="412" y1="1331" x2="410" y2="1337" stroke="#4a4a4a" stroke-width="1.3"/>
<rect x="429.8" y="1141.0" width="63.6" height="17.7" rx="2" fill="#f0f0f0" fill-opacity=".8" stroke="#bdbdbd" stroke-width=".9"/>
<text x="461.60" y="1155.40" font-family="'Liberation Sans', sans-serif" font-size="16.2" fill="#262626" text-anchor="middle" textLength="57.60" lengthAdjust="spacingAndGlyphs" stroke="#262626" stroke-width=".35">KDM6B</text>
<rect x="291.0" y="1172.4" width="60.6" height="18.0" rx="2" fill="#f0f0f0" fill-opacity=".8" stroke="#bdbdbd" stroke-width=".9"/>
<text x="321.30" y="1187.10" font-family="'Liberation Sans', sans-serif" font-size="16.2" fill="#262626" text-anchor="middle" textLength="54.60" lengthAdjust="spacingAndGlyphs" stroke="#262626" stroke-width=".35">UHRF1</text>
<rect x="359.4" y="1174.7" width="52.8" height="17.3" rx="2" fill="#f0f0f0" fill-opacity=".8" stroke="#bdbdbd" stroke-width=".9"/>
<text x="385.80" y="1188.70" font-family="'Liberation Sans', sans-serif" font-size="16.2" fill="#262626" text-anchor="middle" textLength="46.80" lengthAdjust="spacingAndGlyphs" stroke="#262626" stroke-width=".35">MCM5</text>
<rect x="384.4" y="1197.2" width="63.0" height="17.8" rx="2" fill="#f0f0f0" fill-opacity=".8" stroke="#bdbdbd" stroke-width=".9"/>
<text x="415.90" y="1211.70" font-family="'Liberation Sans', sans-serif" font-size="16.2" fill="#262626" text-anchor="middle" textLength="57.00" lengthAdjust="spacingAndGlyphs" stroke="#262626" stroke-width=".35">KDM5B</text>
<rect x="297.8" y="1211.9" width="54.4" height="17.8" rx="2" fill="#f0f0f0" fill-opacity=".8" stroke="#bdbdbd" stroke-width=".9"/>
<text x="325.00" y="1226.40" font-family="'Liberation Sans', sans-serif" font-size="16.2" fill="#262626" text-anchor="middle" textLength="48.40" lengthAdjust="spacingAndGlyphs" stroke="#262626" stroke-width=".35">MCM2</text>
<rect x="453.3" y="1213.0" width="73.0" height="17.0" rx="2" fill="#f0f0f0" fill-opacity=".8" stroke="#bdbdbd" stroke-width=".9"/>
<text x="489.80" y="1226.70" font-family="'Liberation Sans', sans-serif" font-size="16.2" fill="#262626" text-anchor="middle" textLength="67.00" lengthAdjust="spacingAndGlyphs" stroke="#262626" stroke-width=".35">CDKN1B</text>
<rect x="401.5" y="1225.2" width="45.9" height="16.6" rx="2" fill="#f0f0f0" fill-opacity=".8" stroke="#bdbdbd" stroke-width=".9"/>
<text x="424.45" y="1238.50" font-family="'Liberation Sans', sans-serif" font-size="16.2" fill="#262626" text-anchor="middle" textLength="39.90" lengthAdjust="spacingAndGlyphs" stroke="#262626" stroke-width=".35">BCL3</text>
<rect x="333.0" y="1244.7" width="61.6" height="17.3" rx="2" fill="#f0f0f0" fill-opacity=".8" stroke="#bdbdbd" stroke-width=".9"/>
<text x="363.80" y="1258.70" font-family="'Liberation Sans', sans-serif" font-size="16.2" fill="#262626" text-anchor="middle" textLength="55.60" lengthAdjust="spacingAndGlyphs" stroke="#262626" stroke-width=".35">KMT2C</text>
<rect x="423.0" y="1260.4" width="59.6" height="17.6" rx="2" fill="#f0f0f0" fill-opacity=".8" stroke="#bdbdbd" stroke-width=".9"/>
<text x="452.80" y="1274.70" font-family="'Liberation Sans', sans-serif" font-size="16.2" fill="#262626" text-anchor="middle" textLength="53.60" lengthAdjust="spacingAndGlyphs" stroke="#262626" stroke-width=".35">PTGS2</text>
<rect x="328.1" y="1267.6" width="61.2" height="17.2" rx="2" fill="#f0f0f0" fill-opacity=".8" stroke="#bdbdbd" stroke-width=".9"/>
<text x="358.70" y="1281.50" font-family="'Liberation Sans', sans-serif" font-size="16.2" fill="#262626" text-anchor="middle" textLength="55.20" lengthAdjust="spacingAndGlyphs" stroke="#262626" stroke-width=".35">DNMT1</text>
<rect x="242.6" y="1284.8" width="78.7" height="18.0" rx="2" fill="#f0f0f0" fill-opacity=".8" stroke="#bdbdbd" stroke-width=".9"/>
<text x="281.95" y="1299.50" font-family="'Liberation Sans', sans-serif" font-size="16.2" fill="#262626" text-anchor="middle" textLength="72.70" lengthAdjust="spacingAndGlyphs" stroke="#262626" stroke-width=".35">SUV39H1</text>
<rect x="364.3" y="1290.7" width="60.6" height="17.0" rx="2" fill="#f0f0f0" fill-opacity=".8" stroke="#bdbdbd" stroke-width=".9"/>
<text x="394.60" y="1304.40" font-family="'Liberation Sans', sans-serif" font-size="16.2" fill="#262626" text-anchor="middle" textLength="54.60" lengthAdjust="spacingAndGlyphs" stroke="#262626" stroke-width=".35">KMT2A</text>
<rect x="303.3" y="1307.7" width="50.2" height="17.2" rx="2" fill="#f0f0f0" fill-opacity=".8" stroke="#bdbdbd" stroke-width=".9"/>
<text x="328.40" y="1321.60" font-family="'Liberation Sans', sans-serif" font-size="16.2" fill="#262626" text-anchor="middle" textLength="44.20" lengthAdjust="spacingAndGlyphs" stroke="#262626" stroke-width=".35">CTGF</text>
<rect x="404.4" y="1314.2" width="43.6" height="16.6" rx="2" fill="#f0f0f0" fill-opacity=".8" stroke="#bdbdbd" stroke-width=".9"/>
<text x="426.20" y="1327.50" font-family="'Liberation Sans', sans-serif" font-size="16.2" fill="#262626" text-anchor="middle" textLength="37.60" lengthAdjust="spacingAndGlyphs" stroke="#262626" stroke-width=".35">ING4</text>
<rect x="336.9" y="1330.8" width="47.0" height="17.2" rx="2" fill="#f0f0f0" fill-opacity=".8" stroke="#bdbdbd" stroke-width=".9"/>
<text x="360.40" y="1344.70" font-family="'Liberation Sans', sans-serif" font-size="16.2" fill="#262626" text-anchor="middle" textLength="41.00" lengthAdjust="spacingAndGlyphs" stroke="#262626" stroke-width=".35">EZH2</text>
<rect x="389.7" y="1337.0" width="62.6" height="16.9" rx="2" fill="#f0f0f0" fill-opacity=".8" stroke="#bdbdbd" stroke-width=".9"/>
<text x="421.00" y="1350.60" font-family="'Liberation Sans', sans-serif" font-size="16.2" fill="#262626" text-anchor="middle" textLength="56.60" lengthAdjust="spacingAndGlyphs" stroke="#262626" stroke-width=".35">KDM4B</text>
<rect x="296.9" y="1353.7" width="64.0" height="17.2" rx="2" fill="#f0f0f0" fill-opacity=".8" stroke="#bdbdbd" stroke-width=".9"/>
<text x="328.90" y="1367.60" font-family="'Liberation Sans', sans-serif" font-size="16.2" fill="#262626" text-anchor="middle" textLength="58.00" lengthAdjust="spacingAndGlyphs" stroke="#262626" stroke-width=".35">PIEZO1</text>
<rect x="344.6" y="1378.1" width="48.6" height="17.6" rx="2" fill="#f0f0f0" fill-opacity=".8" stroke="#bdbdbd" stroke-width=".9"/>
<text x="368.90" y="1392.40" font-family="'Liberation Sans', sans-serif" font-size="16.2" fill="#262626" text-anchor="middle" textLength="42.60" lengthAdjust="spacingAndGlyphs" stroke="#262626" stroke-width=".35">CBX5</text>
</g>
<line x1="93" y1="1430.9" x2="367.7" y2="1430.9" stroke="#111" stroke-width="1.2"/>
<polygon points="90,1430.9 94.5,1428.6 94.5,1433.2" fill="#111"/>
<line x1="376.4" y1="1430.9" x2="651" y2="1430.9" stroke="#111" stroke-width="1.2"/>
<polygon points="654,1430.9 649.5,1428.6 649.5,1433.2" fill="#111"/>
<text x="371.10" y="1456.40" font-family="'Liberation Sans', sans-serif" font-size="22.6" fill="#000" font-weight="bold" text-anchor="middle">log2FC</text>
<text transform="translate(50.2 1164.7) rotate(-90)" font-family="'Liberation Sans', sans-serif" font-size="23.4" font-weight="bold" text-anchor="middle">-Log<tspan font-size="16" dy="5.6">10</tspan><tspan dy="-5.6">p</tspan></text>
</g>
<!-- panel_d -->
<g>
<text x="737.70" y="50.10" font-family="'Liberation Sans', sans-serif" font-size="51.8" fill="#000" font-weight="bold">D)</text>
<text x="986.50" y="90.00" font-family="'Liberation Sans', sans-serif" font-size="33" fill="#000" font-weight="bold" text-anchor="middle" textLength="197.50" lengthAdjust="spacing">sh_PIP4K2B</text>
<text x="817.90" y="119.80" font-family="'Liberation Sans', sans-serif" font-size="24" fill="#000" font-weight="bold" text-anchor="middle">UP</text>
<text x="1162.30" y="119.80" font-family="'Liberation Sans', sans-serif" font-size="24" fill="#000" font-weight="bold" text-anchor="middle">DN</text>
<polygon points="812.9,155.3 970.6,154.8 812.9,182.9" fill="#981d0f"/>
<polygon points="1023.2,161.4 1180.2,133.3 1180.2,161.4" fill="#5f9efc"/>
<text x="1853.30" y="92.10" font-family="'Liberation Sans', sans-serif" font-size="33" fill="#000" font-weight="bold" text-anchor="middle">Soft</text>
<text x="1682.50" y="127.60" font-family="'Liberation Sans', sans-serif" font-size="24" fill="#000" font-weight="bold" text-anchor="middle">UP</text>
<text x="2026.40" y="127.60" font-family="'Liberation Sans', sans-serif" font-size="24" fill="#000" font-weight="bold" text-anchor="middle">DN</text>
<polygon points="1675.8,166.7 1833.5,166.3 1675.8,194.4" fill="#981d0f"/>
<polygon points="1886.0,172.4 2042.5,144.3 2042.5,172.4" fill="#5f9efc"/>
<defs><filter id="vn" x="-5%" y="-5%" width="110%" height="110%"><feGaussianBlur stdDeviation="0.7"/></filter></defs>
<g filter="url(#vn)">
<ellipse cx="1369.5" cy="125.6" rx="114.6" ry="107.0" fill="#8f9bd6" stroke="#8590cc" stroke-width="0.9"/>
<ellipse cx="1467.7" cy="125.9" rx="115.0" ry="107.3" fill="#d48d8d" stroke="#c98282" stroke-width="0.9"/>
<clipPath id="vnc"><ellipse cx="1369.5" cy="125.6" rx="114.9" ry="107.3"/></clipPath>
<ellipse cx="1467.7" cy="125.9" rx="115.3" ry="107.6" fill="#985a78" clip-path="url(#vnc)"/>
<text x="1305.90" y="130.40" font-family="'Liberation Sans', sans-serif" font-size="20" fill="#1e1e1e" text-anchor="middle" textLength="43.60" lengthAdjust="spacingAndGlyphs">1352</text>
<text x="1417.20" y="130.40" font-family="'Liberation Sans', sans-serif" font-size="20" fill="#1e1e1e" text-anchor="middle" textLength="43.60" lengthAdjust="spacingAndGlyphs">1544</text>
<text x="1530.90" y="130.40" font-family="'Liberation Sans', sans-serif" font-size="20" fill="#1e1e1e" text-anchor="middle" textLength="43.60" lengthAdjust="spacingAndGlyphs">4479</text>
</g>
<text x="1423.90" y="330.10" font-family="'Liberation Sans', sans-serif" font-size="25" fill="#000" font-weight="bold" text-anchor="middle">Mechanotransduction</text>
<text x="1415.50" y="393.20" font-family="'Liberation Sans', sans-serif" font-size="25.0" fill="#000" text-anchor="middle">NES</text>
<text x="1415.50" y="423.80" font-family="'Liberation Sans', sans-serif" font-size="25.0" fill="#000" text-anchor="middle">Nominal pValue</text>
<text x="1415.50" y="453.60" font-family="'Liberation Sans', sans-serif" font-size="25.0" fill="#000" text-anchor="middle">FDR qValue</text>
<text x="1242.50" y="405.20" font-family="'Liberation Sans', sans-serif" font-size="25.0" fill="#000" text-anchor="middle">1.2885225</text>
<text x="1242.50" y="435.70" font-family="'Liberation Sans', sans-serif" font-size="25.0" fill="#000" text-anchor="middle">0.0</text>
<text x="1242.50" y="465.80" font-family="'Liberation Sans', sans-serif" font-size="25.0" fill="#000" text-anchor="middle">0.1</text>
<text x="1585.50" y="405.20" font-family="'Liberation Sans', sans-serif" font-size="25.0" fill="#000" text-anchor="middle">2.1281617</text>
<text x="1585.50" y="435.70" font-family="'Liberation Sans', sans-serif" font-size="25.0" fill="#000" text-anchor="middle">0.0</text>
<text x="1585.50" y="465.80" font-family="'Liberation Sans', sans-serif" font-size="25.0" fill="#000" text-anchor="middle">0.0</text>
<text x="1423.90" y="740.40" font-family="'Liberation Sans', sans-serif" font-size="25" fill="#000" font-weight="bold" text-anchor="middle">Histone demethylases</text>
<text x="1412.90" y="813.50" font-family="'Liberation Sans', sans-serif" font-size="25.0" fill="#000" text-anchor="middle">NES</text>
<text x="1412.90" y="843.80" font-family="'Liberation Sans', sans-serif" font-size="25.0" fill="#000" text-anchor="middle">Nominal pValue</text>
<text x="1412.90" y="874.40" font-family="'Liberation Sans', sans-serif" font-size="25.0" fill="#000" text-anchor="middle">FDR qValue</text>
<text x="1244.00" y="816.90" font-family="'Liberation Sans', sans-serif" font-size="25.0" fill="#000" text-anchor="middle">1.6391771</text>
<text x="1244.00" y="847.00" font-family="'Liberation Sans', sans-serif" font-size="25.0" fill="#000" text-anchor="middle">0.00694</text>
<text x="1244.00" y="876.80" font-family="'Liberation Sans', sans-serif" font-size="25.0" fill="#000" text-anchor="middle">0.1949</text>
<text x="1591.50" y="821.80" font-family="'Liberation Sans', sans-serif" font-size="25.0" fill="#000" text-anchor="middle">-1.118347</text>
<text x="1591.50" y="851.90" font-family="'Liberation Sans', sans-serif" font-size="25.0" fill="#000" text-anchor="middle">0.0</text>
<text x="1591.50" y="882.40" font-family="'Liberation Sans', sans-serif" font-size="25.0" fill="#000" text-anchor="middle">0.1117</text>
<text x="1423.90" y="1150.40" font-family="'Liberation Sans', sans-serif" font-size="25" fill="#000" font-weight="bold" text-anchor="middle">DNA methylation</text>
<text x="1416.10" y="1223.50" font-family="'Liberation Sans', sans-serif" font-size="25.0" fill="#000" text-anchor="middle">NES</text>
<text x="1416.10" y="1253.80" font-family="'Liberation Sans', sans-serif" font-size="25.0" fill="#000" text-anchor="middle">Nominal pValue</text>
<text x="1416.10" y="1284.40" font-family="'Liberation Sans', sans-serif" font-size="25.0" fill="#000" text-anchor="middle">FDR qValue</text>
<text x="1250.30" y="1254.30" font-family="'Liberation Sans', sans-serif" font-size="25.0" fill="#000" text-anchor="middle">2.0700269</text>
<text x="1250.30" y="1284.40" font-family="'Liberation Sans', sans-serif" font-size="25.0" fill="#000" text-anchor="middle">0.0</text>
<text x="1250.30" y="1314.40" font-family="'Liberation Sans', sans-serif" font-size="25.0" fill="#000" text-anchor="middle">0.0</text>
<text x="1585.20" y="1249.70" font-family="'Liberation Sans', sans-serif" font-size="25.0" fill="#000" text-anchor="middle">2.0205884</text>
<text x="1585.20" y="1280.00" font-family="'Liberation Sans', sans-serif" font-size="25.0" fill="#000" text-anchor="middle">0.0</text>
<text x="1585.20" y="1310.00" font-family="'Liberation Sans', sans-serif" font-size="25.0" fill="#000" text-anchor="middle">0.0</text>
<defs><filter id="gs" x="-2%" y="-2%" width="104%" height="104%"><feGaussianBlur stdDeviation="0.3"/></filter></defs>
<g filter="url(#gs)">
<rect x="807.6" y="214.9" width="371.3" height="371.0" fill="#f2f2f2"/>
<rect x="850.2" y="251.3" width="323.1" height="286.1" fill="#fff"/>
<line x1="908.7" y1="251.3" x2="908.7" y2="389.0" stroke="#d9d9d9" stroke-width="0.7" stroke-dasharray="1.2 1.2"/>
<line x1="908.7" y1="445.9" x2="908.7" y2="537.4" stroke="#d9d9d9" stroke-width="0.7" stroke-dasharray="1.2 1.2"/>
<line x1="966.9" y1="251.3" x2="966.9" y2="389.0" stroke="#d9d9d9" stroke-width="0.7" stroke-dasharray="1.2 1.2"/>
<line x1="966.9" y1="445.9" x2="966.9" y2="537.4" stroke="#d9d9d9" stroke-width="0.7" stroke-dasharray="1.2 1.2"/>
<line x1="1023.7" y1="251.3" x2="1023.7" y2="389.0" stroke="#d9d9d9" stroke-width="0.7" stroke-dasharray="1.2 1.2"/>
<line x1="1023.7" y1="445.9" x2="1023.7" y2="537.4" stroke="#d9d9d9" stroke-width="0.7" stroke-dasharray="1.2 1.2"/>
<line x1="1081.9" y1="251.3" x2="1081.9" y2="389.0" stroke="#d9d9d9" stroke-width="0.7" stroke-dasharray="1.2 1.2"/>
<line x1="1081.9" y1="445.9" x2="1081.9" y2="537.4" stroke="#d9d9d9" stroke-width="0.7" stroke-dasharray="1.2 1.2"/>
<line x1="1140.4" y1="251.3" x2="1140.4" y2="389.0" stroke="#d9d9d9" stroke-width="0.7" stroke-dasharray="1.2 1.2"/>
<line x1="1140.4" y1="445.9" x2="1140.4" y2="537.4" stroke="#d9d9d9" stroke-width="0.7" stroke-dasharray="1.2 1.2"/>
<line x1="850.2" y1="264.5" x2="1173.3" y2="264.5" stroke="#d9d9d9" stroke-width="0.7" stroke-dasharray="1.2 1.2"/>
<line x1="848.2" y1="264.5" x2="850.2" y2="264.5" stroke="#999" stroke-width="0.7"/>
<text x="845.60" y="267.70" font-family="'DejaVu Sans Condensed', 'DejaVu Sans', sans-serif" font-size="9.2" fill="#444" text-anchor="end" textLength="13.00" lengthAdjust="spacingAndGlyphs">0.7</text>
<line x1="850.2" y1="280.9" x2="1173.3" y2="280.9" stroke="#d9d9d9" stroke-width="0.7" stroke-dasharray="1.2 1.2"/>
<line x1="848.2" y1="280.9" x2="850.2" y2="280.9" stroke="#999" stroke-width="0.7"/>
<text x="845.60" y="284.10" font-family="'DejaVu Sans Condensed', 'DejaVu Sans', sans-serif" font-size="9.2" fill="#444" text-anchor="end" textLength="13.00" lengthAdjust="spacingAndGlyphs">0.6</text>
<line x1="850.2" y1="297.9" x2="1173.3" y2="297.9" stroke="#d9d9d9" stroke-width="0.7" stroke-dasharray="1.2 1.2"/>
<line x1="848.2" y1="297.9" x2="850.2" y2="297.9" stroke="#999" stroke-width="0.7"/>
<text x="845.60" y="301.10" font-family="'DejaVu Sans Condensed', 'DejaVu Sans', sans-serif" font-size="9.2" fill="#444" text-anchor="end" textLength="13.00" lengthAdjust="spacingAndGlyphs">0.5</text>
<line x1="850.2" y1="314.7" x2="1173.3" y2="314.7" stroke="#d9d9d9" stroke-width="0.7" stroke-dasharray="1.2 1.2"/>
<line x1="848.2" y1="314.7" x2="850.2" y2="314.7" stroke="#999" stroke-width="0.7"/>
<text x="845.60" y="317.90" font-family="'DejaVu Sans Condensed', 'DejaVu Sans', sans-serif" font-size="9.2" fill="#444" text-anchor="end" textLength="13.00" lengthAdjust="spacingAndGlyphs">0.4</text>
<line x1="850.2" y1="331.4" x2="1173.3" y2="331.4" stroke="#d9d9d9" stroke-width="0.7" stroke-dasharray="1.2 1.2"/>
<line x1="848.2" y1="331.4" x2="850.2" y2="331.4" stroke="#999" stroke-width="0.7"/>
<text x="845.60" y="334.60" font-family="'DejaVu Sans Condensed', 'DejaVu Sans', sans-serif" font-size="9.2" fill="#444" text-anchor="end" textLength="13.00" lengthAdjust="spacingAndGlyphs">0.3</text>
<line x1="850.2" y1="348.0" x2="1173.3" y2="348.0" stroke="#d9d9d9" stroke-width="0.7" stroke-dasharray="1.2 1.2"/>
<line x1="848.2" y1="348.0" x2="850.2" y2="348.0" stroke="#999" stroke-width="0.7"/>
<text x="845.60" y="351.20" font-family="'DejaVu Sans Condensed', 'DejaVu Sans', sans-serif" font-size="9.2" fill="#444" text-anchor="end" textLength="13.00" lengthAdjust="spacingAndGlyphs">0.2</text>
<line x1="850.2" y1="364.8" x2="1173.3" y2="364.8" stroke="#d9d9d9" stroke-width="0.7" stroke-dasharray="1.2 1.2"/>
<line x1="848.2" y1="364.8" x2="850.2" y2="364.8" stroke="#999" stroke-width="0.7"/>
<text x="845.60" y="368.00" font-family="'DejaVu Sans Condensed', 'DejaVu Sans', sans-serif" font-size="9.2" fill="#444" text-anchor="end" textLength="13.00" lengthAdjust="spacingAndGlyphs">0.1</text>
<line x1="850.2" y1="381.8" x2="1173.3" y2="381.8" stroke="#bdbdbd" stroke-width="1"/>
<line x1="848.2" y1="381.8" x2="850.2" y2="381.8" stroke="#999" stroke-width="0.7"/>
<text x="845.60" y="385.00" font-family="'DejaVu Sans Condensed', 'DejaVu Sans', sans-serif" font-size="9.2" fill="#444" text-anchor="end" textLength="13.00" lengthAdjust="spacingAndGlyphs">0.0</text>
<line x1="850.2" y1="458.7" x2="1173.3" y2="458.7" stroke="#d9d9d9" stroke-width="0.7" stroke-dasharray="1.2 1.2"/>
<text x="845.80" y="461.90" font-family="'DejaVu Sans Condensed', 'DejaVu Sans', sans-serif" font-size="9.2" fill="#333" text-anchor="end" textLength="4.60" lengthAdjust="spacingAndGlyphs">4</text>
<line x1="850.2" y1="476.8" x2="1173.3" y2="476.8" stroke="#d9d9d9" stroke-width="0.7" stroke-dasharray="1.2 1.2"/>
<text x="845.80" y="480.00" font-family="'DejaVu Sans Condensed', 'DejaVu Sans', sans-serif" font-size="9.2" fill="#333" text-anchor="end" textLength="4.60" lengthAdjust="spacingAndGlyphs">2</text>
<line x1="850.2" y1="494.9" x2="1173.3" y2="494.9" stroke="#d9d9d9" stroke-width="0.7" stroke-dasharray="1.2 1.2"/>
<text x="845.80" y="498.10" font-family="'DejaVu Sans Condensed', 'DejaVu Sans', sans-serif" font-size="9.2" fill="#333" text-anchor="end" textLength="4.60" lengthAdjust="spacingAndGlyphs">0</text>
<line x1="850.2" y1="513.0" x2="1173.3" y2="513.0" stroke="#d9d9d9" stroke-width="0.7" stroke-dasharray="1.2 1.2"/>
<text x="845.80" y="516.20" font-family="'DejaVu Sans Condensed', 'DejaVu Sans', sans-serif" font-size="9.2" fill="#333" text-anchor="end" textLength="7.60" lengthAdjust="spacingAndGlyphs">-2</text>
<line x1="850.2" y1="531.5" x2="1173.3" y2="531.5" stroke="#d9d9d9" stroke-width="0.7" stroke-dasharray="1.2 1.2"/>
<text x="845.80" y="534.70" font-family="'DejaVu Sans Condensed', 'DejaVu Sans', sans-serif" font-size="9.2" fill="#333" text-anchor="end" textLength="7.60" lengthAdjust="spacingAndGlyphs">-4</text>
<rect x="850.2" y="251.3" width="323.1" height="137.7" fill="none" stroke="#c8c8c8" stroke-width="0.8"/>
<rect x="850.2" y="389.0" width="323.1" height="45.1" fill="none" stroke="#c8c8c8" stroke-width="0.8"/>
<rect x="850.2" y="434.1" width="323.1" height="11.8" fill="none" stroke="#c8c8c8" stroke-width="0.8"/>
<rect x="850.2" y="445.9" width="323.1" height="91.5" fill="none" stroke="#c8c8c8" stroke-width="0.8"/>
<line x1="850.2" y1="445.9" x2="850.2" y2="537.4" stroke="#8a8a8a" stroke-width="0.8"/>
<line x1="850.2" y1="537.4" x2="1173.3" y2="537.4" stroke="#8a8a8a" stroke-width="0.8"/>
<rect x="850.2" y="434.5" width="5.4" height="11.2" fill="#d42222"/>
<rect x="855.3" y="434.5" width="65.1" height="11.2" fill="#f45252"/>
<rect x="920.1" y="434.5" width="26.0" height="11.2" fill="#fa7a80"/>
<rect x="945.9" y="434.5" width="108.6" height="11.2" fill="#fdbde2"/>
<rect x="1054.2" y="434.5" width="58.8" height="11.2" fill="#d3d2fb"/>
<rect x="1112.8" y="434.5" width="5.6" height="11.2" fill="#8c8af6"/>
<rect x="1118.1" y="434.5" width="32.1" height="11.2" fill="#6b5aea"/>
<rect x="1150.0" y="434.5" width="8.3" height="11.2" fill="#2b0ac9"/>
<rect x="850.7" y="390.9" width="6.5" height="43.2" fill="#1a1a1a"/>
<rect x="857.2" y="390.9" width="2.3" height="43.2" fill="#555"/>
<path d="M860.6 390.9V445.6M861.4 390.9V445.6M866.7 390.9V445.6M868.1 390.9V445.6M869.0 390.9V445.6M869.8 390.9V445.6M873.4 390.9V445.6M874.9 390.9V445.6M878.6 390.9V445.6M881.4 390.9V445.6M882.2 390.9V445.6M883.0 390.9V445.6M884.3 390.9V445.6M895.0 390.9V445.6M908.7 390.9V445.6M910.2 390.9V445.6M913.5 390.9V445.6M917.3 390.9V445.6M918.2 390.9V445.6M919.2 390.9V445.6M928.7 390.9V445.6M932.5 390.9V445.6M933.5 390.9V445.6M934.1 390.9V445.6M937.7 390.9V445.6M947.2 390.9V445.6M950.7 390.9V445.6M951.6 390.9V445.6M954.1 390.9V445.6M1049.3 390.9V445.6M1055.6 390.9V445.6M1064.5 390.9V445.6M1069.5 390.9V445.6M1070.4 390.9V445.6M1078.1 390.9V445.6M1092.4 390.9V445.6M1101.3 390.9V445.6M1128.4 390.9V445.6M1133.7 390.9V445.6" stroke="#000" stroke-width="0.75" opacity=".16" fill="none"/>
<path d="M860.6 390.9V434.1M861.4 390.9V434.1M866.7 390.9V434.1M868.1 390.9V434.1M869.0 390.9V434.1M869.8 390.9V434.1M873.4 390.9V434.1M874.9 390.9V434.1M878.6 390.9V434.1M881.4 390.9V434.1M882.2 390.9V434.1M883.0 390.9V434.1M884.3 390.9V434.1M895.0 390.9V434.1M908.7 390.9V434.1M910.2 390.9V434.1M913.5 390.9V434.1M917.3 390.9V434.1M918.2 390.9V434.1M919.2 390.9V434.1M928.7 390.9V434.1M932.5 390.9V434.1M933.5 390.9V434.1M934.1 390.9V434.1M937.7 390.9V434.1M947.2 390.9V434.1M950.7 390.9V434.1M951.6 390.9V434.1M954.1 390.9V434.1M1049.3 390.9V434.1M1055.6 390.9V434.1M1064.5 390.9V434.1M1069.5 390.9V434.1M1070.4 390.9V434.1M1078.1 390.9V434.1M1092.4 390.9V434.1M1101.3 390.9V434.1M1128.4 390.9V434.1M1133.7 390.9V434.1" stroke="#0a0a0a" stroke-width="0.8" opacity=".9" fill="none"/>
<path d="M850.2 472.0 L851.5 476.8 L855.3 481.6 L863.0 484.4 L876.3 486.8 L895.4 489.2 L914.4 490.7 L925.9 492.0 L943.1 493.8 L958.3 494.9 L850.2 495.5Z" fill="#bcbcbc"/>
<path d="M1052.8 494.9 L1067.1 496.3 L1086.1 497.8 L1105.2 498.9 L1124.3 500.2 L1139.5 502.5 L1149.1 505.4 L1154.7 510.1 L1156.7 514.8 L1157.7 522.5 L1158.0 532.9 L1158.0 494.3 L1052.8 494.3Z" fill="#bcbcbc"/>
<line x1="958.3" y1="449.9" x2="958.3" y2="537.4" stroke="#b4b4b4" stroke-width="0.8" stroke-dasharray="2.4 1.8"/>
<text x="958.30" y="494.40" font-family="'DejaVu Sans Condensed', 'DejaVu Sans', sans-serif" font-size="7.0" fill="#444" text-anchor="middle" textLength="62.90" lengthAdjust="spacing">Zero cross at 9360</text>
<text x="852.80" y="453.30" font-family="'DejaVu Sans Condensed', 'DejaVu Sans', sans-serif" font-size="7.8" fill="#ff3a3a" textLength="107.00" lengthAdjust="spacingAndGlyphs">'ClassA' (positively correlated)</text>
<text x="1121.90" y="534.00" font-family="'DejaVu Sans Condensed', 'DejaVu Sans', sans-serif" font-size="7.8" fill="#4a4aff" text-anchor="end" textLength="109.80" lengthAdjust="spacingAndGlyphs">'ClassB' (negatively correlated)</text>
<text x="850.20" y="548.70" font-family="'DejaVu Sans Condensed', 'DejaVu Sans', sans-serif" font-size="9.2" fill="#333" text-anchor="middle" textLength="4.60" lengthAdjust="spacingAndGlyphs">0</text>
<line x1="908.7" y1="537.4" x2="908.7" y2="539.2" stroke="#8a8a8a" stroke-width="0.7"/>
<text x="908.70" y="548.70" font-family="'DejaVu Sans Condensed', 'DejaVu Sans', sans-serif" font-size="9.2" fill="#333" text-anchor="middle" textLength="19.50" lengthAdjust="spacingAndGlyphs">5,000</text>
<line x1="966.9" y1="537.4" x2="966.9" y2="539.2" stroke="#8a8a8a" stroke-width="0.7"/>
<text x="966.90" y="548.70" font-family="'DejaVu Sans Condensed', 'DejaVu Sans', sans-serif" font-size="9.2" fill="#333" text-anchor="middle" textLength="23.80" lengthAdjust="spacingAndGlyphs">10,000</text>
<line x1="1023.7" y1="537.4" x2="1023.7" y2="539.2" stroke="#8a8a8a" stroke-width="0.7"/>
<text x="1023.70" y="548.70" font-family="'DejaVu Sans Condensed', 'DejaVu Sans', sans-serif" font-size="9.2" fill="#333" text-anchor="middle" textLength="23.80" lengthAdjust="spacingAndGlyphs">15,000</text>
<line x1="1081.9" y1="537.4" x2="1081.9" y2="539.2" stroke="#8a8a8a" stroke-width="0.7"/>
<text x="1081.90" y="548.70" font-family="'DejaVu Sans Condensed', 'DejaVu Sans', sans-serif" font-size="9.2" fill="#333" text-anchor="middle" textLength="23.80" lengthAdjust="spacingAndGlyphs">20,000</text>
<line x1="1140.4" y1="537.4" x2="1140.4" y2="539.2" stroke="#8a8a8a" stroke-width="0.7"/>
<text x="1140.40" y="548.70" font-family="'DejaVu Sans Condensed', 'DejaVu Sans', sans-serif" font-size="9.2" fill="#333" text-anchor="middle" textLength="23.80" lengthAdjust="spacingAndGlyphs">25,000</text>
<text x="1011.75" y="559.80" font-family="'DejaVu Sans Condensed', 'DejaVu Sans', sans-serif" font-size="9.1" fill="#111" text-anchor="middle" textLength="106.80" lengthAdjust="spacingAndGlyphs">Rank in Ordered Dataset</text>
<text transform="translate(826.1 320.1) rotate(-90)" font-family="'DejaVu Sans', sans-serif" font-size="10.6" font-weight="bold" fill="#222" text-anchor="middle" textLength="115.8" lengthAdjust="spacingAndGlyphs">Enrichment score (ES)</text>
<text transform="translate(831.2 489.9) rotate(-90)" font-family="'DejaVu Sans Condensed', 'DejaVu Sans', sans-serif" font-size="9.1" fill="#111" text-anchor="middle" textLength="142" lengthAdjust="spacingAndGlyphs">Ranked list metric (Signal2Noise)</text>
<path d="M851.1 381.8 L852.4 363.3 L853.4 355.7 L854.7 342.3 L855.7 330.9 L856.3 319.4 L857.2 308.9 L859.1 299.4 L860.5 286.1 L861.4 281.3 L866.7 284.7 L867.7 277.5 L869.6 274.6 L870.6 267.9 L872.9 268.9 L875.3 264.7 L878.2 265.6 L879.1 263.2 L881.1 264.1 L882.4 259.4 L884.3 257.4 L894.4 263.2 L895.4 261.6 L908.7 268.9 L912.5 267.0 L916.7 268.5 L919.2 267.0 L928.7 271.7 L931.6 272.3 L936.4 273.1 L941.1 275.2 L946.8 278.4 L952.6 280.7 L955.4 281.3 L971.6 290.8 L990.7 301.3 L1009.8 311.8 L1028.9 322.3 L1047.9 332.8 L1063.2 340.8 L1070.8 343.6 L1077.5 347.1 L1080.3 347.7 L1091.8 353.8 L1100.4 357.6 L1102.3 356.6 L1112.8 362.3 L1128.0 370.5 L1129.5 369.0 L1132.8 370.9 L1134.1 368.4 L1158.0 382.0" fill="none" stroke="#00ff00" stroke-width="2.0" stroke-linejoin="round" stroke-linecap="round"/>
<text x="991.30" y="228.30" font-family="'DejaVu Sans', sans-serif" font-size="12.3" fill="#000" font-weight="bold" text-anchor="middle" textLength="113.50" lengthAdjust="spacingAndGlyphs">Enrichment plot:</text>
<text x="993.20" y="244.70" font-family="'DejaVu Sans', sans-serif" font-size="12.3" fill="#000" font-weight="bold" text-anchor="middle" textLength="299.20" lengthAdjust="spacingAndGlyphs">CORDENONSI_YAP_CONSERVED_SIGNATURE</text>
<rect x="862.9" y="568.3" width="260.9" height="17.0" fill="#fff" stroke="#000" stroke-width="0.9"/>
<line x1="865.2" y1="576.9" x2="876.7" y2="576.9" stroke="#00ff00" stroke-width="1.4"/>
<text x="879.10" y="580.20" font-family="'DejaVu Sans Condensed', 'DejaVu Sans', sans-serif" font-size="9.1" fill="#111" textLength="77.20" lengthAdjust="spacingAndGlyphs">Enrichment profile</text>
<line x1="961.1" y1="576.9" x2="971.6" y2="576.9" stroke="#333" stroke-width="0.8"/>
<text x="974.50" y="580.20" font-family="'DejaVu Sans Condensed', 'DejaVu Sans', sans-serif" font-size="9.1" fill="#111" textLength="16.20" lengthAdjust="spacingAndGlyphs">Hits</text>
<line x1="1012.6" y1="576.9" x2="1023.1" y2="576.9" stroke="#c4c4c4" stroke-width="0.8"/>
<text x="1026.60" y="580.20" font-family="'DejaVu Sans Condensed', 'DejaVu Sans', sans-serif" font-size="9.1" fill="#111" textLength="93.80" lengthAdjust="spacingAndGlyphs">Ranking metric scores</text>
</g>
<g filter="url(#gs)">
<rect x="810.5" y="639.9" width="371.3" height="371.0" fill="#f2f2f2"/>
<rect x="856.3" y="676.3" width="319.9" height="286.1" fill="#fff"/>
<line x1="913.5" y1="676.3" x2="913.5" y2="814.0" stroke="#d9d9d9" stroke-width="0.7" stroke-dasharray="1.2 1.2"/>
<line x1="913.5" y1="870.9" x2="913.5" y2="962.4" stroke="#d9d9d9" stroke-width="0.7" stroke-dasharray="1.2 1.2"/>
<line x1="971.1" y1="676.3" x2="971.1" y2="814.0" stroke="#d9d9d9" stroke-width="0.7" stroke-dasharray="1.2 1.2"/>
<line x1="971.1" y1="870.9" x2="971.1" y2="962.4" stroke="#d9d9d9" stroke-width="0.7" stroke-dasharray="1.2 1.2"/>
<line x1="1028.5" y1="676.3" x2="1028.5" y2="814.0" stroke="#d9d9d9" stroke-width="0.7" stroke-dasharray="1.2 1.2"/>
<line x1="1028.5" y1="870.9" x2="1028.5" y2="962.4" stroke="#d9d9d9" stroke-width="0.7" stroke-dasharray="1.2 1.2"/>
<line x1="1086.1" y1="676.3" x2="1086.1" y2="814.0" stroke="#d9d9d9" stroke-width="0.7" stroke-dasharray="1.2 1.2"/>
<line x1="1086.1" y1="870.9" x2="1086.1" y2="962.4" stroke="#d9d9d9" stroke-width="0.7" stroke-dasharray="1.2 1.2"/>
<line x1="1143.7" y1="676.3" x2="1143.7" y2="814.0" stroke="#d9d9d9" stroke-width="0.7" stroke-dasharray="1.2 1.2"/>
<line x1="1143.7" y1="870.9" x2="1143.7" y2="962.4" stroke="#d9d9d9" stroke-width="0.7" stroke-dasharray="1.2 1.2"/>
<line x1="856.3" y1="683.0" x2="1176.2" y2="683.0" stroke="#bdbdbd" stroke-width="1"/>
<line x1="854.3" y1="683.0" x2="856.3" y2="683.0" stroke="#999" stroke-width="0.7"/>
<text x="851.70" y="686.20" font-family="'DejaVu Sans Condensed', 'DejaVu Sans', sans-serif" font-size="9.2" fill="#444" text-anchor="end" textLength="13.00" lengthAdjust="spacingAndGlyphs">0.0</text>
<line x1="856.3" y1="701.9" x2="1176.2" y2="701.9" stroke="#d9d9d9" stroke-width="0.7" stroke-dasharray="1.2 1.2"/>
<line x1="854.3" y1="701.9" x2="856.3" y2="701.9" stroke="#999" stroke-width="0.7"/>
<text x="851.70" y="705.10" font-family="'DejaVu Sans Condensed', 'DejaVu Sans', sans-serif" font-size="9.2" fill="#444" text-anchor="end" textLength="15.30" lengthAdjust="spacingAndGlyphs">-0.1</text>
<line x1="856.3" y1="721.2" x2="1176.2" y2="721.2" stroke="#d9d9d9" stroke-width="0.7" stroke-dasharray="1.2 1.2"/>
<line x1="854.3" y1="721.2" x2="856.3" y2="721.2" stroke="#999" stroke-width="0.7"/>
<text x="851.70" y="724.40" font-family="'DejaVu Sans Condensed', 'DejaVu Sans', sans-serif" font-size="9.2" fill="#444" text-anchor="end" textLength="15.30" lengthAdjust="spacingAndGlyphs">-0.2</text>
<line x1="856.3" y1="740.0" x2="1176.2" y2="740.0" stroke="#d9d9d9" stroke-width="0.7" stroke-dasharray="1.2 1.2"/>
<line x1="854.3" y1="740.0" x2="856.3" y2="740.0" stroke="#999" stroke-width="0.7"/>
<text x="851.70" y="743.20" font-family="'DejaVu Sans Condensed', 'DejaVu Sans', sans-serif" font-size="9.2" fill="#444" text-anchor="end" textLength="15.30" lengthAdjust="spacingAndGlyphs">-0.3</text>
<line x1="856.3" y1="759.1" x2="1176.2" y2="759.1" stroke="#d9d9d9" stroke-width="0.7" stroke-dasharray="1.2 1.2"/>
<line x1="854.3" y1="759.1" x2="856.3" y2="759.1" stroke="#999" stroke-width="0.7"/>
<text x="851.70" y="762.30" font-family="'DejaVu Sans Condensed', 'DejaVu Sans', sans-serif" font-size="9.2" fill="#444" text-anchor="end" textLength="15.30" lengthAdjust="spacingAndGlyphs">-0.4</text>
<line x1="856.3" y1="778.2" x2="1176.2" y2="778.2" stroke="#d9d9d9" stroke-width="0.7" stroke-dasharray="1.2 1.2"/>
<line x1="854.3" y1="778.2" x2="856.3" y2="778.2" stroke="#999" stroke-width="0.7"/>
<text x="851.70" y="781.40" font-family="'DejaVu Sans Condensed', 'DejaVu Sans', sans-serif" font-size="9.2" fill="#444" text-anchor="end" textLength="15.30" lengthAdjust="spacingAndGlyphs">-0.5</text>
<line x1="856.3" y1="797.3" x2="1176.2" y2="797.3" stroke="#d9d9d9" stroke-width="0.7" stroke-dasharray="1.2 1.2"/>
<line x1="854.3" y1="797.3" x2="856.3" y2="797.3" stroke="#999" stroke-width="0.7"/>
<text x="851.70" y="800.50" font-family="'DejaVu Sans Condensed', 'DejaVu Sans', sans-serif" font-size="9.2" fill="#444" text-anchor="end" textLength="15.30" lengthAdjust="spacingAndGlyphs">-0.6</text>
<line x1="856.3" y1="883.7" x2="1176.2" y2="883.7" stroke="#d9d9d9" stroke-width="0.7" stroke-dasharray="1.2 1.2"/>
<text x="851.90" y="886.90" font-family="'DejaVu Sans Condensed', 'DejaVu Sans', sans-serif" font-size="9.2" fill="#333" text-anchor="end" textLength="4.60" lengthAdjust="spacingAndGlyphs">4</text>
<line x1="856.3" y1="901.8" x2="1176.2" y2="901.8" stroke="#d9d9d9" stroke-width="0.7" stroke-dasharray="1.2 1.2"/>
<text x="851.90" y="905.00" font-family="'DejaVu Sans Condensed', 'DejaVu Sans', sans-serif" font-size="9.2" fill="#333" text-anchor="end" textLength="4.60" lengthAdjust="spacingAndGlyphs">2</text>
<line x1="856.3" y1="919.9" x2="1176.2" y2="919.9" stroke="#d9d9d9" stroke-width="0.7" stroke-dasharray="1.2 1.2"/>
<text x="851.90" y="923.10" font-family="'DejaVu Sans Condensed', 'DejaVu Sans', sans-serif" font-size="9.2" fill="#333" text-anchor="end" textLength="4.60" lengthAdjust="spacingAndGlyphs">0</text>
<line x1="856.3" y1="938.0" x2="1176.2" y2="938.0" stroke="#d9d9d9" stroke-width="0.7" stroke-dasharray="1.2 1.2"/>
<text x="851.90" y="941.20" font-family="'DejaVu Sans Condensed', 'DejaVu Sans', sans-serif" font-size="9.2" fill="#333" text-anchor="end" textLength="7.60" lengthAdjust="spacingAndGlyphs">-2</text>
<line x1="856.3" y1="956.5" x2="1176.2" y2="956.5" stroke="#d9d9d9" stroke-width="0.7" stroke-dasharray="1.2 1.2"/>
<text x="851.90" y="959.70" font-family="'DejaVu Sans Condensed', 'DejaVu Sans', sans-serif" font-size="9.2" fill="#333" text-anchor="end" textLength="7.60" lengthAdjust="spacingAndGlyphs">-4</text>
<rect x="856.3" y="676.3" width="319.9" height="137.7" fill="none" stroke="#c8c8c8" stroke-width="0.8"/>
<rect x="856.3" y="814.0" width="319.9" height="45.1" fill="none" stroke="#c8c8c8" stroke-width="0.8"/>
<rect x="856.3" y="859.1" width="319.9" height="11.8" fill="none" stroke="#c8c8c8" stroke-width="0.8"/>
<rect x="856.3" y="870.9" width="319.9" height="91.5" fill="none" stroke="#c8c8c8" stroke-width="0.8"/>
<line x1="856.3" y1="870.9" x2="856.3" y2="962.4" stroke="#8a8a8a" stroke-width="0.8"/>
<line x1="856.3" y1="962.4" x2="1176.2" y2="962.4" stroke="#8a8a8a" stroke-width="0.8"/>
<rect x="856.3" y="859.5" width="16.1" height="11.2" fill="#d42222"/>
<rect x="872.1" y="859.5" width="55.0" height="11.2" fill="#f45252"/>
<rect x="926.8" y="859.5" width="24.1" height="11.2" fill="#fa7a80"/>
<rect x="950.7" y="859.5" width="107.5" height="11.2" fill="#fdbde2"/>
<rect x="1057.8" y="859.5" width="59.0" height="11.2" fill="#d3d2fb"/>
<rect x="1116.6" y="859.5" width="6.0" height="11.2" fill="#8c8af6"/>
<rect x="1122.3" y="859.5" width="31.2" height="11.2" fill="#6b5aea"/>
<rect x="1153.2" y="859.5" width="7.5" height="11.2" fill="#2b0ac9"/>
<path d="M881.4 815.9V870.6M919.2 815.9V870.6M928.7 815.9V870.6M938.8 815.9V870.6M943.0 815.9V870.6M1011.7 815.9V870.6M1055.9 815.9V870.6M1059.0 815.9V870.6M1070.8 815.9V870.6M1085.1 815.9V870.6M1089.9 815.9V870.6M1102.3 815.9V870.6M1117.5 815.9V870.6M1126.5 815.9V870.6M1139.5 815.9V870.6M1151.5 815.9V870.6M1152.4 815.9V870.6M1155.7 815.9V870.6M1157.2 815.9V870.6M1158.5 815.9V870.6M1159.7 815.9V870.6" stroke="#000" stroke-width="0.75" opacity=".16" fill="none"/>
<path d="M881.4 815.9V859.1M919.2 815.9V859.1M928.7 815.9V859.1M938.8 815.9V859.1M943.0 815.9V859.1M1011.7 815.9V859.1M1055.9 815.9V859.1M1059.0 815.9V859.1M1070.8 815.9V859.1M1085.1 815.9V859.1M1089.9 815.9V859.1M1102.3 815.9V859.1M1117.5 815.9V859.1M1126.5 815.9V859.1M1139.5 815.9V859.1M1151.5 815.9V859.1M1152.4 815.9V859.1M1155.7 815.9V859.1M1157.2 815.9V859.1M1158.5 815.9V859.1M1159.7 815.9V859.1" stroke="#0a0a0a" stroke-width="0.8" opacity=".9" fill="none"/>
<path d="M856.3 897.0 L857.6 901.8 L861.4 906.6 L868.9 909.4 L882.1 911.8 L900.9 914.2 L919.8 915.7 L931.1 917.0 L948.1 918.8 L963.1 919.9 L856.3 920.5Z" fill="#bcbcbc"/>
<path d="M1056.4 919.9 L1070.5 921.3 L1089.4 922.8 L1108.2 923.9 L1127.1 925.2 L1142.2 927.5 L1151.6 930.4 L1157.2 935.1 L1159.1 939.8 L1160.1 947.5 L1160.4 957.9 L1160.4 919.3 L1056.4 919.3Z" fill="#bcbcbc"/>
<line x1="963.6" y1="874.9" x2="963.6" y2="962.4" stroke="#b4b4b4" stroke-width="0.8" stroke-dasharray="2.4 1.8"/>
<text x="963.60" y="919.40" font-family="'DejaVu Sans Condensed', 'DejaVu Sans', sans-serif" font-size="7.0" fill="#444" text-anchor="middle" textLength="62.90" lengthAdjust="spacing">Zero cross at 9360</text>
<text x="858.90" y="878.30" font-family="'DejaVu Sans Condensed', 'DejaVu Sans', sans-serif" font-size="7.8" fill="#ff3a3a" textLength="107.00" lengthAdjust="spacingAndGlyphs">'ClassA' (positively correlated)</text>
<text x="1124.80" y="959.00" font-family="'DejaVu Sans Condensed', 'DejaVu Sans', sans-serif" font-size="7.8" fill="#4a4aff" text-anchor="end" textLength="109.80" lengthAdjust="spacingAndGlyphs">'ClassB' (negatively correlated)</text>
<text x="856.30" y="973.70" font-family="'DejaVu Sans Condensed', 'DejaVu Sans', sans-serif" font-size="9.2" fill="#333" text-anchor="middle" textLength="4.60" lengthAdjust="spacingAndGlyphs">0</text>
<line x1="913.5" y1="962.4" x2="913.5" y2="964.2" stroke="#8a8a8a" stroke-width="0.7"/>
<text x="913.50" y="973.70" font-family="'DejaVu Sans Condensed', 'DejaVu Sans', sans-serif" font-size="9.2" fill="#333" text-anchor="middle" textLength="19.50" lengthAdjust="spacingAndGlyphs">5,000</text>
<line x1="971.1" y1="962.4" x2="971.1" y2="964.2" stroke="#8a8a8a" stroke-width="0.7"/>
<text x="971.10" y="973.70" font-family="'DejaVu Sans Condensed', 'DejaVu Sans', sans-serif" font-size="9.2" fill="#333" text-anchor="middle" textLength="23.80" lengthAdjust="spacingAndGlyphs">10,000</text>
<line x1="1028.5" y1="962.4" x2="1028.5" y2="964.2" stroke="#8a8a8a" stroke-width="0.7"/>
<text x="1028.50" y="973.70" font-family="'DejaVu Sans Condensed', 'DejaVu Sans', sans-serif" font-size="9.2" fill="#333" text-anchor="middle" textLength="23.80" lengthAdjust="spacingAndGlyphs">15,000</text>
<line x1="1086.1" y1="962.4" x2="1086.1" y2="964.2" stroke="#8a8a8a" stroke-width="0.7"/>
<text x="1086.10" y="973.70" font-family="'DejaVu Sans Condensed', 'DejaVu Sans', sans-serif" font-size="9.2" fill="#333" text-anchor="middle" textLength="23.80" lengthAdjust="spacingAndGlyphs">20,000</text>
<line x1="1143.7" y1="962.4" x2="1143.7" y2="964.2" stroke="#8a8a8a" stroke-width="0.7"/>
<text x="1143.70" y="973.70" font-family="'DejaVu Sans Condensed', 'DejaVu Sans', sans-serif" font-size="9.2" fill="#333" text-anchor="middle" textLength="23.80" lengthAdjust="spacingAndGlyphs">25,000</text>
<text x="1016.25" y="984.80" font-family="'DejaVu Sans Condensed', 'DejaVu Sans', sans-serif" font-size="9.1" fill="#111" text-anchor="middle" textLength="106.80" lengthAdjust="spacingAndGlyphs">Rank in Ordered Dataset</text>
<text transform="translate(829.0 745.1) rotate(-90)" font-family="'DejaVu Sans', sans-serif" font-size="10.6" font-weight="bold" fill="#222" text-anchor="middle" textLength="115.8" lengthAdjust="spacingAndGlyphs">Enrichment score (ES)</text>
<text transform="translate(834.1 914.9) rotate(-90)" font-family="'DejaVu Sans Condensed', 'DejaVu Sans', sans-serif" font-size="9.1" fill="#111" text-anchor="middle" textLength="142" lengthAdjust="spacingAndGlyphs">Ranked list metric (Signal2Noise)</text>
<path d="M856.6 683.4 L881.4 699.0 L882.0 687.8 L918.6 711.6 L919.2 706.3 L928.2 712.4 L929.1 708.2 L938.6 714.9 L939.6 712.4 L942.1 713.9 L943.0 712.4 L990.7 741.6 L1034.6 769.2 L1068.9 791.1 L1070.8 790.2 L1084.5 799.2 L1085.5 795.9 L1089.5 798.8 L1090.3 795.3 L1101.9 803.2 L1102.7 797.8 L1117.1 807.4 L1117.9 801.1 L1126.1 806.4 L1126.7 798.8 L1138.9 807.4 L1139.5 786.4 L1151.5 794.4 L1152.2 766.9 L1155.1 769.2 L1155.9 752.1 L1157.4 753.6 L1158.0 733.9 L1159.1 734.5 L1159.7 711.1 L1160.4 682.4" fill="none" stroke="#00ff00" stroke-width="2.0" stroke-linejoin="round" stroke-linecap="round"/>
<text x="994.20" y="653.30" font-family="'DejaVu Sans', sans-serif" font-size="12.3" fill="#000" font-weight="bold" text-anchor="middle" textLength="113.50" lengthAdjust="spacingAndGlyphs">Enrichment plot:</text>
<text x="996.10" y="669.70" font-family="'DejaVu Sans', sans-serif" font-size="12.3" fill="#000" font-weight="bold" text-anchor="middle" textLength="305.50" lengthAdjust="spacingAndGlyphs">REACTOME_HDMS_DEMETHYLATE_HISTONES</text>
<rect x="865.8" y="993.3" width="260.9" height="17.0" fill="#fff" stroke="#000" stroke-width="0.9"/>
<line x1="868.1" y1="1001.9" x2="879.6" y2="1001.9" stroke="#00ff00" stroke-width="1.4"/>
<text x="882.00" y="1005.20" font-family="'DejaVu Sans Condensed', 'DejaVu Sans', sans-serif" font-size="9.1" fill="#111" textLength="77.20" lengthAdjust="spacingAndGlyphs">Enrichment profile</text>
<line x1="964.0" y1="1001.9" x2="974.5" y2="1001.9" stroke="#333" stroke-width="0.8"/>
<text x="977.40" y="1005.20" font-family="'DejaVu Sans Condensed', 'DejaVu Sans', sans-serif" font-size="9.1" fill="#111" textLength="16.20" lengthAdjust="spacingAndGlyphs">Hits</text>
<line x1="1015.5" y1="1001.9" x2="1026.0" y2="1001.9" stroke="#c4c4c4" stroke-width="0.8"/>
<text x="1029.50" y="1005.20" font-family="'DejaVu Sans Condensed', 'DejaVu Sans', sans-serif" font-size="9.1" fill="#111" textLength="93.80" lengthAdjust="spacingAndGlyphs">Ranking metric scores</text>
</g>
<g filter="url(#gs)">
<rect x="812.0" y="1063.7" width="371.3" height="371.0" fill="#f2f2f2"/>
<rect x="854.9" y="1084.3" width="322.8" height="302.1" fill="#fff"/>
<line x1="912.5" y1="1084.3" x2="912.5" y2="1228.8" stroke="#d9d9d9" stroke-width="0.7" stroke-dasharray="1.2 1.2"/>
<line x1="912.5" y1="1289.6" x2="912.5" y2="1386.4" stroke="#d9d9d9" stroke-width="0.7" stroke-dasharray="1.2 1.2"/>
<line x1="970.7" y1="1084.3" x2="970.7" y2="1228.8" stroke="#d9d9d9" stroke-width="0.7" stroke-dasharray="1.2 1.2"/>
<line x1="970.7" y1="1289.6" x2="970.7" y2="1386.4" stroke="#d9d9d9" stroke-width="0.7" stroke-dasharray="1.2 1.2"/>
<line x1="1028.5" y1="1084.3" x2="1028.5" y2="1228.8" stroke="#d9d9d9" stroke-width="0.7" stroke-dasharray="1.2 1.2"/>
<line x1="1028.5" y1="1289.6" x2="1028.5" y2="1386.4" stroke="#d9d9d9" stroke-width="0.7" stroke-dasharray="1.2 1.2"/>
<line x1="1086.4" y1="1084.3" x2="1086.4" y2="1228.8" stroke="#d9d9d9" stroke-width="0.7" stroke-dasharray="1.2 1.2"/>
<line x1="1086.4" y1="1289.6" x2="1086.4" y2="1386.4" stroke="#d9d9d9" stroke-width="0.7" stroke-dasharray="1.2 1.2"/>
<line x1="1145.2" y1="1084.3" x2="1145.2" y2="1228.8" stroke="#d9d9d9" stroke-width="0.7" stroke-dasharray="1.2 1.2"/>
<line x1="1145.2" y1="1289.6" x2="1145.2" y2="1386.4" stroke="#d9d9d9" stroke-width="0.7" stroke-dasharray="1.2 1.2"/>
<line x1="854.9" y1="1100.5" x2="1177.7" y2="1100.5" stroke="#d9d9d9" stroke-width="0.7" stroke-dasharray="1.2 1.2"/>
<line x1="852.9" y1="1100.5" x2="854.9" y2="1100.5" stroke="#999" stroke-width="0.7"/>
<text x="850.30" y="1103.70" font-family="'DejaVu Sans Condensed', 'DejaVu Sans', sans-serif" font-size="9.2" fill="#444" text-anchor="end" textLength="13.00" lengthAdjust="spacingAndGlyphs">0.6</text>
<line x1="854.9" y1="1120.6" x2="1177.7" y2="1120.6" stroke="#d9d9d9" stroke-width="0.7" stroke-dasharray="1.2 1.2"/>
<line x1="852.9" y1="1120.6" x2="854.9" y2="1120.6" stroke="#999" stroke-width="0.7"/>
<text x="850.30" y="1123.80" font-family="'DejaVu Sans Condensed', 'DejaVu Sans', sans-serif" font-size="9.2" fill="#444" text-anchor="end" textLength="13.00" lengthAdjust="spacingAndGlyphs">0.5</text>
<line x1="854.9" y1="1141.0" x2="1177.7" y2="1141.0" stroke="#d9d9d9" stroke-width="0.7" stroke-dasharray="1.2 1.2"/>
<line x1="852.9" y1="1141.0" x2="854.9" y2="1141.0" stroke="#999" stroke-width="0.7"/>
<text x="850.30" y="1144.20" font-family="'DejaVu Sans Condensed', 'DejaVu Sans', sans-serif" font-size="9.2" fill="#444" text-anchor="end" textLength="13.00" lengthAdjust="spacingAndGlyphs">0.4</text>
<line x1="854.9" y1="1161.0" x2="1177.7" y2="1161.0" stroke="#d9d9d9" stroke-width="0.7" stroke-dasharray="1.2 1.2"/>
<line x1="852.9" y1="1161.0" x2="854.9" y2="1161.0" stroke="#999" stroke-width="0.7"/>
<text x="850.30" y="1164.20" font-family="'DejaVu Sans Condensed', 'DejaVu Sans', sans-serif" font-size="9.2" fill="#444" text-anchor="end" textLength="13.00" lengthAdjust="spacingAndGlyphs">0.3</text>
<line x1="854.9" y1="1181.6" x2="1177.7" y2="1181.6" stroke="#d9d9d9" stroke-width="0.7" stroke-dasharray="1.2 1.2"/>
<line x1="852.9" y1="1181.6" x2="854.9" y2="1181.6" stroke="#999" stroke-width="0.7"/>
<text x="850.30" y="1184.80" font-family="'DejaVu Sans Condensed', 'DejaVu Sans', sans-serif" font-size="9.2" fill="#444" text-anchor="end" textLength="13.00" lengthAdjust="spacingAndGlyphs">0.2</text>
<line x1="854.9" y1="1201.6" x2="1177.7" y2="1201.6" stroke="#d9d9d9" stroke-width="0.7" stroke-dasharray="1.2 1.2"/>
<line x1="852.9" y1="1201.6" x2="854.9" y2="1201.6" stroke="#999" stroke-width="0.7"/>
<text x="850.30" y="1204.80" font-family="'DejaVu Sans Condensed', 'DejaVu Sans', sans-serif" font-size="9.2" fill="#444" text-anchor="end" textLength="13.00" lengthAdjust="spacingAndGlyphs">0.1</text>
<line x1="854.9" y1="1221.6" x2="1177.7" y2="1221.6" stroke="#bdbdbd" stroke-width="1"/>
<line x1="852.9" y1="1221.6" x2="854.9" y2="1221.6" stroke="#999" stroke-width="0.7"/>
<text x="850.30" y="1224.80" font-family="'DejaVu Sans Condensed', 'DejaVu Sans', sans-serif" font-size="9.2" fill="#444" text-anchor="end" textLength="13.00" lengthAdjust="spacingAndGlyphs">0.0</text>
<line x1="854.9" y1="1302.4" x2="1177.7" y2="1302.4" stroke="#d9d9d9" stroke-width="0.7" stroke-dasharray="1.2 1.2"/>
<text x="850.50" y="1305.60" font-family="'DejaVu Sans Condensed', 'DejaVu Sans', sans-serif" font-size="9.2" fill="#333" text-anchor="end" textLength="4.60" lengthAdjust="spacingAndGlyphs">4</text>
<line x1="854.9" y1="1321.8" x2="1177.7" y2="1321.8" stroke="#d9d9d9" stroke-width="0.7" stroke-dasharray="1.2 1.2"/>
<text x="850.50" y="1325.00" font-family="'DejaVu Sans Condensed', 'DejaVu Sans', sans-serif" font-size="9.2" fill="#333" text-anchor="end" textLength="4.60" lengthAdjust="spacingAndGlyphs">2</text>
<line x1="854.9" y1="1340.9" x2="1177.7" y2="1340.9" stroke="#d9d9d9" stroke-width="0.7" stroke-dasharray="1.2 1.2"/>
<text x="850.50" y="1344.10" font-family="'DejaVu Sans Condensed', 'DejaVu Sans', sans-serif" font-size="9.2" fill="#333" text-anchor="end" textLength="4.60" lengthAdjust="spacingAndGlyphs">0</text>
<line x1="854.9" y1="1360.6" x2="1177.7" y2="1360.6" stroke="#d9d9d9" stroke-width="0.7" stroke-dasharray="1.2 1.2"/>
<text x="850.50" y="1363.80" font-family="'DejaVu Sans Condensed', 'DejaVu Sans', sans-serif" font-size="9.2" fill="#333" text-anchor="end" textLength="7.60" lengthAdjust="spacingAndGlyphs">-2</text>
<line x1="854.9" y1="1379.6" x2="1177.7" y2="1379.6" stroke="#d9d9d9" stroke-width="0.7" stroke-dasharray="1.2 1.2"/>
<text x="850.50" y="1382.80" font-family="'DejaVu Sans Condensed', 'DejaVu Sans', sans-serif" font-size="9.2" fill="#333" text-anchor="end" textLength="7.60" lengthAdjust="spacingAndGlyphs">-4</text>
<rect x="854.9" y="1084.3" width="322.8" height="144.5" fill="none" stroke="#c8c8c8" stroke-width="0.8"/>
<rect x="854.9" y="1228.8" width="322.8" height="48.2" fill="none" stroke="#c8c8c8" stroke-width="0.8"/>
<rect x="854.9" y="1277.0" width="322.8" height="12.6" fill="none" stroke="#c8c8c8" stroke-width="0.8"/>
<rect x="854.9" y="1289.6" width="322.8" height="96.8" fill="none" stroke="#c8c8c8" stroke-width="0.8"/>
<line x1="854.9" y1="1289.6" x2="854.9" y2="1386.4" stroke="#8a8a8a" stroke-width="0.8"/>
<line x1="854.9" y1="1386.4" x2="1177.7" y2="1386.4" stroke="#8a8a8a" stroke-width="0.8"/>
<rect x="854.9" y="1277.4" width="15.9" height="12.0" fill="#d42222"/>
<rect x="870.6" y="1277.4" width="54.7" height="12.0" fill="#f45252"/>
<rect x="924.9" y="1277.4" width="26.0" height="12.0" fill="#fa7a80"/>
<rect x="950.7" y="1277.4" width="108.4" height="12.0" fill="#fdbde2"/>
<rect x="1058.8" y="1277.4" width="59.0" height="12.0" fill="#d3d2fb"/>
<rect x="1117.5" y="1277.4" width="5.6" height="12.0" fill="#8c8af6"/>
<rect x="1122.9" y="1277.4" width="32.1" height="12.0" fill="#6b5aea"/>
<rect x="1154.7" y="1277.4" width="7.5" height="12.0" fill="#2b0ac9"/>
<rect x="855.3" y="1230.7" width="1.9" height="46.3" fill="#222"/>
<path d="M858.0 1230.7V1289.3M858.7 1230.7V1289.3M859.7 1230.7V1289.3M860.5 1230.7V1289.3M861.2 1230.7V1289.3M862.2 1230.7V1289.3M862.9 1230.7V1289.3M863.9 1230.7V1289.3M864.8 1230.7V1289.3M865.6 1230.7V1289.3M870.9 1230.7V1289.3M871.7 1230.7V1289.3M872.7 1230.7V1289.3M873.6 1230.7V1289.3M874.4 1230.7V1289.3M876.7 1230.7V1289.3M877.4 1230.7V1289.3M878.4 1230.7V1289.3M879.3 1230.7V1289.3M880.3 1230.7V1289.3M881.2 1230.7V1289.3M882.2 1230.7V1289.3M883.1 1230.7V1289.3M883.9 1230.7V1289.3M887.0 1230.7V1289.3M888.1 1230.7V1289.3M889.3 1230.7V1289.3M890.2 1230.7V1289.3M891.3 1230.7V1289.3M892.7 1230.7V1289.3M893.8 1230.7V1289.3M895.4 1230.7V1289.3M896.5 1230.7V1289.3M897.6 1230.7V1289.3M898.6 1230.7V1289.3M904.5 1230.7V1289.3M905.5 1230.7V1289.3M907.2 1230.7V1289.3M914.6 1230.7V1289.3M915.6 1230.7V1289.3M916.5 1230.7V1289.3M917.7 1230.7V1289.3M918.8 1230.7V1289.3M920.0 1230.7V1289.3M920.9 1230.7V1289.3M921.9 1230.7V1289.3M925.5 1230.7V1289.3M926.4 1230.7V1289.3M927.4 1230.7V1289.3M928.3 1230.7V1289.3M929.5 1230.7V1289.3M930.6 1230.7V1289.3M931.6 1230.7V1289.3M934.6 1230.7V1289.3M935.8 1230.7V1289.3M937.3 1230.7V1289.3M940.6 1230.7V1289.3M944.2 1230.7V1289.3M945.3 1230.7V1289.3M946.8 1230.7V1289.3M948.6 1230.7V1289.3M954.1 1230.7V1289.3M955.0 1230.7V1289.3M956.4 1230.7V1289.3M957.3 1230.7V1289.3M960.4 1230.7V1289.3M961.3 1230.7V1289.3M962.3 1230.7V1289.3M963.2 1230.7V1289.3M1055.6 1230.7V1289.3M1058.4 1230.7V1289.3M1059.7 1230.7V1289.3M1061.3 1230.7V1289.3M1062.6 1230.7V1289.3M1063.8 1230.7V1289.3M1065.1 1230.7V1289.3M1070.8 1230.7V1289.3M1075.6 1230.7V1289.3M1077.5 1230.7V1289.3M1084.7 1230.7V1289.3M1086.1 1230.7V1289.3M1089.9 1230.7V1289.3M1093.1 1230.7V1289.3M1100.4 1230.7V1289.3M1105.5 1230.7V1289.3M1128.4 1230.7V1289.3M1132.4 1230.7V1289.3M1135.3 1230.7V1289.3" stroke="#000" stroke-width="0.75" opacity=".16" fill="none"/>
<path d="M858.0 1230.7V1277.0M858.7 1230.7V1277.0M859.7 1230.7V1277.0M860.5 1230.7V1277.0M861.2 1230.7V1277.0M862.2 1230.7V1277.0M862.9 1230.7V1277.0M863.9 1230.7V1277.0M864.8 1230.7V1277.0M865.6 1230.7V1277.0M870.9 1230.7V1277.0M871.7 1230.7V1277.0M872.7 1230.7V1277.0M873.6 1230.7V1277.0M874.4 1230.7V1277.0M876.7 1230.7V1277.0M877.4 1230.7V1277.0M878.4 1230.7V1277.0M879.3 1230.7V1277.0M880.3 1230.7V1277.0M881.2 1230.7V1277.0M882.2 1230.7V1277.0M883.1 1230.7V1277.0M883.9 1230.7V1277.0M887.0 1230.7V1277.0M888.1 1230.7V1277.0M889.3 1230.7V1277.0M890.2 1230.7V1277.0M891.3 1230.7V1277.0M892.7 1230.7V1277.0M893.8 1230.7V1277.0M895.4 1230.7V1277.0M896.5 1230.7V1277.0M897.6 1230.7V1277.0M898.6 1230.7V1277.0M904.5 1230.7V1277.0M905.5 1230.7V1277.0M907.2 1230.7V1277.0M914.6 1230.7V1277.0M915.6 1230.7V1277.0M916.5 1230.7V1277.0M917.7 1230.7V1277.0M918.8 1230.7V1277.0M920.0 1230.7V1277.0M920.9 1230.7V1277.0M921.9 1230.7V1277.0M925.5 1230.7V1277.0M926.4 1230.7V1277.0M927.4 1230.7V1277.0M928.3 1230.7V1277.0M929.5 1230.7V1277.0M930.6 1230.7V1277.0M931.6 1230.7V1277.0M934.6 1230.7V1277.0M935.8 1230.7V1277.0M937.3 1230.7V1277.0M940.6 1230.7V1277.0M944.2 1230.7V1277.0M945.3 1230.7V1277.0M946.8 1230.7V1277.0M948.6 1230.7V1277.0M954.1 1230.7V1277.0M955.0 1230.7V1277.0M956.4 1230.7V1277.0M957.3 1230.7V1277.0M960.4 1230.7V1277.0M961.3 1230.7V1277.0M962.3 1230.7V1277.0M963.2 1230.7V1277.0M1055.6 1230.7V1277.0M1058.4 1230.7V1277.0M1059.7 1230.7V1277.0M1061.3 1230.7V1277.0M1062.6 1230.7V1277.0M1063.8 1230.7V1277.0M1065.1 1230.7V1277.0M1070.8 1230.7V1277.0M1075.6 1230.7V1277.0M1077.5 1230.7V1277.0M1084.7 1230.7V1277.0M1086.1 1230.7V1277.0M1089.9 1230.7V1277.0M1093.1 1230.7V1277.0M1100.4 1230.7V1277.0M1105.5 1230.7V1277.0M1128.4 1230.7V1277.0M1132.4 1230.7V1277.0M1135.3 1230.7V1277.0" stroke="#0a0a0a" stroke-width="0.8" opacity=".9" fill="none"/>
<path d="M854.9 1316.7 L856.2 1321.8 L860.0 1326.9 L867.7 1329.8 L881.0 1332.3 L900.0 1334.9 L919.0 1336.5 L930.5 1337.8 L947.7 1339.8 L962.9 1340.9 L854.9 1341.5Z" fill="#bcbcbc"/>
<path d="M1057.2 1340.9 L1071.5 1342.3 L1090.5 1344.0 L1109.5 1345.1 L1128.7 1346.5 L1143.9 1348.9 L1153.4 1352.0 L1159.1 1356.9 L1161.0 1361.9 L1162.0 1370.0 L1162.3 1381.0 L1162.3 1340.3 L1057.2 1340.3Z" fill="#bcbcbc"/>
<line x1="963.4" y1="1293.6" x2="963.4" y2="1386.4" stroke="#b4b4b4" stroke-width="0.8" stroke-dasharray="2.4 1.8"/>
<text x="963.40" y="1340.40" font-family="'DejaVu Sans Condensed', 'DejaVu Sans', sans-serif" font-size="7.0" fill="#444" text-anchor="middle" textLength="62.90" lengthAdjust="spacing">Zero cross at 9360</text>
<text x="857.50" y="1297.00" font-family="'DejaVu Sans Condensed', 'DejaVu Sans', sans-serif" font-size="7.8" fill="#ff3a3a" textLength="107.00" lengthAdjust="spacingAndGlyphs">'ClassA' (positively correlated)</text>
<text x="1126.30" y="1383.00" font-family="'DejaVu Sans Condensed', 'DejaVu Sans', sans-serif" font-size="7.8" fill="#4a4aff" text-anchor="end" textLength="109.80" lengthAdjust="spacingAndGlyphs">'ClassB' (negatively correlated)</text>
<text x="854.90" y="1397.50" font-family="'DejaVu Sans Condensed', 'DejaVu Sans', sans-serif" font-size="9.2" fill="#333" text-anchor="middle" textLength="4.60" lengthAdjust="spacingAndGlyphs">0</text>
<line x1="912.5" y1="1386.4" x2="912.5" y2="1388.2" stroke="#8a8a8a" stroke-width="0.7"/>
<text x="912.50" y="1397.50" font-family="'DejaVu Sans Condensed', 'DejaVu Sans', sans-serif" font-size="9.2" fill="#333" text-anchor="middle" textLength="19.50" lengthAdjust="spacingAndGlyphs">5,000</text>
<line x1="970.7" y1="1386.4" x2="970.7" y2="1388.2" stroke="#8a8a8a" stroke-width="0.7"/>
<text x="970.70" y="1397.50" font-family="'DejaVu Sans Condensed', 'DejaVu Sans', sans-serif" font-size="9.2" fill="#333" text-anchor="middle" textLength="23.80" lengthAdjust="spacingAndGlyphs">10,000</text>
<line x1="1028.5" y1="1386.4" x2="1028.5" y2="1388.2" stroke="#8a8a8a" stroke-width="0.7"/>
<text x="1028.50" y="1397.50" font-family="'DejaVu Sans Condensed', 'DejaVu Sans', sans-serif" font-size="9.2" fill="#333" text-anchor="middle" textLength="23.80" lengthAdjust="spacingAndGlyphs">15,000</text>
<line x1="1086.4" y1="1386.4" x2="1086.4" y2="1388.2" stroke="#8a8a8a" stroke-width="0.7"/>
<text x="1086.40" y="1397.50" font-family="'DejaVu Sans Condensed', 'DejaVu Sans', sans-serif" font-size="9.2" fill="#333" text-anchor="middle" textLength="23.80" lengthAdjust="spacingAndGlyphs">20,000</text>
<line x1="1145.2" y1="1386.4" x2="1145.2" y2="1388.2" stroke="#8a8a8a" stroke-width="0.7"/>
<text x="1145.20" y="1397.50" font-family="'DejaVu Sans Condensed', 'DejaVu Sans', sans-serif" font-size="9.2" fill="#333" text-anchor="middle" textLength="23.80" lengthAdjust="spacingAndGlyphs">25,000</text>
<text x="1016.30" y="1409.30" font-family="'DejaVu Sans Condensed', 'DejaVu Sans', sans-serif" font-size="9.1" fill="#111" text-anchor="middle" textLength="106.80" lengthAdjust="spacingAndGlyphs">Rank in Ordered Dataset</text>
<text transform="translate(830.5 1156.5) rotate(-90)" font-family="'DejaVu Sans', sans-serif" font-size="10.6" font-weight="bold" fill="#222" text-anchor="middle" textLength="115.8" lengthAdjust="spacingAndGlyphs">Enrichment score (ES)</text>
<text transform="translate(835.6 1336.3) rotate(-90)" font-family="'DejaVu Sans Condensed', 'DejaVu Sans', sans-serif" font-size="9.1" fill="#111" text-anchor="middle" textLength="142" lengthAdjust="spacingAndGlyphs">Ranked list metric (Signal2Noise)</text>
<path d="M855.3 1221.6 L855.9 1208.3 L856.6 1196.8 L857.2 1187.3 L859.1 1183.5 L860.1 1174.9 L862.0 1170.1 L863.5 1163.5 L863.9 1153.0 L865.4 1149.2 L870.6 1153.6 L872.1 1139.6 L874.4 1133.9 L876.3 1133.0 L877.2 1128.2 L879.7 1124.4 L881.1 1116.7 L882.4 1114.8 L883.9 1108.7 L886.8 1108.2 L888.7 1109.5 L890.6 1101.5 L892.5 1099.2 L894.8 1099.2 L897.3 1095.8 L899.2 1093.9 L903.9 1096.7 L905.8 1093.5 L908.7 1093.9 L914.4 1097.3 L919.2 1094.2 L922.1 1093.5 L925.3 1095.4 L928.7 1092.3 L932.5 1090.4 L937.3 1091.6 L941.1 1092.9 L947.8 1095.8 L956.4 1100.0 L962.1 1103.4 L971.6 1109.5 L990.7 1121.5 L1009.8 1133.3 L1028.9 1145.4 L1047.9 1157.8 L1060.3 1168.2 L1067.0 1172.1 L1074.6 1175.9 L1086.1 1181.6 L1093.7 1184.8 L1100.4 1188.6 L1106.1 1190.6 L1114.7 1195.9 L1124.2 1201.6 L1128.0 1204.5 L1132.8 1205.4 L1135.6 1203.5 L1143.3 1209.8 L1162.3 1221.6" fill="none" stroke="#00ff00" stroke-width="2.0" stroke-linejoin="round" stroke-linecap="round"/>
<text x="997.70" y="1076.90" font-family="'DejaVu Sans', sans-serif" font-size="12.3" fill="#000" font-weight="bold" text-anchor="middle" textLength="212.30" lengthAdjust="spacingAndGlyphs">Enrichment plot: MORF_DNMT1</text>
<rect x="867.3" y="1417.1" width="260.9" height="17.0" fill="#fff" stroke="#000" stroke-width="0.9"/>
<line x1="869.6" y1="1425.7" x2="881.1" y2="1425.7" stroke="#00ff00" stroke-width="1.4"/>
<text x="883.50" y="1429.00" font-family="'DejaVu Sans Condensed', 'DejaVu Sans', sans-serif" font-size="9.1" fill="#111" textLength="77.20" lengthAdjust="spacingAndGlyphs">Enrichment profile</text>
<line x1="965.5" y1="1425.7" x2="976.0" y2="1425.7" stroke="#333" stroke-width="0.8"/>
<text x="978.90" y="1429.00" font-family="'DejaVu Sans Condensed', 'DejaVu Sans', sans-serif" font-size="9.1" fill="#111" textLength="16.20" lengthAdjust="spacingAndGlyphs">Hits</text>
<line x1="1017.0" y1="1425.7" x2="1027.5" y2="1425.7" stroke="#c4c4c4" stroke-width="0.8"/>
<text x="1031.00" y="1429.00" font-family="'DejaVu Sans Condensed', 'DejaVu Sans', sans-serif" font-size="9.1" fill="#111" textLength="93.80" lengthAdjust="spacingAndGlyphs">Ranking metric scores</text>
</g>
<g filter="url(#gs)">
<rect x="1669.9" y="213.6" width="371.3" height="371.0" fill="#f2f2f2"/>
<rect x="1712.2" y="250.0" width="323.4" height="286.1" fill="#fff"/>
<line x1="1770.0" y1="250.0" x2="1770.0" y2="387.7" stroke="#d9d9d9" stroke-width="0.7" stroke-dasharray="1.2 1.2"/>
<line x1="1770.0" y1="444.6" x2="1770.0" y2="536.1" stroke="#d9d9d9" stroke-width="0.7" stroke-dasharray="1.2 1.2"/>
<line x1="1827.6" y1="250.0" x2="1827.6" y2="387.7" stroke="#d9d9d9" stroke-width="0.7" stroke-dasharray="1.2 1.2"/>
<line x1="1827.6" y1="444.6" x2="1827.6" y2="536.1" stroke="#d9d9d9" stroke-width="0.7" stroke-dasharray="1.2 1.2"/>
<line x1="1885.4" y1="250.0" x2="1885.4" y2="387.7" stroke="#d9d9d9" stroke-width="0.7" stroke-dasharray="1.2 1.2"/>
<line x1="1885.4" y1="444.6" x2="1885.4" y2="536.1" stroke="#d9d9d9" stroke-width="0.7" stroke-dasharray="1.2 1.2"/>
<line x1="1943.5" y1="250.0" x2="1943.5" y2="387.7" stroke="#d9d9d9" stroke-width="0.7" stroke-dasharray="1.2 1.2"/>
<line x1="1943.5" y1="444.6" x2="1943.5" y2="536.1" stroke="#d9d9d9" stroke-width="0.7" stroke-dasharray="1.2 1.2"/>
<line x1="2002.5" y1="250.0" x2="2002.5" y2="387.7" stroke="#d9d9d9" stroke-width="0.7" stroke-dasharray="1.2 1.2"/>
<line x1="2002.5" y1="444.6" x2="2002.5" y2="536.1" stroke="#d9d9d9" stroke-width="0.7" stroke-dasharray="1.2 1.2"/>
<line x1="1712.2" y1="261.8" x2="2035.6" y2="261.8" stroke="#d9d9d9" stroke-width="0.7" stroke-dasharray="1.2 1.2"/>
<line x1="1710.2" y1="261.8" x2="1712.2" y2="261.8" stroke="#999" stroke-width="0.7"/>
<text x="1707.60" y="265.00" font-family="'DejaVu Sans Condensed', 'DejaVu Sans', sans-serif" font-size="9.2" fill="#444" text-anchor="end" textLength="13.00" lengthAdjust="spacingAndGlyphs">0.6</text>
<line x1="1712.2" y1="280.7" x2="2035.6" y2="280.7" stroke="#d9d9d9" stroke-width="0.7" stroke-dasharray="1.2 1.2"/>
<line x1="1710.2" y1="280.7" x2="1712.2" y2="280.7" stroke="#999" stroke-width="0.7"/>
<text x="1707.60" y="283.90" font-family="'DejaVu Sans Condensed', 'DejaVu Sans', sans-serif" font-size="9.2" fill="#444" text-anchor="end" textLength="13.00" lengthAdjust="spacingAndGlyphs">0.5</text>
<line x1="1712.2" y1="299.4" x2="2035.6" y2="299.4" stroke="#d9d9d9" stroke-width="0.7" stroke-dasharray="1.2 1.2"/>
<line x1="1710.2" y1="299.4" x2="1712.2" y2="299.4" stroke="#999" stroke-width="0.7"/>
<text x="1707.60" y="302.60" font-family="'DejaVu Sans Condensed', 'DejaVu Sans', sans-serif" font-size="9.2" fill="#444" text-anchor="end" textLength="13.00" lengthAdjust="spacingAndGlyphs">0.4</text>
<line x1="1712.2" y1="318.5" x2="2035.6" y2="318.5" stroke="#d9d9d9" stroke-width="0.7" stroke-dasharray="1.2 1.2"/>
<line x1="1710.2" y1="318.5" x2="1712.2" y2="318.5" stroke="#999" stroke-width="0.7"/>
<text x="1707.60" y="321.70" font-family="'DejaVu Sans Condensed', 'DejaVu Sans', sans-serif" font-size="9.2" fill="#444" text-anchor="end" textLength="13.00" lengthAdjust="spacingAndGlyphs">0.3</text>
<line x1="1712.2" y1="337.5" x2="2035.6" y2="337.5" stroke="#d9d9d9" stroke-width="0.7" stroke-dasharray="1.2 1.2"/>
<line x1="1710.2" y1="337.5" x2="1712.2" y2="337.5" stroke="#999" stroke-width="0.7"/>
<text x="1707.60" y="340.70" font-family="'DejaVu Sans Condensed', 'DejaVu Sans', sans-serif" font-size="9.2" fill="#444" text-anchor="end" textLength="13.00" lengthAdjust="spacingAndGlyphs">0.2</text>
<line x1="1712.2" y1="356.2" x2="2035.6" y2="356.2" stroke="#d9d9d9" stroke-width="0.7" stroke-dasharray="1.2 1.2"/>
<line x1="1710.2" y1="356.2" x2="1712.2" y2="356.2" stroke="#999" stroke-width="0.7"/>
<text x="1707.60" y="359.40" font-family="'DejaVu Sans Condensed', 'DejaVu Sans', sans-serif" font-size="9.2" fill="#444" text-anchor="end" textLength="13.00" lengthAdjust="spacingAndGlyphs">0.1</text>
<line x1="1712.2" y1="374.7" x2="2035.6" y2="374.7" stroke="#bdbdbd" stroke-width="1"/>
<line x1="1710.2" y1="374.7" x2="1712.2" y2="374.7" stroke="#999" stroke-width="0.7"/>
<text x="1707.60" y="377.90" font-family="'DejaVu Sans Condensed', 'DejaVu Sans', sans-serif" font-size="9.2" fill="#444" text-anchor="end" textLength="13.00" lengthAdjust="spacingAndGlyphs">0.0</text>
<line x1="1712.2" y1="456.8" x2="2035.6" y2="456.8" stroke="#d9d9d9" stroke-width="0.7" stroke-dasharray="1.2 1.2"/>
<text x="1707.80" y="460.00" font-family="'DejaVu Sans Condensed', 'DejaVu Sans', sans-serif" font-size="9.2" fill="#333" text-anchor="end" textLength="4.60" lengthAdjust="spacingAndGlyphs">4</text>
<line x1="1712.2" y1="473.6" x2="2035.6" y2="473.6" stroke="#d9d9d9" stroke-width="0.7" stroke-dasharray="1.2 1.2"/>
<text x="1707.80" y="476.80" font-family="'DejaVu Sans Condensed', 'DejaVu Sans', sans-serif" font-size="9.2" fill="#333" text-anchor="end" textLength="4.60" lengthAdjust="spacingAndGlyphs">2</text>
<line x1="1712.2" y1="490.1" x2="2035.6" y2="490.1" stroke="#d9d9d9" stroke-width="0.7" stroke-dasharray="1.2 1.2"/>
<text x="1707.80" y="493.30" font-family="'DejaVu Sans Condensed', 'DejaVu Sans', sans-serif" font-size="9.2" fill="#333" text-anchor="end" textLength="4.60" lengthAdjust="spacingAndGlyphs">0</text>
<line x1="1712.2" y1="506.7" x2="2035.6" y2="506.7" stroke="#d9d9d9" stroke-width="0.7" stroke-dasharray="1.2 1.2"/>
<text x="1707.80" y="509.90" font-family="'DejaVu Sans Condensed', 'DejaVu Sans', sans-serif" font-size="9.2" fill="#333" text-anchor="end" textLength="7.60" lengthAdjust="spacingAndGlyphs">-2</text>
<line x1="1712.2" y1="523.5" x2="2035.6" y2="523.5" stroke="#d9d9d9" stroke-width="0.7" stroke-dasharray="1.2 1.2"/>
<text x="1707.80" y="526.70" font-family="'DejaVu Sans Condensed', 'DejaVu Sans', sans-serif" font-size="9.2" fill="#333" text-anchor="end" textLength="7.60" lengthAdjust="spacingAndGlyphs">-4</text>
<rect x="1712.2" y="250.0" width="323.4" height="137.7" fill="none" stroke="#c8c8c8" stroke-width="0.8"/>
<rect x="1712.2" y="387.7" width="323.4" height="45.1" fill="none" stroke="#c8c8c8" stroke-width="0.8"/>
<rect x="1712.2" y="432.8" width="323.4" height="11.8" fill="none" stroke="#c8c8c8" stroke-width="0.8"/>
<rect x="1712.2" y="444.6" width="323.4" height="91.5" fill="none" stroke="#c8c8c8" stroke-width="0.8"/>
<line x1="1712.2" y1="444.6" x2="1712.2" y2="536.1" stroke="#8a8a8a" stroke-width="0.8"/>
<line x1="1712.2" y1="536.1" x2="2035.6" y2="536.1" stroke="#8a8a8a" stroke-width="0.8"/>
<rect x="1712.2" y="433.2" width="7.0" height="11.2" fill="#d42222"/>
<rect x="1718.9" y="433.2" width="57.5" height="11.2" fill="#f45252"/>
<rect x="1776.1" y="433.2" width="28.9" height="11.2" fill="#fa7a80"/>
<rect x="1804.7" y="433.2" width="109.4" height="11.2" fill="#fdbde2"/>
<rect x="1913.8" y="433.2" width="61.5" height="11.2" fill="#d3d2fb"/>
<rect x="1975.0" y="433.2" width="9.8" height="11.2" fill="#8c8af6"/>
<rect x="1984.5" y="433.2" width="24.5" height="11.2" fill="#6b5aea"/>
<rect x="2008.8" y="433.2" width="11.4" height="11.2" fill="#2b0ac9"/>
<rect x="1712.4" y="389.6" width="5.5" height="43.2" fill="#222"/>
<path d="M1721.7 389.6V444.3M1723.1 389.6V444.3M1727.5 389.6V444.3M1729.4 389.6V444.3M1730.1 389.6V444.3M1730.9 389.6V444.3M1731.7 389.6V444.3M1733.2 389.6V444.3M1734.7 389.6V444.3M1738.0 389.6V444.3M1745.6 389.6V444.3M1747.5 389.6V444.3M1748.3 389.6V444.3M1749.0 389.6V444.3M1750.4 389.6V444.3M1755.7 389.6V444.3M1768.5 389.6V444.3M1775.7 389.6V444.3M1778.6 389.6V444.3M1790.0 389.6V444.3M1790.8 389.6V444.3M1793.6 389.6V444.3M1816.7 389.6V444.3M1908.6 389.6V444.3M1916.5 389.6V444.3M1916.8 389.6V444.3M1922.4 389.6V444.3M1927.3 389.6V444.3M1947.7 389.6V444.3M1951.2 389.6V444.3M1959.6 389.6V444.3M1963.0 389.6V444.3M1968.7 389.6V444.3M1969.7 389.6V444.3M1970.2 389.6V444.3M1979.2 389.6V444.3M1991.6 389.6V444.3M1995.4 389.6V444.3M1998.3 389.6V444.3M2015.4 389.6V444.3" stroke="#000" stroke-width="0.75" opacity=".16" fill="none"/>
<path d="M1721.7 389.6V432.8M1723.1 389.6V432.8M1727.5 389.6V432.8M1729.4 389.6V432.8M1730.1 389.6V432.8M1730.9 389.6V432.8M1731.7 389.6V432.8M1733.2 389.6V432.8M1734.7 389.6V432.8M1738.0 389.6V432.8M1745.6 389.6V432.8M1747.5 389.6V432.8M1748.3 389.6V432.8M1749.0 389.6V432.8M1750.4 389.6V432.8M1755.7 389.6V432.8M1768.5 389.6V432.8M1775.7 389.6V432.8M1778.6 389.6V432.8M1790.0 389.6V432.8M1790.8 389.6V432.8M1793.6 389.6V432.8M1816.7 389.6V432.8M1908.6 389.6V432.8M1916.5 389.6V432.8M1916.8 389.6V432.8M1922.4 389.6V432.8M1927.3 389.6V432.8M1947.7 389.6V432.8M1951.2 389.6V432.8M1959.6 389.6V432.8M1963.0 389.6V432.8M1968.7 389.6V432.8M1969.7 389.6V432.8M1970.2 389.6V432.8M1979.2 389.6V432.8M1991.6 389.6V432.8M1995.4 389.6V432.8M1998.3 389.6V432.8M2015.4 389.6V432.8" stroke="#0a0a0a" stroke-width="0.8" opacity=".9" fill="none"/>
<path d="M1712.2 459.9 L1713.2 465.6 L1716.0 471.2 L1721.7 475.0 L1731.3 477.8 L1750.3 481.6 L1769.4 484.4 L1788.5 486.7 L1803.7 488.2 L1817.1 490.1 L1712.2 490.7Z" fill="#bcbcbc"/>
<path d="M1912.4 490.1 L1931.5 492.0 L1950.6 493.9 L1969.6 496.1 L1988.7 499.5 L2002.1 504.2 L2011.6 510.8 L2016.4 518.4 L2018.8 525.9 L2019.8 531.6 L2019.8 489.5 L1912.4 489.5Z" fill="#bcbcbc"/>
<line x1="1817.5" y1="448.6" x2="1817.5" y2="536.1" stroke="#b4b4b4" stroke-width="0.8" stroke-dasharray="2.4 1.8"/>
<text x="1817.50" y="493.10" font-family="'DejaVu Sans Condensed', 'DejaVu Sans', sans-serif" font-size="7.0" fill="#444" text-anchor="middle" textLength="62.90" lengthAdjust="spacing">Zero cross at 9099</text>
<text x="1714.80" y="452.00" font-family="'DejaVu Sans Condensed', 'DejaVu Sans', sans-serif" font-size="7.8" fill="#ff3a3a" textLength="107.00" lengthAdjust="spacingAndGlyphs">'ClassA' (positively correlated)</text>
<text x="1984.20" y="532.70" font-family="'DejaVu Sans Condensed', 'DejaVu Sans', sans-serif" font-size="7.8" fill="#4a4aff" text-anchor="end" textLength="109.80" lengthAdjust="spacingAndGlyphs">'ClassB' (negatively correlated)</text>
<text x="1712.20" y="547.40" font-family="'DejaVu Sans Condensed', 'DejaVu Sans', sans-serif" font-size="9.2" fill="#333" text-anchor="middle" textLength="4.60" lengthAdjust="spacingAndGlyphs">0</text>
<line x1="1770.0" y1="536.1" x2="1770.0" y2="537.9" stroke="#8a8a8a" stroke-width="0.7"/>
<text x="1770.00" y="547.40" font-family="'DejaVu Sans Condensed', 'DejaVu Sans', sans-serif" font-size="9.2" fill="#333" text-anchor="middle" textLength="19.50" lengthAdjust="spacingAndGlyphs">5,000</text>
<line x1="1827.6" y1="536.1" x2="1827.6" y2="537.9" stroke="#8a8a8a" stroke-width="0.7"/>
<text x="1827.60" y="547.40" font-family="'DejaVu Sans Condensed', 'DejaVu Sans', sans-serif" font-size="9.2" fill="#333" text-anchor="middle" textLength="23.80" lengthAdjust="spacingAndGlyphs">10,000</text>
<line x1="1885.4" y1="536.1" x2="1885.4" y2="537.9" stroke="#8a8a8a" stroke-width="0.7"/>
<text x="1885.40" y="547.40" font-family="'DejaVu Sans Condensed', 'DejaVu Sans', sans-serif" font-size="9.2" fill="#333" text-anchor="middle" textLength="23.80" lengthAdjust="spacingAndGlyphs">15,000</text>
<line x1="1943.5" y1="536.1" x2="1943.5" y2="537.9" stroke="#8a8a8a" stroke-width="0.7"/>
<text x="1943.50" y="547.40" font-family="'DejaVu Sans Condensed', 'DejaVu Sans', sans-serif" font-size="9.2" fill="#333" text-anchor="middle" textLength="23.80" lengthAdjust="spacingAndGlyphs">20,000</text>
<line x1="2002.5" y1="536.1" x2="2002.5" y2="537.9" stroke="#8a8a8a" stroke-width="0.7"/>
<text x="2002.50" y="547.40" font-family="'DejaVu Sans Condensed', 'DejaVu Sans', sans-serif" font-size="9.2" fill="#333" text-anchor="middle" textLength="23.80" lengthAdjust="spacingAndGlyphs">25,000</text>
<text x="1873.90" y="558.50" font-family="'DejaVu Sans Condensed', 'DejaVu Sans', sans-serif" font-size="9.1" fill="#111" text-anchor="middle" textLength="106.80" lengthAdjust="spacingAndGlyphs">Rank in Ordered Dataset</text>
<text transform="translate(1688.4 318.9) rotate(-90)" font-family="'DejaVu Sans', sans-serif" font-size="10.6" font-weight="bold" fill="#222" text-anchor="middle" textLength="115.8" lengthAdjust="spacingAndGlyphs">Enrichment score (ES)</text>
<text transform="translate(1693.5 488.7) rotate(-90)" font-family="'DejaVu Sans Condensed', 'DejaVu Sans', sans-serif" font-size="9.1" fill="#111" text-anchor="middle" textLength="142" lengthAdjust="spacingAndGlyphs">Ranked list metric (Signal2Noise)</text>
<path d="M1712.8 374.7 L1712.8 364.2 L1713.5 346.1 L1714.5 338.5 L1715.1 330.9 L1715.6 324.2 L1716.0 317.5 L1716.6 304.2 L1717.4 292.3 L1718.5 286.6 L1721.7 288.5 L1722.7 283.6 L1724.0 279.8 L1727.5 282.6 L1728.4 278.0 L1730.3 275.6 L1731.3 269.8 L1733.2 266.4 L1735.1 262.8 L1737.4 264.1 L1738.3 261.6 L1745.6 266.0 L1747.5 264.5 L1748.4 259.7 L1750.9 256.1 L1754.2 258.0 L1755.5 256.5 L1768.5 264.1 L1769.4 261.6 L1775.5 265.6 L1779.0 265.5 L1789.4 271.7 L1793.3 271.4 L1797.1 273.1 L1807.6 279.8 L1826.6 291.4 L1845.7 302.6 L1864.8 314.1 L1883.9 326.1 L1902.9 338.5 L1912.5 344.2 L1927.7 352.2 L1941.1 360.4 L1946.8 363.7 L1951.6 364.6 L1959.2 368.6 L1963.0 368.1 L1968.7 370.9 L1971.0 368.4 L1979.2 372.8 L1980.5 371.5 L1991.0 378.2 L1994.8 373.4 L1996.4 375.7 L1998.8 370.9 L2015.4 381.0 L2016.0 372.8 L2019.8 374.7" fill="none" stroke="#00ff00" stroke-width="2.0" stroke-linejoin="round" stroke-linecap="round"/>
<text x="1853.60" y="227.00" font-family="'DejaVu Sans', sans-serif" font-size="12.3" fill="#000" font-weight="bold" text-anchor="middle" textLength="113.50" lengthAdjust="spacingAndGlyphs">Enrichment plot:</text>
<text x="1855.50" y="243.40" font-family="'DejaVu Sans', sans-serif" font-size="12.3" fill="#000" font-weight="bold" text-anchor="middle" textLength="299.20" lengthAdjust="spacingAndGlyphs">CORDENONSI_YAP_CONSERVED_SIGNATURE</text>
<rect x="1725.2" y="567.0" width="260.9" height="17.0" fill="#fff" stroke="#000" stroke-width="0.9"/>
<line x1="1727.5" y1="575.6" x2="1739.0" y2="575.6" stroke="#00ff00" stroke-width="1.4"/>
<text x="1741.40" y="578.90" font-family="'DejaVu Sans Condensed', 'DejaVu Sans', sans-serif" font-size="9.1" fill="#111" textLength="77.20" lengthAdjust="spacingAndGlyphs">Enrichment profile</text>
<line x1="1823.4" y1="575.6" x2="1833.9" y2="575.6" stroke="#333" stroke-width="0.8"/>
<text x="1836.80" y="578.90" font-family="'DejaVu Sans Condensed', 'DejaVu Sans', sans-serif" font-size="9.1" fill="#111" textLength="16.20" lengthAdjust="spacingAndGlyphs">Hits</text>
<line x1="1874.9" y1="575.6" x2="1885.4" y2="575.6" stroke="#c4c4c4" stroke-width="0.8"/>
<text x="1888.90" y="578.90" font-family="'DejaVu Sans Condensed', 'DejaVu Sans', sans-serif" font-size="9.1" fill="#111" textLength="93.80" lengthAdjust="spacingAndGlyphs">Ranking metric scores</text>
</g>
<g filter="url(#gs)">
<rect x="1667.0" y="638.6" width="371.3" height="371.0" fill="#f2f2f2"/>
<rect x="1712.6" y="675.0" width="320.1" height="286.1" fill="#fff"/>
<line x1="1769.4" y1="675.0" x2="1769.4" y2="812.7" stroke="#d9d9d9" stroke-width="0.7" stroke-dasharray="1.2 1.2"/>
<line x1="1769.4" y1="869.6" x2="1769.4" y2="961.1" stroke="#d9d9d9" stroke-width="0.7" stroke-dasharray="1.2 1.2"/>
<line x1="1827.6" y1="675.0" x2="1827.6" y2="812.7" stroke="#d9d9d9" stroke-width="0.7" stroke-dasharray="1.2 1.2"/>
<line x1="1827.6" y1="869.6" x2="1827.6" y2="961.1" stroke="#d9d9d9" stroke-width="0.7" stroke-dasharray="1.2 1.2"/>
<line x1="1884.4" y1="675.0" x2="1884.4" y2="812.7" stroke="#d9d9d9" stroke-width="0.7" stroke-dasharray="1.2 1.2"/>
<line x1="1884.4" y1="869.6" x2="1884.4" y2="961.1" stroke="#d9d9d9" stroke-width="0.7" stroke-dasharray="1.2 1.2"/>
<line x1="1942.6" y1="675.0" x2="1942.6" y2="812.7" stroke="#d9d9d9" stroke-width="0.7" stroke-dasharray="1.2 1.2"/>
<line x1="1942.6" y1="869.6" x2="1942.6" y2="961.1" stroke="#d9d9d9" stroke-width="0.7" stroke-dasharray="1.2 1.2"/>
<line x1="1999.8" y1="675.0" x2="1999.8" y2="812.7" stroke="#d9d9d9" stroke-width="0.7" stroke-dasharray="1.2 1.2"/>
<line x1="1999.8" y1="869.6" x2="1999.8" y2="961.1" stroke="#d9d9d9" stroke-width="0.7" stroke-dasharray="1.2 1.2"/>
<line x1="1712.6" y1="684.9" x2="2032.7" y2="684.9" stroke="#bdbdbd" stroke-width="1"/>
<line x1="1710.6" y1="684.9" x2="1712.6" y2="684.9" stroke="#999" stroke-width="0.7"/>
<text x="1708.00" y="688.10" font-family="'DejaVu Sans Condensed', 'DejaVu Sans', sans-serif" font-size="9.2" fill="#444" text-anchor="end" textLength="13.00" lengthAdjust="spacingAndGlyphs">0.0</text>
<line x1="1712.6" y1="703.8" x2="2032.7" y2="703.8" stroke="#d9d9d9" stroke-width="0.7" stroke-dasharray="1.2 1.2"/>
<line x1="1710.6" y1="703.8" x2="1712.6" y2="703.8" stroke="#999" stroke-width="0.7"/>
<text x="1708.00" y="707.00" font-family="'DejaVu Sans Condensed', 'DejaVu Sans', sans-serif" font-size="9.2" fill="#444" text-anchor="end" textLength="15.30" lengthAdjust="spacingAndGlyphs">-0.1</text>
<line x1="1712.6" y1="722.9" x2="2032.7" y2="722.9" stroke="#d9d9d9" stroke-width="0.7" stroke-dasharray="1.2 1.2"/>
<line x1="1710.6" y1="722.9" x2="1712.6" y2="722.9" stroke="#999" stroke-width="0.7"/>
<text x="1708.00" y="726.10" font-family="'DejaVu Sans Condensed', 'DejaVu Sans', sans-serif" font-size="9.2" fill="#444" text-anchor="end" textLength="15.30" lengthAdjust="spacingAndGlyphs">-0.2</text>
<line x1="1712.6" y1="742.1" x2="2032.7" y2="742.1" stroke="#d9d9d9" stroke-width="0.7" stroke-dasharray="1.2 1.2"/>
<line x1="1710.6" y1="742.1" x2="1712.6" y2="742.1" stroke="#999" stroke-width="0.7"/>
<text x="1708.00" y="745.30" font-family="'DejaVu Sans Condensed', 'DejaVu Sans', sans-serif" font-size="9.2" fill="#444" text-anchor="end" textLength="15.30" lengthAdjust="spacingAndGlyphs">-0.3</text>
<line x1="1712.6" y1="761.2" x2="2032.7" y2="761.2" stroke="#d9d9d9" stroke-width="0.7" stroke-dasharray="1.2 1.2"/>
<line x1="1710.6" y1="761.2" x2="1712.6" y2="761.2" stroke="#999" stroke-width="0.7"/>
<text x="1708.00" y="764.40" font-family="'DejaVu Sans Condensed', 'DejaVu Sans', sans-serif" font-size="9.2" fill="#444" text-anchor="end" textLength="15.30" lengthAdjust="spacingAndGlyphs">-0.4</text>
<line x1="1712.6" y1="780.7" x2="2032.7" y2="780.7" stroke="#d9d9d9" stroke-width="0.7" stroke-dasharray="1.2 1.2"/>
<line x1="1710.6" y1="780.7" x2="1712.6" y2="780.7" stroke="#999" stroke-width="0.7"/>
<text x="1708.00" y="783.90" font-family="'DejaVu Sans Condensed', 'DejaVu Sans', sans-serif" font-size="9.2" fill="#444" text-anchor="end" textLength="15.30" lengthAdjust="spacingAndGlyphs">-0.5</text>
<line x1="1712.6" y1="799.7" x2="2032.7" y2="799.7" stroke="#d9d9d9" stroke-width="0.7" stroke-dasharray="1.2 1.2"/>
<line x1="1710.6" y1="799.7" x2="1712.6" y2="799.7" stroke="#999" stroke-width="0.7"/>
<text x="1708.00" y="802.90" font-family="'DejaVu Sans Condensed', 'DejaVu Sans', sans-serif" font-size="9.2" fill="#444" text-anchor="end" textLength="15.30" lengthAdjust="spacingAndGlyphs">-0.6</text>
<line x1="1712.6" y1="881.2" x2="2032.7" y2="881.2" stroke="#d9d9d9" stroke-width="0.7" stroke-dasharray="1.2 1.2"/>
<text x="1708.20" y="884.40" font-family="'DejaVu Sans Condensed', 'DejaVu Sans', sans-serif" font-size="9.2" fill="#333" text-anchor="end" textLength="4.60" lengthAdjust="spacingAndGlyphs">4</text>
<line x1="1712.6" y1="898.0" x2="2032.7" y2="898.0" stroke="#d9d9d9" stroke-width="0.7" stroke-dasharray="1.2 1.2"/>
<text x="1708.20" y="901.20" font-family="'DejaVu Sans Condensed', 'DejaVu Sans', sans-serif" font-size="9.2" fill="#333" text-anchor="end" textLength="4.60" lengthAdjust="spacingAndGlyphs">2</text>
<line x1="1712.6" y1="914.8" x2="2032.7" y2="914.8" stroke="#d9d9d9" stroke-width="0.7" stroke-dasharray="1.2 1.2"/>
<text x="1708.20" y="918.00" font-family="'DejaVu Sans Condensed', 'DejaVu Sans', sans-serif" font-size="9.2" fill="#333" text-anchor="end" textLength="4.60" lengthAdjust="spacingAndGlyphs">0</text>
<line x1="1712.6" y1="931.7" x2="2032.7" y2="931.7" stroke="#d9d9d9" stroke-width="0.7" stroke-dasharray="1.2 1.2"/>
<text x="1708.20" y="934.90" font-family="'DejaVu Sans Condensed', 'DejaVu Sans', sans-serif" font-size="9.2" fill="#333" text-anchor="end" textLength="7.60" lengthAdjust="spacingAndGlyphs">-2</text>
<line x1="1712.6" y1="948.5" x2="2032.7" y2="948.5" stroke="#d9d9d9" stroke-width="0.7" stroke-dasharray="1.2 1.2"/>
<text x="1708.20" y="951.70" font-family="'DejaVu Sans Condensed', 'DejaVu Sans', sans-serif" font-size="9.2" fill="#333" text-anchor="end" textLength="7.60" lengthAdjust="spacingAndGlyphs">-4</text>
<rect x="1712.6" y="675.0" width="320.1" height="137.7" fill="none" stroke="#c8c8c8" stroke-width="0.8"/>
<rect x="1712.6" y="812.7" width="320.1" height="45.1" fill="none" stroke="#c8c8c8" stroke-width="0.8"/>
<rect x="1712.6" y="857.8" width="320.1" height="11.8" fill="none" stroke="#c8c8c8" stroke-width="0.8"/>
<rect x="1712.6" y="869.6" width="320.1" height="91.5" fill="none" stroke="#c8c8c8" stroke-width="0.8"/>
<line x1="1712.6" y1="869.6" x2="1712.6" y2="961.1" stroke="#8a8a8a" stroke-width="0.8"/>
<line x1="1712.6" y1="961.1" x2="2032.7" y2="961.1" stroke="#8a8a8a" stroke-width="0.8"/>
<rect x="1712.2" y="858.2" width="15.9" height="11.2" fill="#d42222"/>
<rect x="1727.9" y="858.2" width="48.5" height="11.2" fill="#f45252"/>
<rect x="1776.1" y="858.2" width="28.0" height="11.2" fill="#fa7a80"/>
<rect x="1803.8" y="858.2" width="108.4" height="11.2" fill="#fdbde2"/>
<rect x="1911.9" y="858.2" width="60.9" height="11.2" fill="#d3d2fb"/>
<rect x="1972.5" y="858.2" width="9.8" height="11.2" fill="#8c8af6"/>
<rect x="1982.1" y="858.2" width="24.5" height="11.2" fill="#6b5aea"/>
<rect x="2006.3" y="858.2" width="11.0" height="11.2" fill="#2b0ac9"/>
<path d="M1738.3 814.6V869.3M1746.2 814.6V869.3M1812.5 814.6V869.3M1865.7 814.6V869.3M1909.6 814.6V869.3M1910.4 814.6V869.3M1920.5 814.6V869.3M1923.5 814.6V869.3M1925.4 814.6V869.3M1948.3 814.6V869.3M1949.1 814.6V869.3M1956.7 814.6V869.3M1960.5 814.6V869.3M1963.4 814.6V869.3M1972.9 814.6V869.3M1981.7 814.6V869.3M1982.6 814.6V869.3M1983.4 814.6V869.3M1987.2 814.6V869.3M1990.3 814.6V869.3M1993.1 814.6V869.3M1993.7 814.6V869.3M2009.9 814.6V869.3M2010.7 814.6V869.3M2011.6 814.6V869.3M2012.2 814.6V869.3" stroke="#000" stroke-width="0.75" opacity=".16" fill="none"/>
<path d="M1738.3 814.6V857.8M1746.2 814.6V857.8M1812.5 814.6V857.8M1865.7 814.6V857.8M1909.6 814.6V857.8M1910.4 814.6V857.8M1920.5 814.6V857.8M1923.5 814.6V857.8M1925.4 814.6V857.8M1948.3 814.6V857.8M1949.1 814.6V857.8M1956.7 814.6V857.8M1960.5 814.6V857.8M1963.4 814.6V857.8M1972.9 814.6V857.8M1981.7 814.6V857.8M1982.6 814.6V857.8M1983.4 814.6V857.8M1987.2 814.6V857.8M1990.3 814.6V857.8M1993.1 814.6V857.8M1993.7 814.6V857.8M2009.9 814.6V857.8M2010.7 814.6V857.8M2011.6 814.6V857.8M2012.2 814.6V857.8" stroke="#0a0a0a" stroke-width="0.8" opacity=".9" fill="none"/>
<path d="M1712.6 884.1 L1713.5 889.9 L1716.4 895.6 L1722.0 899.4 L1731.5 902.3 L1750.3 906.1 L1769.2 909.0 L1788.1 911.4 L1803.2 912.9 L1816.4 914.8 L1712.6 915.4Z" fill="#bcbcbc"/>
<path d="M1910.7 914.8 L1929.6 916.7 L1948.5 918.7 L1967.4 920.9 L1986.2 924.4 L1999.4 929.2 L2008.9 935.9 L2013.6 943.6 L2016.1 951.3 L2017.0 957.1 L2017.0 914.2 L1910.7 914.2Z" fill="#bcbcbc"/>
<line x1="1817.1" y1="873.6" x2="1817.1" y2="961.1" stroke="#b4b4b4" stroke-width="0.8" stroke-dasharray="2.4 1.8"/>
<text x="1817.10" y="917.80" font-family="'DejaVu Sans Condensed', 'DejaVu Sans', sans-serif" font-size="7.0" fill="#444" text-anchor="middle" textLength="62.90" lengthAdjust="spacing">Zero cross at 9099</text>
<text x="1715.20" y="877.00" font-family="'DejaVu Sans Condensed', 'DejaVu Sans', sans-serif" font-size="7.8" fill="#ff3a3a" textLength="107.00" lengthAdjust="spacingAndGlyphs">'ClassA' (positively correlated)</text>
<text x="1981.30" y="957.70" font-family="'DejaVu Sans Condensed', 'DejaVu Sans', sans-serif" font-size="7.8" fill="#4a4aff" text-anchor="end" textLength="109.80" lengthAdjust="spacingAndGlyphs">'ClassB' (negatively correlated)</text>
<text x="1712.60" y="972.40" font-family="'DejaVu Sans Condensed', 'DejaVu Sans', sans-serif" font-size="9.2" fill="#333" text-anchor="middle" textLength="4.60" lengthAdjust="spacingAndGlyphs">0</text>
<line x1="1769.4" y1="961.1" x2="1769.4" y2="962.9" stroke="#8a8a8a" stroke-width="0.7"/>
<text x="1769.40" y="972.40" font-family="'DejaVu Sans Condensed', 'DejaVu Sans', sans-serif" font-size="9.2" fill="#333" text-anchor="middle" textLength="19.50" lengthAdjust="spacingAndGlyphs">5,000</text>
<line x1="1827.6" y1="961.1" x2="1827.6" y2="962.9" stroke="#8a8a8a" stroke-width="0.7"/>
<text x="1827.60" y="972.40" font-family="'DejaVu Sans Condensed', 'DejaVu Sans', sans-serif" font-size="9.2" fill="#333" text-anchor="middle" textLength="23.80" lengthAdjust="spacingAndGlyphs">10,000</text>
<line x1="1884.4" y1="961.1" x2="1884.4" y2="962.9" stroke="#8a8a8a" stroke-width="0.7"/>
<text x="1884.40" y="972.40" font-family="'DejaVu Sans Condensed', 'DejaVu Sans', sans-serif" font-size="9.2" fill="#333" text-anchor="middle" textLength="23.80" lengthAdjust="spacingAndGlyphs">15,000</text>
<line x1="1942.6" y1="961.1" x2="1942.6" y2="962.9" stroke="#8a8a8a" stroke-width="0.7"/>
<text x="1942.60" y="972.40" font-family="'DejaVu Sans Condensed', 'DejaVu Sans', sans-serif" font-size="9.2" fill="#333" text-anchor="middle" textLength="23.80" lengthAdjust="spacingAndGlyphs">20,000</text>
<line x1="1999.8" y1="961.1" x2="1999.8" y2="962.9" stroke="#8a8a8a" stroke-width="0.7"/>
<text x="1999.80" y="972.40" font-family="'DejaVu Sans Condensed', 'DejaVu Sans', sans-serif" font-size="9.2" fill="#333" text-anchor="middle" textLength="23.80" lengthAdjust="spacingAndGlyphs">25,000</text>
<text x="1872.65" y="983.50" font-family="'DejaVu Sans Condensed', 'DejaVu Sans', sans-serif" font-size="9.1" fill="#111" text-anchor="middle" textLength="106.80" lengthAdjust="spacingAndGlyphs">Rank in Ordered Dataset</text>
<text transform="translate(1685.5 743.9) rotate(-90)" font-family="'DejaVu Sans', sans-serif" font-size="10.6" font-weight="bold" fill="#222" text-anchor="middle" textLength="115.8" lengthAdjust="spacingAndGlyphs">Enrichment score (ES)</text>
<text transform="translate(1690.6 913.6) rotate(-90)" font-family="'DejaVu Sans Condensed', 'DejaVu Sans', sans-serif" font-size="9.1" fill="#111" text-anchor="middle" textLength="142" lengthAdjust="spacingAndGlyphs">Ranked list metric (Signal2Noise)</text>
<path d="M1712.8 684.9 L1738.0 700.6 L1738.5 688.5 L1746.0 693.9 L1746.5 683.8 L1748.4 684.4 L1811.4 725.0 L1813.3 725.0 L1845.7 745.8 L1883.9 770.6 L1918.2 791.7 L1922.0 793.6 L1925.8 791.7 L1947.7 805.8 L1948.7 801.1 L1949.6 797.8 L1956.3 802.0 L1956.9 796.9 L1960.1 798.8 L1960.7 793.1 L1962.6 794.4 L1963.4 787.3 L1972.5 794.0 L1973.1 785.4 L1981.7 791.1 L1982.3 780.7 L1983.4 781.6 L1983.8 771.1 L1986.8 773.0 L1987.4 761.0 L1990.3 762.9 L1990.6 750.1 L1992.9 752.1 L1993.5 737.8 L1994.1 723.4 L2010.1 734.3 L2010.7 708.2 L2011.6 709.1 L2012.2 680.5 L2017.3 684.4" fill="none" stroke="#00ff00" stroke-width="2.0" stroke-linejoin="round" stroke-linecap="round"/>
<text x="1850.70" y="652.00" font-family="'DejaVu Sans', sans-serif" font-size="12.3" fill="#000" font-weight="bold" text-anchor="middle" textLength="113.50" lengthAdjust="spacingAndGlyphs">Enrichment plot:</text>
<text x="1852.60" y="668.40" font-family="'DejaVu Sans', sans-serif" font-size="12.3" fill="#000" font-weight="bold" text-anchor="middle" textLength="305.50" lengthAdjust="spacingAndGlyphs">REACTOME_HDMS_DEMETHYLATE_HISTONES</text>
<rect x="1722.3" y="992.0" width="260.9" height="17.0" fill="#fff" stroke="#000" stroke-width="0.9"/>
<line x1="1724.6" y1="1000.6" x2="1736.1" y2="1000.6" stroke="#00ff00" stroke-width="1.4"/>
<text x="1738.50" y="1003.90" font-family="'DejaVu Sans Condensed', 'DejaVu Sans', sans-serif" font-size="9.1" fill="#111" textLength="77.20" lengthAdjust="spacingAndGlyphs">Enrichment profile</text>
<line x1="1820.5" y1="1000.6" x2="1831.0" y2="1000.6" stroke="#333" stroke-width="0.8"/>
<text x="1833.90" y="1003.90" font-family="'DejaVu Sans Condensed', 'DejaVu Sans', sans-serif" font-size="9.1" fill="#111" textLength="16.20" lengthAdjust="spacingAndGlyphs">Hits</text>
<line x1="1872.0" y1="1000.6" x2="1882.5" y2="1000.6" stroke="#c4c4c4" stroke-width="0.8"/>
<text x="1886.00" y="1003.90" font-family="'DejaVu Sans Condensed', 'DejaVu Sans', sans-serif" font-size="9.1" fill="#111" textLength="93.80" lengthAdjust="spacingAndGlyphs">Ranking metric scores</text>
</g>
<g filter="url(#gs)">
<rect x="1667.0" y="1063.4" width="371.3" height="371.0" fill="#f2f2f2"/>
<rect x="1709.5" y="1084.0" width="323.2" height="302.1" fill="#fff"/>
<line x1="1767.5" y1="1084.0" x2="1767.5" y2="1228.5" stroke="#d9d9d9" stroke-width="0.7" stroke-dasharray="1.2 1.2"/>
<line x1="1767.5" y1="1289.3" x2="1767.5" y2="1386.1" stroke="#d9d9d9" stroke-width="0.7" stroke-dasharray="1.2 1.2"/>
<line x1="1825.3" y1="1084.0" x2="1825.3" y2="1228.5" stroke="#d9d9d9" stroke-width="0.7" stroke-dasharray="1.2 1.2"/>
<line x1="1825.3" y1="1289.3" x2="1825.3" y2="1386.1" stroke="#d9d9d9" stroke-width="0.7" stroke-dasharray="1.2 1.2"/>
<line x1="1883.5" y1="1084.0" x2="1883.5" y2="1228.5" stroke="#d9d9d9" stroke-width="0.7" stroke-dasharray="1.2 1.2"/>
<line x1="1883.5" y1="1289.3" x2="1883.5" y2="1386.1" stroke="#d9d9d9" stroke-width="0.7" stroke-dasharray="1.2 1.2"/>
<line x1="1941.0" y1="1084.0" x2="1941.0" y2="1228.5" stroke="#d9d9d9" stroke-width="0.7" stroke-dasharray="1.2 1.2"/>
<line x1="1941.0" y1="1289.3" x2="1941.0" y2="1386.1" stroke="#d9d9d9" stroke-width="0.7" stroke-dasharray="1.2 1.2"/>
<line x1="1999.6" y1="1084.0" x2="1999.6" y2="1228.5" stroke="#d9d9d9" stroke-width="0.7" stroke-dasharray="1.2 1.2"/>
<line x1="1999.6" y1="1289.3" x2="1999.6" y2="1386.1" stroke="#d9d9d9" stroke-width="0.7" stroke-dasharray="1.2 1.2"/>
<line x1="1709.5" y1="1092.0" x2="2032.7" y2="1092.0" stroke="#d9d9d9" stroke-width="0.7" stroke-dasharray="1.2 1.2"/>
<line x1="1707.5" y1="1092.0" x2="1709.5" y2="1092.0" stroke="#999" stroke-width="0.7"/>
<text x="1704.90" y="1095.20" font-family="'DejaVu Sans Condensed', 'DejaVu Sans', sans-serif" font-size="9.2" fill="#444" text-anchor="end" textLength="13.00" lengthAdjust="spacingAndGlyphs">0.6</text>
<line x1="1709.5" y1="1112.6" x2="2032.7" y2="1112.6" stroke="#d9d9d9" stroke-width="0.7" stroke-dasharray="1.2 1.2"/>
<line x1="1707.5" y1="1112.6" x2="1709.5" y2="1112.6" stroke="#999" stroke-width="0.7"/>
<text x="1704.90" y="1115.80" font-family="'DejaVu Sans Condensed', 'DejaVu Sans', sans-serif" font-size="9.2" fill="#444" text-anchor="end" textLength="13.00" lengthAdjust="spacingAndGlyphs">0.5</text>
<line x1="1709.5" y1="1133.5" x2="2032.7" y2="1133.5" stroke="#d9d9d9" stroke-width="0.7" stroke-dasharray="1.2 1.2"/>
<line x1="1707.5" y1="1133.5" x2="1709.5" y2="1133.5" stroke="#999" stroke-width="0.7"/>
<text x="1704.90" y="1136.70" font-family="'DejaVu Sans Condensed', 'DejaVu Sans', sans-serif" font-size="9.2" fill="#444" text-anchor="end" textLength="13.00" lengthAdjust="spacingAndGlyphs">0.4</text>
<line x1="1709.5" y1="1154.5" x2="2032.7" y2="1154.5" stroke="#d9d9d9" stroke-width="0.7" stroke-dasharray="1.2 1.2"/>
<line x1="1707.5" y1="1154.5" x2="1709.5" y2="1154.5" stroke="#999" stroke-width="0.7"/>
<text x="1704.90" y="1157.70" font-family="'DejaVu Sans Condensed', 'DejaVu Sans', sans-serif" font-size="9.2" fill="#444" text-anchor="end" textLength="13.00" lengthAdjust="spacingAndGlyphs">0.3</text>
<line x1="1709.5" y1="1175.3" x2="2032.7" y2="1175.3" stroke="#d9d9d9" stroke-width="0.7" stroke-dasharray="1.2 1.2"/>
<line x1="1707.5" y1="1175.3" x2="1709.5" y2="1175.3" stroke="#999" stroke-width="0.7"/>
<text x="1704.90" y="1178.50" font-family="'DejaVu Sans Condensed', 'DejaVu Sans', sans-serif" font-size="9.2" fill="#444" text-anchor="end" textLength="13.00" lengthAdjust="spacingAndGlyphs">0.2</text>
<line x1="1709.5" y1="1196.5" x2="2032.7" y2="1196.5" stroke="#d9d9d9" stroke-width="0.7" stroke-dasharray="1.2 1.2"/>
<line x1="1707.5" y1="1196.5" x2="1709.5" y2="1196.5" stroke="#999" stroke-width="0.7"/>
<text x="1704.90" y="1199.70" font-family="'DejaVu Sans Condensed', 'DejaVu Sans', sans-serif" font-size="9.2" fill="#444" text-anchor="end" textLength="13.00" lengthAdjust="spacingAndGlyphs">0.1</text>
<line x1="1709.5" y1="1217.4" x2="2032.7" y2="1217.4" stroke="#bdbdbd" stroke-width="1"/>
<line x1="1707.5" y1="1217.4" x2="1709.5" y2="1217.4" stroke="#999" stroke-width="0.7"/>
<text x="1704.90" y="1220.60" font-family="'DejaVu Sans Condensed', 'DejaVu Sans', sans-serif" font-size="9.2" fill="#444" text-anchor="end" textLength="13.00" lengthAdjust="spacingAndGlyphs">0.0</text>
<line x1="1709.5" y1="1301.8" x2="2032.7" y2="1301.8" stroke="#d9d9d9" stroke-width="0.7" stroke-dasharray="1.2 1.2"/>
<text x="1705.10" y="1305.00" font-family="'DejaVu Sans Condensed', 'DejaVu Sans', sans-serif" font-size="9.2" fill="#333" text-anchor="end" textLength="4.60" lengthAdjust="spacingAndGlyphs">4</text>
<line x1="1709.5" y1="1319.6" x2="2032.7" y2="1319.6" stroke="#d9d9d9" stroke-width="0.7" stroke-dasharray="1.2 1.2"/>
<text x="1705.10" y="1322.80" font-family="'DejaVu Sans Condensed', 'DejaVu Sans', sans-serif" font-size="9.2" fill="#333" text-anchor="end" textLength="4.60" lengthAdjust="spacingAndGlyphs">2</text>
<line x1="1709.5" y1="1337.7" x2="2032.7" y2="1337.7" stroke="#d9d9d9" stroke-width="0.7" stroke-dasharray="1.2 1.2"/>
<text x="1705.10" y="1340.90" font-family="'DejaVu Sans Condensed', 'DejaVu Sans', sans-serif" font-size="9.2" fill="#333" text-anchor="end" textLength="4.60" lengthAdjust="spacingAndGlyphs">0</text>
<line x1="1709.5" y1="1355.2" x2="2032.7" y2="1355.2" stroke="#d9d9d9" stroke-width="0.7" stroke-dasharray="1.2 1.2"/>
<text x="1705.10" y="1358.40" font-family="'DejaVu Sans Condensed', 'DejaVu Sans', sans-serif" font-size="9.2" fill="#333" text-anchor="end" textLength="7.60" lengthAdjust="spacingAndGlyphs">-2</text>
<line x1="1709.5" y1="1373.0" x2="2032.7" y2="1373.0" stroke="#d9d9d9" stroke-width="0.7" stroke-dasharray="1.2 1.2"/>
<text x="1705.10" y="1376.20" font-family="'DejaVu Sans Condensed', 'DejaVu Sans', sans-serif" font-size="9.2" fill="#333" text-anchor="end" textLength="7.60" lengthAdjust="spacingAndGlyphs">-4</text>
<rect x="1709.5" y="1084.0" width="323.2" height="144.5" fill="none" stroke="#c8c8c8" stroke-width="0.8"/>
<rect x="1709.5" y="1228.5" width="323.2" height="48.2" fill="none" stroke="#c8c8c8" stroke-width="0.8"/>
<rect x="1709.5" y="1276.7" width="323.2" height="12.6" fill="none" stroke="#c8c8c8" stroke-width="0.8"/>
<rect x="1709.5" y="1289.3" width="323.2" height="96.8" fill="none" stroke="#c8c8c8" stroke-width="0.8"/>
<line x1="1709.5" y1="1289.3" x2="1709.5" y2="1386.1" stroke="#8a8a8a" stroke-width="0.8"/>
<line x1="1709.5" y1="1386.1" x2="2032.7" y2="1386.1" stroke="#8a8a8a" stroke-width="0.8"/>
<rect x="1709.5" y="1277.1" width="8.7" height="12.0" fill="#d42222"/>
<rect x="1717.9" y="1277.1" width="55.6" height="12.0" fill="#f45252"/>
<rect x="1773.2" y="1277.1" width="28.9" height="12.0" fill="#fa7a80"/>
<rect x="1801.8" y="1277.1" width="109.4" height="12.0" fill="#fdbde2"/>
<rect x="1910.9" y="1277.1" width="61.3" height="12.0" fill="#d3d2fb"/>
<rect x="1972.0" y="1277.1" width="10.0" height="12.0" fill="#8c8af6"/>
<rect x="1981.7" y="1277.1" width="24.5" height="12.0" fill="#6b5aea"/>
<rect x="2005.9" y="1277.1" width="11.4" height="12.0" fill="#2b0ac9"/>
<rect x="1725.6" y="1230.4" width="8.6" height="46.3" fill="#1c1c1c"/>
<rect x="1737.0" y="1230.4" width="3.4" height="46.3" fill="#111"/>
<path d="M1715.5 1230.4V1289.0M1718.7 1230.4V1289.0M1719.7 1230.4V1289.0M1720.6 1230.4V1289.0M1721.6 1230.4V1289.0M1722.5 1230.4V1289.0M1723.5 1230.4V1289.0M1724.4 1230.4V1289.0M1735.1 1230.4V1289.0M1743.7 1230.4V1289.0M1744.6 1230.4V1289.0M1746.7 1230.4V1289.0M1747.7 1230.4V1289.0M1748.6 1230.4V1289.0M1749.4 1230.4V1289.0M1753.6 1230.4V1289.0M1758.2 1230.4V1289.0M1759.1 1230.4V1289.0M1760.1 1230.4V1289.0M1761.0 1230.4V1289.0M1762.0 1230.4V1289.0M1763.9 1230.4V1289.0M1764.8 1230.4V1289.0M1765.8 1230.4V1289.0M1766.8 1230.4V1289.0M1767.7 1230.4V1289.0M1768.7 1230.4V1289.0M1769.6 1230.4V1289.0M1770.4 1230.4V1289.0M1778.0 1230.4V1289.0M1778.8 1230.4V1289.0M1779.3 1230.4V1289.0M1788.7 1230.4V1289.0M1789.4 1230.4V1289.0M1790.2 1230.4V1289.0M1791.0 1230.4V1289.0M1791.7 1230.4V1289.0M1792.5 1230.4V1289.0M1793.3 1230.4V1289.0M1796.5 1230.4V1289.0M1799.0 1230.4V1289.0M1804.1 1230.4V1289.0M1809.1 1230.4V1289.0M1813.3 1230.4V1289.0M1907.7 1230.4V1289.0M1911.5 1230.4V1289.0M1912.3 1230.4V1289.0M1913.2 1230.4V1289.0M1914.0 1230.4V1289.0M1914.7 1230.4V1289.0M1918.2 1230.4V1289.0M1919.1 1230.4V1289.0M1920.1 1230.4V1289.0M1921.0 1230.4V1289.0M1922.0 1230.4V1289.0M1925.8 1230.4V1289.0M1929.0 1230.4V1289.0M1932.9 1230.4V1289.0M1933.8 1230.4V1289.0M1934.8 1230.4V1289.0M1935.7 1230.4V1289.0M1936.7 1230.4V1289.0M1937.2 1230.4V1289.0M1945.8 1230.4V1289.0M1952.5 1230.4V1289.0M1953.8 1230.4V1289.0M1955.2 1230.4V1289.0M1956.3 1230.4V1289.0M1957.3 1230.4V1289.0M1958.2 1230.4V1289.0M1966.4 1230.4V1289.0M1974.8 1230.4V1289.0" stroke="#000" stroke-width="0.75" opacity=".16" fill="none"/>
<path d="M1715.5 1230.4V1276.7M1718.7 1230.4V1276.7M1719.7 1230.4V1276.7M1720.6 1230.4V1276.7M1721.6 1230.4V1276.7M1722.5 1230.4V1276.7M1723.5 1230.4V1276.7M1724.4 1230.4V1276.7M1735.1 1230.4V1276.7M1743.7 1230.4V1276.7M1744.6 1230.4V1276.7M1746.7 1230.4V1276.7M1747.7 1230.4V1276.7M1748.6 1230.4V1276.7M1749.4 1230.4V1276.7M1753.6 1230.4V1276.7M1758.2 1230.4V1276.7M1759.1 1230.4V1276.7M1760.1 1230.4V1276.7M1761.0 1230.4V1276.7M1762.0 1230.4V1276.7M1763.9 1230.4V1276.7M1764.8 1230.4V1276.7M1765.8 1230.4V1276.7M1766.8 1230.4V1276.7M1767.7 1230.4V1276.7M1768.7 1230.4V1276.7M1769.6 1230.4V1276.7M1770.4 1230.4V1276.7M1778.0 1230.4V1276.7M1778.8 1230.4V1276.7M1779.3 1230.4V1276.7M1788.7 1230.4V1276.7M1789.4 1230.4V1276.7M1790.2 1230.4V1276.7M1791.0 1230.4V1276.7M1791.7 1230.4V1276.7M1792.5 1230.4V1276.7M1793.3 1230.4V1276.7M1796.5 1230.4V1276.7M1799.0 1230.4V1276.7M1804.1 1230.4V1276.7M1809.1 1230.4V1276.7M1813.3 1230.4V1276.7M1907.7 1230.4V1276.7M1911.5 1230.4V1276.7M1912.3 1230.4V1276.7M1913.2 1230.4V1276.7M1914.0 1230.4V1276.7M1914.7 1230.4V1276.7M1918.2 1230.4V1276.7M1919.1 1230.4V1276.7M1920.1 1230.4V1276.7M1921.0 1230.4V1276.7M1922.0 1230.4V1276.7M1925.8 1230.4V1276.7M1929.0 1230.4V1276.7M1932.9 1230.4V1276.7M1933.8 1230.4V1276.7M1934.8 1230.4V1276.7M1935.7 1230.4V1276.7M1936.7 1230.4V1276.7M1937.2 1230.4V1276.7M1945.8 1230.4V1276.7M1952.5 1230.4V1276.7M1953.8 1230.4V1276.7M1955.2 1230.4V1276.7M1956.3 1230.4V1276.7M1957.3 1230.4V1276.7M1958.2 1230.4V1276.7M1966.4 1230.4V1276.7M1974.8 1230.4V1276.7" stroke="#0a0a0a" stroke-width="0.8" opacity=".9" fill="none"/>
<path d="M1709.5 1304.6 L1710.5 1310.8 L1713.3 1317.0 L1719.0 1321.1 L1728.6 1324.2 L1747.6 1328.4 L1766.7 1331.5 L1785.8 1334.0 L1801.0 1335.6 L1814.4 1337.7 L1709.5 1338.3Z" fill="#bcbcbc"/>
<path d="M1909.7 1337.7 L1928.7 1339.8 L1947.8 1341.9 L1966.9 1344.3 L1985.9 1348.0 L1999.3 1353.2 L2008.8 1360.4 L2013.6 1368.7 L2016.0 1377.0 L2017.0 1383.2 L2017.0 1337.1 L1909.7 1337.1Z" fill="#bcbcbc"/>
<line x1="1814.8" y1="1293.3" x2="1814.8" y2="1386.1" stroke="#b4b4b4" stroke-width="0.8" stroke-dasharray="2.4 1.8"/>
<text x="1814.80" y="1340.70" font-family="'DejaVu Sans Condensed', 'DejaVu Sans', sans-serif" font-size="7.0" fill="#444" text-anchor="middle" textLength="62.90" lengthAdjust="spacing">Zero cross at 9099</text>
<text x="1712.10" y="1296.70" font-family="'DejaVu Sans Condensed', 'DejaVu Sans', sans-serif" font-size="7.8" fill="#ff3a3a" textLength="107.00" lengthAdjust="spacingAndGlyphs">'ClassA' (positively correlated)</text>
<text x="1981.30" y="1382.70" font-family="'DejaVu Sans Condensed', 'DejaVu Sans', sans-serif" font-size="7.8" fill="#4a4aff" text-anchor="end" textLength="109.80" lengthAdjust="spacingAndGlyphs">'ClassB' (negatively correlated)</text>
<text x="1709.50" y="1397.20" font-family="'DejaVu Sans Condensed', 'DejaVu Sans', sans-serif" font-size="9.2" fill="#333" text-anchor="middle" textLength="4.60" lengthAdjust="spacingAndGlyphs">0</text>
<line x1="1767.5" y1="1386.1" x2="1767.5" y2="1387.9" stroke="#8a8a8a" stroke-width="0.7"/>
<text x="1767.50" y="1397.20" font-family="'DejaVu Sans Condensed', 'DejaVu Sans', sans-serif" font-size="9.2" fill="#333" text-anchor="middle" textLength="19.50" lengthAdjust="spacingAndGlyphs">5,000</text>
<line x1="1825.3" y1="1386.1" x2="1825.3" y2="1387.9" stroke="#8a8a8a" stroke-width="0.7"/>
<text x="1825.30" y="1397.20" font-family="'DejaVu Sans Condensed', 'DejaVu Sans', sans-serif" font-size="9.2" fill="#333" text-anchor="middle" textLength="23.80" lengthAdjust="spacingAndGlyphs">10,000</text>
<line x1="1883.5" y1="1386.1" x2="1883.5" y2="1387.9" stroke="#8a8a8a" stroke-width="0.7"/>
<text x="1883.50" y="1397.20" font-family="'DejaVu Sans Condensed', 'DejaVu Sans', sans-serif" font-size="9.2" fill="#333" text-anchor="middle" textLength="23.80" lengthAdjust="spacingAndGlyphs">15,000</text>
<line x1="1941.0" y1="1386.1" x2="1941.0" y2="1387.9" stroke="#8a8a8a" stroke-width="0.7"/>
<text x="1941.00" y="1397.20" font-family="'DejaVu Sans Condensed', 'DejaVu Sans', sans-serif" font-size="9.2" fill="#333" text-anchor="middle" textLength="23.80" lengthAdjust="spacingAndGlyphs">20,000</text>
<line x1="1999.6" y1="1386.1" x2="1999.6" y2="1387.9" stroke="#8a8a8a" stroke-width="0.7"/>
<text x="1999.60" y="1397.20" font-family="'DejaVu Sans Condensed', 'DejaVu Sans', sans-serif" font-size="9.2" fill="#333" text-anchor="middle" textLength="23.80" lengthAdjust="spacingAndGlyphs">25,000</text>
<text x="1871.10" y="1409.00" font-family="'DejaVu Sans Condensed', 'DejaVu Sans', sans-serif" font-size="9.1" fill="#111" text-anchor="middle" textLength="106.80" lengthAdjust="spacingAndGlyphs">Rank in Ordered Dataset</text>
<text transform="translate(1685.5 1156.2) rotate(-90)" font-family="'DejaVu Sans', sans-serif" font-size="10.6" font-weight="bold" fill="#222" text-anchor="middle" textLength="115.8" lengthAdjust="spacingAndGlyphs">Enrichment score (ES)</text>
<text transform="translate(1690.6 1336.0) rotate(-90)" font-family="'DejaVu Sans Condensed', 'DejaVu Sans', sans-serif" font-size="9.1" fill="#111" text-anchor="middle" textLength="142" lengthAdjust="spacingAndGlyphs">Ranked list metric (Signal2Noise)</text>
<path d="M1709.5 1217.4 L1715.5 1221.6 L1716.0 1215.9 L1717.9 1218.8 L1718.9 1214.0 L1719.8 1208.3 L1720.8 1201.6 L1721.7 1197.8 L1723.3 1190.2 L1725.2 1192.1 L1725.9 1185.4 L1727.1 1177.8 L1728.4 1174.0 L1729.8 1168.2 L1730.9 1162.5 L1732.2 1153.0 L1733.6 1145.4 L1736.6 1146.3 L1737.4 1133.9 L1738.9 1125.3 L1739.9 1115.8 L1740.8 1114.5 L1743.1 1116.7 L1744.1 1108.2 L1746.5 1108.7 L1748.4 1106.6 L1749.8 1100.0 L1752.3 1101.5 L1754.2 1100.5 L1758.0 1103.0 L1760.8 1095.8 L1763.7 1095.8 L1766.6 1094.8 L1769.4 1091.0 L1772.3 1090.4 L1777.1 1091.6 L1779.3 1090.0 L1784.7 1093.9 L1789.4 1097.1 L1793.3 1095.2 L1797.1 1096.7 L1799.4 1095.8 L1807.6 1100.0 L1817.1 1105.3 L1826.6 1112.0 L1845.7 1124.4 L1864.8 1136.8 L1883.9 1149.2 L1902.9 1162.5 L1912.5 1170.1 L1920.1 1175.5 L1922.9 1175.9 L1927.7 1179.1 L1932.5 1181.0 L1937.2 1178.2 L1944.9 1182.9 L1946.8 1182.0 L1952.9 1186.4 L1958.2 1181.6 L1964.9 1186.0 L1966.8 1185.4 L1973.5 1190.6 L1975.4 1189.2 L1988.7 1198.4 L1998.3 1205.0 L2017.0 1217.4" fill="none" stroke="#00ff00" stroke-width="2.0" stroke-linejoin="round" stroke-linecap="round"/>
<text x="1852.70" y="1076.60" font-family="'DejaVu Sans', sans-serif" font-size="12.3" fill="#000" font-weight="bold" text-anchor="middle" textLength="212.30" lengthAdjust="spacingAndGlyphs">Enrichment plot: MORF_DNMT1</text>
<rect x="1722.3" y="1416.8" width="260.9" height="17.0" fill="#fff" stroke="#000" stroke-width="0.9"/>
<line x1="1724.6" y1="1425.4" x2="1736.1" y2="1425.4" stroke="#00ff00" stroke-width="1.4"/>
<text x="1738.50" y="1428.70" font-family="'DejaVu Sans Condensed', 'DejaVu Sans', sans-serif" font-size="9.1" fill="#111" textLength="77.20" lengthAdjust="spacingAndGlyphs">Enrichment profile</text>
<line x1="1820.5" y1="1425.4" x2="1831.0" y2="1425.4" stroke="#333" stroke-width="0.8"/>
<text x="1833.90" y="1428.70" font-family="'DejaVu Sans Condensed', 'DejaVu Sans', sans-serif" font-size="9.1" fill="#111" textLength="16.20" lengthAdjust="spacingAndGlyphs">Hits</text>
<line x1="1872.0" y1="1425.4" x2="1882.5" y2="1425.4" stroke="#c4c4c4" stroke-width="0.8"/>
<text x="1886.00" y="1428.70" font-family="'DejaVu Sans Condensed', 'DejaVu Sans', sans-serif" font-size="9.1" fill="#111" textLength="93.80" lengthAdjust="spacingAndGlyphs">Ranking metric scores</text>
</g>
</g>
</svg>
</body>
</html>
